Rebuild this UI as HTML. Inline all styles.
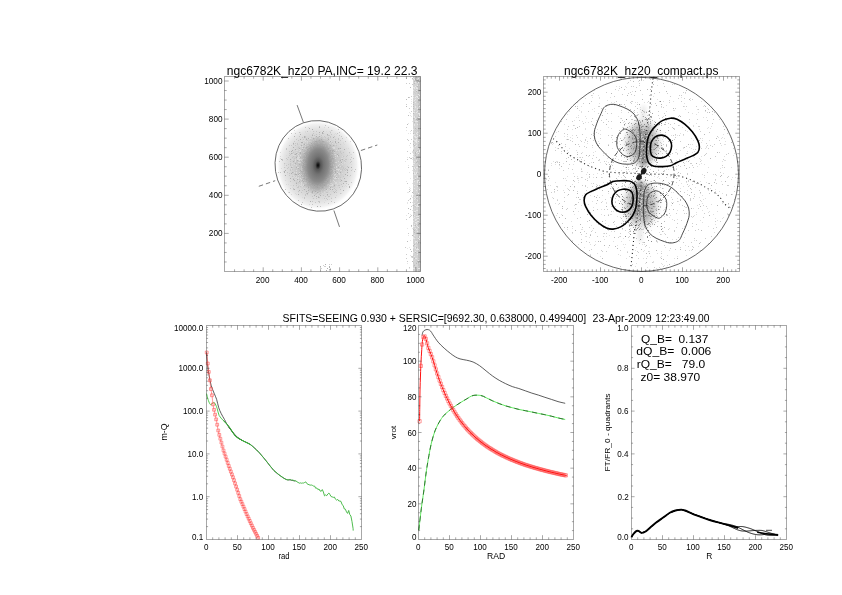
<!DOCTYPE html>
<html><head><meta charset="utf-8"><style>
html,body{margin:0;padding:0;background:#fff;}
svg{display:block;}
text{font-family:"Liberation Sans",sans-serif;white-space:pre;fill:#000;opacity:0.999;}
</style></head><body>
<svg width="842" height="595" viewBox="0 0 842 595">
<rect width="842" height="595" fill="#fff"/>
<defs><radialGradient id="core" cx="0.5" cy="0.5" r="0.5"><stop offset="0" stop-color="#000"/><stop offset="0.06" stop-color="#222"/><stop offset="0.14" stop-color="#555"/><stop offset="0.3" stop-color="#727272"/><stop offset="0.55" stop-color="#8a8a8a"/><stop offset="0.8" stop-color="#a0a0a0" stop-opacity="0.6"/><stop offset="1" stop-color="#b0b0b0" stop-opacity="0"/></radialGradient><radialGradient id="halo" cx="0.5" cy="0.5" r="0.5"><stop offset="0" stop-color="#a8a8a8"/><stop offset="0.35" stop-color="#bcbcbc"/><stop offset="0.6" stop-color="#d0d0d0"/><stop offset="0.82" stop-color="#e4e4e4"/><stop offset="0.92" stop-color="#f2f2f2"/><stop offset="1" stop-color="#fff" stop-opacity="0"/></radialGradient></defs>
<ellipse cx="318.0" cy="165.3" rx="42" ry="45" fill="url(#halo)"/>
<path d="M319 127h1v1h-1zM309 128h1v1h-1zM312 129h1v1h-1zM323 131h1v1h-1zM319 132h1v1h-1zM322 132h1v1h-1zM322 133h1v1h-1zM300 134h1v1h-1zM327 134h1v1h-1zM312 135h1v1h-1zM294 136h1v1h-1zM304 136h1v1h-1zM316 136h1v1h-1zM319 136h1v1h-1zM304 137h1v1h-1zM333 137h1v1h-1zM308 138h1v1h-1zM313 138h1v1h-1zM300 139h1v1h-1zM306 139h1v1h-1zM321 139h1v1h-1zM328 139h1v1h-1zM319 140h1v1h-1zM315 141h1v1h-1zM316 141h1v1h-1zM322 141h1v1h-1zM323 141h1v1h-1zM330 141h1v1h-1zM335 141h1v1h-1zM301 142h1v1h-1zM302 142h1v1h-1zM335 142h1v1h-1zM338 142h1v1h-1zM293 143h1v1h-1zM311 143h1v1h-1zM304 144h1v1h-1zM301 145h1v1h-1zM317 145h1v1h-1zM330 145h1v1h-1zM333 145h1v1h-1zM293 147h1v1h-1zM303 147h1v1h-1zM306 147h1v1h-1zM310 147h1v1h-1zM313 147h1v1h-1zM323 147h1v1h-1zM299 148h1v1h-1zM309 148h1v1h-1zM321 148h1v1h-1zM323 148h1v1h-1zM328 148h1v1h-1zM338 148h1v1h-1zM340 148h1v1h-1zM295 149h1v1h-1zM302 149h1v1h-1zM307 149h1v1h-1zM344 149h1v1h-1zM292 150h1v1h-1zM322 150h1v1h-1zM324 150h1v1h-1zM330 150h1v1h-1zM332 150h1v1h-1zM333 150h1v1h-1zM291 151h1v1h-1zM312 151h1v1h-1zM315 151h1v1h-1zM332 151h1v1h-1zM334 151h1v1h-1zM300 152h1v1h-1zM309 152h1v1h-1zM320 152h1v1h-1zM291 153h1v1h-1zM296 153h1v1h-1zM300 153h1v1h-1zM304 153h1v1h-1zM309 153h1v1h-1zM328 153h1v1h-1zM332 153h1v1h-1zM295 154h1v1h-1zM311 154h1v1h-1zM315 154h1v1h-1zM324 154h1v1h-1zM327 154h1v1h-1zM337 154h1v1h-1zM306 155h1v1h-1zM309 155h1v1h-1zM314 155h1v1h-1zM323 155h1v1h-1zM338 155h1v1h-1zM314 156h1v1h-1zM321 156h1v1h-1zM323 156h1v1h-1zM296 157h1v1h-1zM300 157h1v1h-1zM316 157h1v1h-1zM319 157h1v1h-1zM324 157h1v1h-1zM326 157h1v1h-1zM310 158h1v1h-1zM313 158h1v1h-1zM322 158h1v1h-1zM323 158h1v1h-1zM332 158h1v1h-1zM333 158h1v1h-1zM281 159h1v1h-1zM290 159h1v1h-1zM326 159h1v1h-1zM342 159h1v1h-1zM297 160h1v1h-1zM303 160h1v1h-1zM326 160h1v1h-1zM340 160h1v1h-1zM293 161h1v1h-1zM305 161h1v1h-1zM319 161h1v1h-1zM325 161h1v1h-1zM327 161h1v1h-1zM330 161h1v1h-1zM308 162h1v1h-1zM314 162h1v1h-1zM324 162h1v1h-1zM341 162h1v1h-1zM295 163h1v1h-1zM303 163h1v1h-1zM299 164h1v1h-1zM306 164h1v1h-1zM303 165h1v1h-1zM313 165h1v1h-1zM304 166h1v1h-1zM308 166h1v1h-1zM314 166h1v1h-1zM327 166h1v1h-1zM330 166h1v1h-1zM291 167h1v1h-1zM296 167h1v1h-1zM302 167h1v1h-1zM305 167h1v1h-1zM313 167h1v1h-1zM315 167h1v1h-1zM318 167h1v1h-1zM320 167h1v1h-1zM326 167h1v1h-1zM327 167h1v1h-1zM331 167h1v1h-1zM338 167h1v1h-1zM348 167h1v1h-1zM351 167h1v1h-1zM298 168h1v1h-1zM304 168h1v1h-1zM317 168h1v1h-1zM309 169h1v1h-1zM310 169h1v1h-1zM311 169h1v1h-1zM316 169h1v1h-1zM326 169h1v1h-1zM331 169h1v1h-1zM335 169h1v1h-1zM285 170h1v1h-1zM300 170h1v1h-1zM306 170h1v1h-1zM310 170h1v1h-1zM347 170h1v1h-1zM284 171h1v1h-1zM301 171h1v1h-1zM328 171h1v1h-1zM335 171h1v1h-1zM284 172h1v1h-1zM292 172h1v1h-1zM310 172h1v1h-1zM312 172h1v1h-1zM335 172h1v1h-1zM340 172h1v1h-1zM347 172h1v1h-1zM291 173h1v1h-1zM299 173h1v1h-1zM328 173h1v1h-1zM337 173h1v1h-1zM295 174h1v1h-1zM296 174h1v1h-1zM298 174h1v1h-1zM308 174h1v1h-1zM320 174h1v1h-1zM345 174h1v1h-1zM285 175h1v1h-1zM301 175h1v1h-1zM312 175h1v1h-1zM319 175h1v1h-1zM320 175h1v1h-1zM347 175h1v1h-1zM309 176h1v1h-1zM314 176h1v1h-1zM315 176h1v1h-1zM321 177h1v1h-1zM336 177h1v1h-1zM290 178h1v1h-1zM303 178h1v1h-1zM304 178h1v1h-1zM316 178h1v1h-1zM318 178h1v1h-1zM326 178h1v1h-1zM344 178h1v1h-1zM293 179h1v1h-1zM297 179h1v1h-1zM306 179h1v1h-1zM316 179h1v1h-1zM321 179h1v1h-1zM294 180h1v1h-1zM302 180h1v1h-1zM341 180h1v1h-1zM299 181h1v1h-1zM303 181h1v1h-1zM309 181h1v1h-1zM317 181h1v1h-1zM320 181h1v1h-1zM327 181h1v1h-1zM345 181h1v1h-1zM346 181h1v1h-1zM296 183h1v1h-1zM312 183h1v1h-1zM343 183h1v1h-1zM317 184h1v1h-1zM304 185h1v1h-1zM314 185h1v1h-1zM324 185h1v1h-1zM334 185h1v1h-1zM349 186h1v1h-1zM308 187h1v1h-1zM317 187h1v1h-1zM322 187h1v1h-1zM330 187h1v1h-1zM349 187h1v1h-1zM294 189h1v1h-1zM304 189h1v1h-1zM326 189h1v1h-1zM330 189h1v1h-1zM332 189h1v1h-1zM299 190h1v1h-1zM308 190h1v1h-1zM343 190h1v1h-1zM306 191h1v1h-1zM312 191h1v1h-1zM315 191h1v1h-1zM312 192h1v1h-1zM317 192h1v1h-1zM334 192h1v1h-1zM307 193h1v1h-1zM298 194h1v1h-1zM327 194h1v1h-1zM314 195h1v1h-1zM320 195h1v1h-1zM316 196h1v1h-1zM318 197h1v1h-1zM310 201h1v1h-1zM301 204h1v1h-1zM317 206h1v1h-1z" fill="#b0b0b0"/>
<path d="M325 125h1v1h-1zM319 126h1v1h-1zM305 127h1v1h-1zM328 127h1v1h-1zM338 129h1v1h-1zM331 130h1v1h-1zM307 131h1v1h-1zM313 131h1v1h-1zM316 131h1v1h-1zM299 132h1v1h-1zM330 132h1v1h-1zM339 132h1v1h-1zM291 133h1v1h-1zM295 133h1v1h-1zM313 133h1v1h-1zM323 133h1v1h-1zM337 133h1v1h-1zM312 134h1v1h-1zM316 134h1v1h-1zM319 134h1v1h-1zM331 134h1v1h-1zM314 135h1v1h-1zM321 135h1v1h-1zM327 135h1v1h-1zM328 135h1v1h-1zM329 135h1v1h-1zM339 135h1v1h-1zM299 136h1v1h-1zM305 136h1v1h-1zM324 136h1v1h-1zM330 136h1v1h-1zM334 136h1v1h-1zM341 136h1v1h-1zM302 137h1v1h-1zM305 137h1v1h-1zM311 137h1v1h-1zM317 137h1v1h-1zM318 137h1v1h-1zM321 137h1v1h-1zM325 137h1v1h-1zM328 137h1v1h-1zM330 137h1v1h-1zM288 138h1v1h-1zM306 138h1v1h-1zM314 138h1v1h-1zM317 138h1v1h-1zM327 138h1v1h-1zM328 138h1v1h-1zM338 138h1v1h-1zM342 138h1v1h-1zM296 139h1v1h-1zM303 139h1v1h-1zM310 139h1v1h-1zM313 139h1v1h-1zM316 139h1v1h-1zM319 139h1v1h-1zM335 139h1v1h-1zM338 139h1v1h-1zM298 140h1v1h-1zM307 140h1v1h-1zM318 140h1v1h-1zM321 140h1v1h-1zM327 140h1v1h-1zM340 140h1v1h-1zM294 141h1v1h-1zM318 141h1v1h-1zM320 141h1v1h-1zM324 141h1v1h-1zM345 141h1v1h-1zM314 142h1v1h-1zM319 142h1v1h-1zM332 142h1v1h-1zM295 143h1v1h-1zM297 143h1v1h-1zM304 143h1v1h-1zM314 143h1v1h-1zM317 143h1v1h-1zM320 143h1v1h-1zM328 143h1v1h-1zM331 143h1v1h-1zM336 143h1v1h-1zM293 144h1v1h-1zM297 144h1v1h-1zM303 144h1v1h-1zM315 144h1v1h-1zM323 144h1v1h-1zM325 144h1v1h-1zM329 144h1v1h-1zM340 144h1v1h-1zM289 145h1v1h-1zM291 145h1v1h-1zM295 145h1v1h-1zM311 145h1v1h-1zM315 145h1v1h-1zM316 145h1v1h-1zM319 145h1v1h-1zM320 145h1v1h-1zM334 145h1v1h-1zM336 145h1v1h-1zM312 146h1v1h-1zM315 146h1v1h-1zM319 146h1v1h-1zM320 146h1v1h-1zM324 146h1v1h-1zM331 146h1v1h-1zM332 146h1v1h-1zM298 147h1v1h-1zM305 147h1v1h-1zM326 147h1v1h-1zM330 147h1v1h-1zM286 148h1v1h-1zM306 148h1v1h-1zM315 148h1v1h-1zM317 148h1v1h-1zM320 148h1v1h-1zM327 148h1v1h-1zM339 148h1v1h-1zM286 149h1v1h-1zM301 149h1v1h-1zM304 149h1v1h-1zM312 149h1v1h-1zM316 149h1v1h-1zM319 149h1v1h-1zM323 149h1v1h-1zM324 149h1v1h-1zM326 149h1v1h-1zM327 149h1v1h-1zM332 149h1v1h-1zM333 149h1v1h-1zM334 149h1v1h-1zM338 149h1v1h-1zM303 150h1v1h-1zM305 150h1v1h-1zM307 150h1v1h-1zM308 150h1v1h-1zM316 150h1v1h-1zM317 150h1v1h-1zM319 150h1v1h-1zM320 150h1v1h-1zM331 150h1v1h-1zM289 151h1v1h-1zM301 151h1v1h-1zM304 151h1v1h-1zM306 151h1v1h-1zM310 151h1v1h-1zM311 151h1v1h-1zM313 151h1v1h-1zM314 151h1v1h-1zM320 151h1v1h-1zM322 151h1v1h-1zM323 151h1v1h-1zM324 151h1v1h-1zM326 151h1v1h-1zM329 151h1v1h-1zM335 151h1v1h-1zM337 151h1v1h-1zM340 151h1v1h-1zM293 152h1v1h-1zM299 152h1v1h-1zM307 152h1v1h-1zM314 152h1v1h-1zM316 152h1v1h-1zM321 152h1v1h-1zM325 152h1v1h-1zM328 152h1v1h-1zM330 152h1v1h-1zM340 152h1v1h-1zM343 152h1v1h-1zM349 152h1v1h-1zM353 152h1v1h-1zM289 153h1v1h-1zM292 153h1v1h-1zM299 153h1v1h-1zM303 153h1v1h-1zM317 153h1v1h-1zM319 153h1v1h-1zM322 153h1v1h-1zM323 153h1v1h-1zM326 153h1v1h-1zM327 153h1v1h-1zM330 153h1v1h-1zM331 153h1v1h-1zM334 153h1v1h-1zM336 153h1v1h-1zM338 153h1v1h-1zM341 153h1v1h-1zM290 154h1v1h-1zM294 154h1v1h-1zM296 154h1v1h-1zM298 154h1v1h-1zM303 154h1v1h-1zM306 154h1v1h-1zM316 154h1v1h-1zM317 154h1v1h-1zM318 154h1v1h-1zM322 154h1v1h-1zM330 154h1v1h-1zM289 155h1v1h-1zM302 155h1v1h-1zM303 155h1v1h-1zM304 155h1v1h-1zM307 155h1v1h-1zM308 155h1v1h-1zM315 155h1v1h-1zM316 155h1v1h-1zM322 155h1v1h-1zM326 155h1v1h-1zM333 155h1v1h-1zM335 155h1v1h-1zM347 155h1v1h-1zM293 156h1v1h-1zM296 156h1v1h-1zM297 156h1v1h-1zM310 156h1v1h-1zM312 156h1v1h-1zM317 156h1v1h-1zM318 156h1v1h-1zM319 156h1v1h-1zM324 156h1v1h-1zM327 156h1v1h-1zM329 156h1v1h-1zM330 156h1v1h-1zM338 156h1v1h-1zM343 156h1v1h-1zM346 156h1v1h-1zM288 157h1v1h-1zM292 157h1v1h-1zM306 157h1v1h-1zM307 157h1v1h-1zM310 157h1v1h-1zM313 157h1v1h-1zM317 157h1v1h-1zM320 157h1v1h-1zM322 157h1v1h-1zM328 157h1v1h-1zM329 157h1v1h-1zM339 157h1v1h-1zM351 157h1v1h-1zM286 158h1v1h-1zM294 158h1v1h-1zM299 158h1v1h-1zM301 158h1v1h-1zM302 158h1v1h-1zM304 158h1v1h-1zM314 158h1v1h-1zM318 158h1v1h-1zM325 158h1v1h-1zM327 158h1v1h-1zM336 158h1v1h-1zM353 158h1v1h-1zM282 159h1v1h-1zM287 159h1v1h-1zM305 159h1v1h-1zM306 159h1v1h-1zM307 159h1v1h-1zM316 159h1v1h-1zM319 159h1v1h-1zM330 159h1v1h-1zM332 159h1v1h-1zM337 159h1v1h-1zM340 159h1v1h-1zM341 159h1v1h-1zM345 159h1v1h-1zM346 159h1v1h-1zM350 159h1v1h-1zM282 160h1v1h-1zM294 160h1v1h-1zM296 160h1v1h-1zM302 160h1v1h-1zM309 160h1v1h-1zM318 160h1v1h-1zM321 160h1v1h-1zM322 160h1v1h-1zM325 160h1v1h-1zM328 160h1v1h-1zM330 160h1v1h-1zM336 160h1v1h-1zM339 160h1v1h-1zM344 160h1v1h-1zM279 161h1v1h-1zM290 161h1v1h-1zM296 161h1v1h-1zM299 161h1v1h-1zM307 161h1v1h-1zM311 161h1v1h-1zM313 161h1v1h-1zM315 161h1v1h-1zM323 161h1v1h-1zM336 161h1v1h-1zM339 161h1v1h-1zM340 161h1v1h-1zM345 161h1v1h-1zM351 161h1v1h-1zM296 162h1v1h-1zM305 162h1v1h-1zM317 162h1v1h-1zM318 162h1v1h-1zM319 162h1v1h-1zM326 162h1v1h-1zM327 162h1v1h-1zM334 162h1v1h-1zM337 162h1v1h-1zM350 162h1v1h-1zM284 163h1v1h-1zM290 163h1v1h-1zM297 163h1v1h-1zM299 163h1v1h-1zM300 163h1v1h-1zM301 163h1v1h-1zM302 163h1v1h-1zM310 163h1v1h-1zM311 163h1v1h-1zM312 163h1v1h-1zM318 163h1v1h-1zM326 163h1v1h-1zM327 163h1v1h-1zM330 163h1v1h-1zM331 163h1v1h-1zM332 163h1v1h-1zM336 163h1v1h-1zM288 164h1v1h-1zM290 164h1v1h-1zM305 164h1v1h-1zM309 164h1v1h-1zM310 164h1v1h-1zM312 164h1v1h-1zM313 164h1v1h-1zM319 164h1v1h-1zM321 164h1v1h-1zM324 164h1v1h-1zM328 164h1v1h-1zM329 164h1v1h-1zM332 164h1v1h-1zM335 164h1v1h-1zM286 165h1v1h-1zM290 165h1v1h-1zM299 165h1v1h-1zM306 165h1v1h-1zM307 165h1v1h-1zM310 165h1v1h-1zM312 165h1v1h-1zM314 165h1v1h-1zM316 165h1v1h-1zM321 165h1v1h-1zM326 165h1v1h-1zM328 165h1v1h-1zM334 165h1v1h-1zM335 165h1v1h-1zM339 165h1v1h-1zM307 166h1v1h-1zM316 166h1v1h-1zM317 166h1v1h-1zM320 166h1v1h-1zM322 166h1v1h-1zM323 166h1v1h-1zM329 166h1v1h-1zM334 166h1v1h-1zM341 166h1v1h-1zM342 166h1v1h-1zM347 166h1v1h-1zM284 167h1v1h-1zM288 167h1v1h-1zM292 167h1v1h-1zM304 167h1v1h-1zM324 167h1v1h-1zM328 167h1v1h-1zM333 167h1v1h-1zM341 167h1v1h-1zM343 167h1v1h-1zM287 168h1v1h-1zM300 168h1v1h-1zM306 168h1v1h-1zM308 168h1v1h-1zM312 168h1v1h-1zM319 168h1v1h-1zM320 168h1v1h-1zM333 168h1v1h-1zM334 168h1v1h-1zM335 168h1v1h-1zM343 168h1v1h-1zM345 168h1v1h-1zM290 169h1v1h-1zM292 169h1v1h-1zM295 169h1v1h-1zM300 169h1v1h-1zM302 169h1v1h-1zM312 169h1v1h-1zM317 169h1v1h-1zM340 169h1v1h-1zM342 169h1v1h-1zM344 169h1v1h-1zM346 169h1v1h-1zM347 169h1v1h-1zM355 169h1v1h-1zM290 170h1v1h-1zM298 170h1v1h-1zM303 170h1v1h-1zM304 170h1v1h-1zM308 170h1v1h-1zM312 170h1v1h-1zM320 170h1v1h-1zM322 170h1v1h-1zM323 170h1v1h-1zM324 170h1v1h-1zM329 170h1v1h-1zM335 170h1v1h-1zM337 170h1v1h-1zM339 170h1v1h-1zM342 170h1v1h-1zM345 170h1v1h-1zM351 170h1v1h-1zM295 171h1v1h-1zM305 171h1v1h-1zM306 171h1v1h-1zM312 171h1v1h-1zM318 171h1v1h-1zM320 171h1v1h-1zM326 171h1v1h-1zM327 171h1v1h-1zM329 171h1v1h-1zM334 171h1v1h-1zM337 171h1v1h-1zM354 171h1v1h-1zM278 172h1v1h-1zM280 172h1v1h-1zM287 172h1v1h-1zM293 172h1v1h-1zM298 172h1v1h-1zM301 172h1v1h-1zM315 172h1v1h-1zM316 172h1v1h-1zM319 172h1v1h-1zM324 172h1v1h-1zM326 172h1v1h-1zM332 172h1v1h-1zM289 173h1v1h-1zM295 173h1v1h-1zM297 173h1v1h-1zM300 173h1v1h-1zM303 173h1v1h-1zM305 173h1v1h-1zM306 173h1v1h-1zM308 173h1v1h-1zM313 173h1v1h-1zM316 173h1v1h-1zM319 173h1v1h-1zM320 173h1v1h-1zM323 173h1v1h-1zM325 173h1v1h-1zM335 173h1v1h-1zM336 173h1v1h-1zM294 174h1v1h-1zM300 174h1v1h-1zM311 174h1v1h-1zM314 174h1v1h-1zM323 174h1v1h-1zM328 174h1v1h-1zM331 174h1v1h-1zM333 174h1v1h-1zM289 175h1v1h-1zM304 175h1v1h-1zM308 175h1v1h-1zM309 175h1v1h-1zM311 175h1v1h-1zM313 175h1v1h-1zM314 175h1v1h-1zM315 175h1v1h-1zM318 175h1v1h-1zM323 175h1v1h-1zM324 175h1v1h-1zM326 175h1v1h-1zM333 175h1v1h-1zM338 175h1v1h-1zM350 175h1v1h-1zM292 176h1v1h-1zM295 176h1v1h-1zM297 176h1v1h-1zM298 176h1v1h-1zM306 176h1v1h-1zM318 176h1v1h-1zM323 176h1v1h-1zM324 176h1v1h-1zM328 176h1v1h-1zM329 176h1v1h-1zM331 176h1v1h-1zM333 176h1v1h-1zM338 176h1v1h-1zM343 176h1v1h-1zM304 177h1v1h-1zM309 177h1v1h-1zM312 177h1v1h-1zM327 177h1v1h-1zM329 177h1v1h-1zM332 177h1v1h-1zM338 177h1v1h-1zM340 177h1v1h-1zM293 178h1v1h-1zM302 178h1v1h-1zM317 178h1v1h-1zM329 178h1v1h-1zM333 178h1v1h-1zM299 179h1v1h-1zM303 179h1v1h-1zM307 179h1v1h-1zM309 179h1v1h-1zM311 179h1v1h-1zM312 179h1v1h-1zM315 179h1v1h-1zM320 179h1v1h-1zM324 179h1v1h-1zM328 179h1v1h-1zM329 179h1v1h-1zM332 179h1v1h-1zM334 179h1v1h-1zM336 179h1v1h-1zM337 179h1v1h-1zM340 179h1v1h-1zM300 180h1v1h-1zM313 180h1v1h-1zM314 180h1v1h-1zM315 180h1v1h-1zM317 180h1v1h-1zM318 180h1v1h-1zM320 180h1v1h-1zM324 180h1v1h-1zM326 180h1v1h-1zM327 180h1v1h-1zM331 180h1v1h-1zM332 180h1v1h-1zM335 180h1v1h-1zM290 181h1v1h-1zM301 181h1v1h-1zM304 181h1v1h-1zM305 181h1v1h-1zM312 181h1v1h-1zM321 181h1v1h-1zM322 181h1v1h-1zM333 181h1v1h-1zM340 181h1v1h-1zM344 181h1v1h-1zM296 182h1v1h-1zM298 182h1v1h-1zM300 182h1v1h-1zM303 182h1v1h-1zM307 182h1v1h-1zM311 182h1v1h-1zM312 182h1v1h-1zM317 182h1v1h-1zM319 182h1v1h-1zM321 182h1v1h-1zM327 182h1v1h-1zM331 182h1v1h-1zM351 182h1v1h-1zM309 183h1v1h-1zM311 183h1v1h-1zM316 183h1v1h-1zM319 183h1v1h-1zM321 183h1v1h-1zM325 183h1v1h-1zM327 183h1v1h-1zM329 183h1v1h-1zM346 183h1v1h-1zM305 184h1v1h-1zM306 184h1v1h-1zM307 184h1v1h-1zM308 184h1v1h-1zM309 184h1v1h-1zM312 184h1v1h-1zM313 184h1v1h-1zM320 184h1v1h-1zM323 184h1v1h-1zM326 184h1v1h-1zM334 184h1v1h-1zM341 184h1v1h-1zM348 184h1v1h-1zM293 185h1v1h-1zM296 185h1v1h-1zM305 185h1v1h-1zM307 185h1v1h-1zM309 185h1v1h-1zM319 185h1v1h-1zM321 185h1v1h-1zM322 185h1v1h-1zM323 185h1v1h-1zM325 185h1v1h-1zM328 185h1v1h-1zM338 185h1v1h-1zM339 185h1v1h-1zM298 186h1v1h-1zM300 186h1v1h-1zM303 186h1v1h-1zM306 186h1v1h-1zM308 186h1v1h-1zM326 186h1v1h-1zM331 186h1v1h-1zM333 186h1v1h-1zM334 186h1v1h-1zM342 186h1v1h-1zM297 187h1v1h-1zM298 187h1v1h-1zM315 187h1v1h-1zM332 187h1v1h-1zM339 187h1v1h-1zM290 188h1v1h-1zM293 188h1v1h-1zM310 188h1v1h-1zM313 188h1v1h-1zM319 188h1v1h-1zM329 188h1v1h-1zM334 188h1v1h-1zM285 189h1v1h-1zM293 189h1v1h-1zM318 189h1v1h-1zM335 189h1v1h-1zM340 189h1v1h-1zM302 190h1v1h-1zM313 190h1v1h-1zM314 190h1v1h-1zM336 190h1v1h-1zM298 191h1v1h-1zM319 191h1v1h-1zM320 191h1v1h-1zM333 191h1v1h-1zM335 191h1v1h-1zM289 192h1v1h-1zM301 192h1v1h-1zM308 192h1v1h-1zM311 192h1v1h-1zM318 192h1v1h-1zM326 192h1v1h-1zM327 192h1v1h-1zM336 192h1v1h-1zM306 193h1v1h-1zM312 193h1v1h-1zM316 193h1v1h-1zM320 193h1v1h-1zM340 193h1v1h-1zM305 194h1v1h-1zM307 194h1v1h-1zM315 194h1v1h-1zM319 194h1v1h-1zM330 194h1v1h-1zM305 195h1v1h-1zM323 195h1v1h-1zM327 195h1v1h-1zM312 196h1v1h-1zM318 196h1v1h-1zM325 196h1v1h-1zM328 196h1v1h-1zM329 196h1v1h-1zM304 197h1v1h-1zM319 197h1v1h-1zM335 197h1v1h-1zM304 198h1v1h-1zM313 198h1v1h-1zM316 198h1v1h-1zM324 198h1v1h-1zM326 198h1v1h-1zM331 198h1v1h-1zM327 199h1v1h-1zM298 200h1v1h-1zM312 201h1v1h-1zM318 201h1v1h-1zM319 201h1v1h-1zM331 201h1v1h-1zM302 202h1v1h-1zM315 202h1v1h-1zM319 202h1v1h-1zM334 202h1v1h-1zM328 203h1v1h-1zM312 204h1v1h-1zM320 206h1v1h-1zM311 207h1v1h-1z" fill="#c6c6c6"/>
<path d="M308 127h1v1h-1zM324 127h1v1h-1zM294 130h1v1h-1zM332 130h1v1h-1zM305 131h1v1h-1zM310 131h1v1h-1zM314 131h1v1h-1zM320 131h1v1h-1zM326 131h1v1h-1zM329 131h1v1h-1zM330 131h1v1h-1zM300 132h1v1h-1zM305 132h1v1h-1zM320 132h1v1h-1zM306 133h1v1h-1zM308 133h1v1h-1zM324 133h1v1h-1zM330 133h1v1h-1zM335 133h1v1h-1zM309 134h1v1h-1zM310 134h1v1h-1zM318 134h1v1h-1zM321 134h1v1h-1zM325 134h1v1h-1zM334 134h1v1h-1zM336 134h1v1h-1zM308 135h1v1h-1zM316 135h1v1h-1zM318 135h1v1h-1zM319 135h1v1h-1zM322 135h1v1h-1zM324 135h1v1h-1zM313 136h1v1h-1zM314 136h1v1h-1zM317 136h1v1h-1zM323 136h1v1h-1zM303 137h1v1h-1zM314 137h1v1h-1zM319 137h1v1h-1zM320 137h1v1h-1zM334 137h1v1h-1zM346 137h1v1h-1zM297 138h1v1h-1zM309 138h1v1h-1zM310 138h1v1h-1zM323 138h1v1h-1zM324 138h1v1h-1zM335 138h1v1h-1zM304 139h1v1h-1zM315 139h1v1h-1zM332 139h1v1h-1zM301 140h1v1h-1zM303 140h1v1h-1zM304 140h1v1h-1zM313 140h1v1h-1zM315 140h1v1h-1zM323 140h1v1h-1zM324 140h1v1h-1zM330 140h1v1h-1zM334 140h1v1h-1zM338 140h1v1h-1zM301 141h1v1h-1zM305 141h1v1h-1zM307 141h1v1h-1zM309 141h1v1h-1zM310 141h1v1h-1zM311 141h1v1h-1zM327 141h1v1h-1zM329 141h1v1h-1zM331 141h1v1h-1zM350 141h1v1h-1zM293 142h1v1h-1zM296 142h1v1h-1zM303 142h1v1h-1zM307 142h1v1h-1zM311 142h1v1h-1zM313 142h1v1h-1zM315 142h1v1h-1zM318 142h1v1h-1zM334 142h1v1h-1zM336 142h1v1h-1zM339 142h1v1h-1zM343 142h1v1h-1zM298 143h1v1h-1zM300 143h1v1h-1zM307 143h1v1h-1zM309 143h1v1h-1zM310 143h1v1h-1zM312 143h1v1h-1zM318 143h1v1h-1zM319 143h1v1h-1zM323 143h1v1h-1zM324 143h1v1h-1zM329 143h1v1h-1zM330 143h1v1h-1zM332 143h1v1h-1zM343 143h1v1h-1zM294 144h1v1h-1zM296 144h1v1h-1zM302 144h1v1h-1zM305 144h1v1h-1zM310 144h1v1h-1zM311 144h1v1h-1zM313 144h1v1h-1zM335 144h1v1h-1zM341 144h1v1h-1zM344 144h1v1h-1zM299 145h1v1h-1zM307 145h1v1h-1zM308 145h1v1h-1zM313 145h1v1h-1zM314 145h1v1h-1zM321 145h1v1h-1zM323 145h1v1h-1zM325 145h1v1h-1zM328 145h1v1h-1zM339 145h1v1h-1zM292 146h1v1h-1zM300 146h1v1h-1zM302 146h1v1h-1zM305 146h1v1h-1zM309 146h1v1h-1zM311 146h1v1h-1zM316 146h1v1h-1zM318 146h1v1h-1zM325 146h1v1h-1zM328 146h1v1h-1zM292 147h1v1h-1zM308 147h1v1h-1zM309 147h1v1h-1zM312 147h1v1h-1zM318 147h1v1h-1zM320 147h1v1h-1zM321 147h1v1h-1zM328 147h1v1h-1zM332 147h1v1h-1zM333 147h1v1h-1zM334 147h1v1h-1zM343 147h1v1h-1zM291 148h1v1h-1zM295 148h1v1h-1zM302 148h1v1h-1zM304 148h1v1h-1zM307 148h1v1h-1zM312 148h1v1h-1zM318 148h1v1h-1zM319 148h1v1h-1zM326 148h1v1h-1zM333 148h1v1h-1zM334 148h1v1h-1zM346 148h1v1h-1zM348 148h1v1h-1zM291 149h1v1h-1zM299 149h1v1h-1zM305 149h1v1h-1zM306 149h1v1h-1zM309 149h1v1h-1zM313 149h1v1h-1zM318 149h1v1h-1zM320 149h1v1h-1zM322 149h1v1h-1zM329 149h1v1h-1zM330 149h1v1h-1zM340 149h1v1h-1zM341 149h1v1h-1zM342 149h1v1h-1zM296 150h1v1h-1zM297 150h1v1h-1zM300 150h1v1h-1zM306 150h1v1h-1zM309 150h1v1h-1zM312 150h1v1h-1zM313 150h1v1h-1zM314 150h1v1h-1zM318 150h1v1h-1zM327 150h1v1h-1zM328 150h1v1h-1zM336 150h1v1h-1zM338 150h1v1h-1zM299 151h1v1h-1zM300 151h1v1h-1zM305 151h1v1h-1zM308 151h1v1h-1zM316 151h1v1h-1zM318 151h1v1h-1zM319 151h1v1h-1zM328 151h1v1h-1zM331 151h1v1h-1zM280 152h1v1h-1zM296 152h1v1h-1zM303 152h1v1h-1zM304 152h1v1h-1zM311 152h1v1h-1zM313 152h1v1h-1zM318 152h1v1h-1zM322 152h1v1h-1zM334 152h1v1h-1zM298 153h1v1h-1zM308 153h1v1h-1zM312 153h1v1h-1zM314 153h1v1h-1zM316 153h1v1h-1zM321 153h1v1h-1zM325 153h1v1h-1zM345 153h1v1h-1zM349 153h1v1h-1zM292 154h1v1h-1zM293 154h1v1h-1zM297 154h1v1h-1zM304 154h1v1h-1zM309 154h1v1h-1zM310 154h1v1h-1zM320 154h1v1h-1zM321 154h1v1h-1zM331 154h1v1h-1zM332 154h1v1h-1zM334 154h1v1h-1zM335 154h1v1h-1zM346 154h1v1h-1zM350 154h1v1h-1zM351 154h1v1h-1zM286 155h1v1h-1zM293 155h1v1h-1zM294 155h1v1h-1zM295 155h1v1h-1zM298 155h1v1h-1zM300 155h1v1h-1zM305 155h1v1h-1zM312 155h1v1h-1zM317 155h1v1h-1zM330 155h1v1h-1zM337 155h1v1h-1zM349 155h1v1h-1zM280 156h1v1h-1zM298 156h1v1h-1zM305 156h1v1h-1zM307 156h1v1h-1zM309 156h1v1h-1zM316 156h1v1h-1zM325 156h1v1h-1zM326 156h1v1h-1zM335 156h1v1h-1zM337 156h1v1h-1zM342 156h1v1h-1zM345 156h1v1h-1zM287 157h1v1h-1zM290 157h1v1h-1zM297 157h1v1h-1zM298 157h1v1h-1zM299 157h1v1h-1zM314 157h1v1h-1zM315 157h1v1h-1zM321 157h1v1h-1zM323 157h1v1h-1zM325 157h1v1h-1zM331 157h1v1h-1zM333 157h1v1h-1zM344 157h1v1h-1zM280 158h1v1h-1zM297 158h1v1h-1zM298 158h1v1h-1zM303 158h1v1h-1zM305 158h1v1h-1zM308 158h1v1h-1zM321 158h1v1h-1zM328 158h1v1h-1zM329 158h1v1h-1zM330 158h1v1h-1zM335 158h1v1h-1zM341 158h1v1h-1zM342 158h1v1h-1zM292 159h1v1h-1zM295 159h1v1h-1zM297 159h1v1h-1zM298 159h1v1h-1zM299 159h1v1h-1zM300 159h1v1h-1zM301 159h1v1h-1zM302 159h1v1h-1zM310 159h1v1h-1zM311 159h1v1h-1zM312 159h1v1h-1zM314 159h1v1h-1zM317 159h1v1h-1zM318 159h1v1h-1zM320 159h1v1h-1zM321 159h1v1h-1zM322 159h1v1h-1zM324 159h1v1h-1zM327 159h1v1h-1zM328 159h1v1h-1zM329 159h1v1h-1zM344 159h1v1h-1zM347 159h1v1h-1zM348 159h1v1h-1zM286 160h1v1h-1zM295 160h1v1h-1zM299 160h1v1h-1zM301 160h1v1h-1zM307 160h1v1h-1zM308 160h1v1h-1zM311 160h1v1h-1zM313 160h1v1h-1zM315 160h1v1h-1zM317 160h1v1h-1zM319 160h1v1h-1zM320 160h1v1h-1zM324 160h1v1h-1zM329 160h1v1h-1zM332 160h1v1h-1zM341 160h1v1h-1zM288 161h1v1h-1zM295 161h1v1h-1zM302 161h1v1h-1zM304 161h1v1h-1zM308 161h1v1h-1zM310 161h1v1h-1zM316 161h1v1h-1zM321 161h1v1h-1zM324 161h1v1h-1zM332 161h1v1h-1zM338 161h1v1h-1zM289 162h1v1h-1zM298 162h1v1h-1zM299 162h1v1h-1zM300 162h1v1h-1zM303 162h1v1h-1zM307 162h1v1h-1zM309 162h1v1h-1zM311 162h1v1h-1zM312 162h1v1h-1zM316 162h1v1h-1zM321 162h1v1h-1zM322 162h1v1h-1zM325 162h1v1h-1zM329 162h1v1h-1zM330 162h1v1h-1zM331 162h1v1h-1zM335 162h1v1h-1zM336 162h1v1h-1zM342 162h1v1h-1zM344 162h1v1h-1zM345 162h1v1h-1zM285 163h1v1h-1zM286 163h1v1h-1zM292 163h1v1h-1zM304 163h1v1h-1zM305 163h1v1h-1zM306 163h1v1h-1zM307 163h1v1h-1zM308 163h1v1h-1zM309 163h1v1h-1zM314 163h1v1h-1zM315 163h1v1h-1zM319 163h1v1h-1zM320 163h1v1h-1zM323 163h1v1h-1zM324 163h1v1h-1zM325 163h1v1h-1zM341 163h1v1h-1zM344 163h1v1h-1zM346 163h1v1h-1zM349 163h1v1h-1zM284 164h1v1h-1zM294 164h1v1h-1zM302 164h1v1h-1zM308 164h1v1h-1zM315 164h1v1h-1zM317 164h1v1h-1zM318 164h1v1h-1zM323 164h1v1h-1zM326 164h1v1h-1zM327 164h1v1h-1zM331 164h1v1h-1zM333 164h1v1h-1zM339 164h1v1h-1zM342 164h1v1h-1zM351 164h1v1h-1zM284 165h1v1h-1zM289 165h1v1h-1zM296 165h1v1h-1zM304 165h1v1h-1zM305 165h1v1h-1zM308 165h1v1h-1zM315 165h1v1h-1zM318 165h1v1h-1zM323 165h1v1h-1zM330 165h1v1h-1zM331 165h1v1h-1zM333 165h1v1h-1zM338 165h1v1h-1zM292 166h1v1h-1zM301 166h1v1h-1zM312 166h1v1h-1zM313 166h1v1h-1zM318 166h1v1h-1zM319 166h1v1h-1zM325 166h1v1h-1zM336 166h1v1h-1zM340 166h1v1h-1zM349 166h1v1h-1zM285 167h1v1h-1zM289 167h1v1h-1zM297 167h1v1h-1zM298 167h1v1h-1zM301 167h1v1h-1zM310 167h1v1h-1zM311 167h1v1h-1zM314 167h1v1h-1zM321 167h1v1h-1zM323 167h1v1h-1zM329 167h1v1h-1zM334 167h1v1h-1zM336 167h1v1h-1zM281 168h1v1h-1zM288 168h1v1h-1zM291 168h1v1h-1zM301 168h1v1h-1zM302 168h1v1h-1zM307 168h1v1h-1zM309 168h1v1h-1zM313 168h1v1h-1zM314 168h1v1h-1zM318 168h1v1h-1zM321 168h1v1h-1zM328 168h1v1h-1zM330 168h1v1h-1zM331 168h1v1h-1zM332 168h1v1h-1zM291 169h1v1h-1zM301 169h1v1h-1zM315 169h1v1h-1zM319 169h1v1h-1zM320 169h1v1h-1zM321 169h1v1h-1zM322 169h1v1h-1zM323 169h1v1h-1zM327 169h1v1h-1zM328 169h1v1h-1zM332 169h1v1h-1zM333 169h1v1h-1zM336 169h1v1h-1zM337 169h1v1h-1zM338 169h1v1h-1zM339 169h1v1h-1zM352 169h1v1h-1zM296 170h1v1h-1zM301 170h1v1h-1zM302 170h1v1h-1zM309 170h1v1h-1zM311 170h1v1h-1zM313 170h1v1h-1zM315 170h1v1h-1zM319 170h1v1h-1zM321 170h1v1h-1zM326 170h1v1h-1zM327 170h1v1h-1zM328 170h1v1h-1zM330 170h1v1h-1zM331 170h1v1h-1zM333 170h1v1h-1zM334 170h1v1h-1zM338 170h1v1h-1zM340 170h1v1h-1zM341 170h1v1h-1zM346 170h1v1h-1zM283 171h1v1h-1zM304 171h1v1h-1zM308 171h1v1h-1zM310 171h1v1h-1zM316 171h1v1h-1zM323 171h1v1h-1zM324 171h1v1h-1zM330 171h1v1h-1zM333 171h1v1h-1zM345 171h1v1h-1zM294 172h1v1h-1zM296 172h1v1h-1zM299 172h1v1h-1zM303 172h1v1h-1zM304 172h1v1h-1zM306 172h1v1h-1zM307 172h1v1h-1zM313 172h1v1h-1zM314 172h1v1h-1zM318 172h1v1h-1zM327 172h1v1h-1zM334 172h1v1h-1zM337 172h1v1h-1zM287 173h1v1h-1zM296 173h1v1h-1zM312 173h1v1h-1zM314 173h1v1h-1zM318 173h1v1h-1zM322 173h1v1h-1zM326 173h1v1h-1zM333 173h1v1h-1zM338 173h1v1h-1zM339 173h1v1h-1zM342 173h1v1h-1zM287 174h1v1h-1zM299 174h1v1h-1zM301 174h1v1h-1zM303 174h1v1h-1zM305 174h1v1h-1zM307 174h1v1h-1zM312 174h1v1h-1zM315 174h1v1h-1zM317 174h1v1h-1zM318 174h1v1h-1zM319 174h1v1h-1zM321 174h1v1h-1zM326 174h1v1h-1zM332 174h1v1h-1zM334 174h1v1h-1zM335 174h1v1h-1zM339 174h1v1h-1zM291 175h1v1h-1zM293 175h1v1h-1zM298 175h1v1h-1zM300 175h1v1h-1zM302 175h1v1h-1zM307 175h1v1h-1zM317 175h1v1h-1zM329 175h1v1h-1zM331 175h1v1h-1zM334 175h1v1h-1zM294 176h1v1h-1zM296 176h1v1h-1zM305 176h1v1h-1zM319 176h1v1h-1zM322 176h1v1h-1zM336 176h1v1h-1zM346 176h1v1h-1zM349 176h1v1h-1zM292 177h1v1h-1zM293 177h1v1h-1zM295 177h1v1h-1zM296 177h1v1h-1zM298 177h1v1h-1zM302 177h1v1h-1zM303 177h1v1h-1zM305 177h1v1h-1zM306 177h1v1h-1zM307 177h1v1h-1zM311 177h1v1h-1zM316 177h1v1h-1zM319 177h1v1h-1zM320 177h1v1h-1zM323 177h1v1h-1zM324 177h1v1h-1zM325 177h1v1h-1zM326 177h1v1h-1zM330 177h1v1h-1zM333 177h1v1h-1zM335 177h1v1h-1zM344 177h1v1h-1zM345 177h1v1h-1zM297 178h1v1h-1zM298 178h1v1h-1zM300 178h1v1h-1zM305 178h1v1h-1zM309 178h1v1h-1zM311 178h1v1h-1zM313 178h1v1h-1zM314 178h1v1h-1zM315 178h1v1h-1zM327 178h1v1h-1zM328 178h1v1h-1zM334 178h1v1h-1zM335 178h1v1h-1zM336 178h1v1h-1zM338 178h1v1h-1zM341 178h1v1h-1zM343 178h1v1h-1zM295 179h1v1h-1zM296 179h1v1h-1zM301 179h1v1h-1zM308 179h1v1h-1zM310 179h1v1h-1zM319 179h1v1h-1zM326 179h1v1h-1zM327 179h1v1h-1zM330 179h1v1h-1zM342 179h1v1h-1zM285 180h1v1h-1zM298 180h1v1h-1zM303 180h1v1h-1zM305 180h1v1h-1zM319 180h1v1h-1zM321 180h1v1h-1zM330 180h1v1h-1zM333 180h1v1h-1zM343 180h1v1h-1zM298 181h1v1h-1zM307 181h1v1h-1zM315 181h1v1h-1zM318 181h1v1h-1zM324 181h1v1h-1zM325 181h1v1h-1zM326 181h1v1h-1zM330 181h1v1h-1zM334 181h1v1h-1zM292 182h1v1h-1zM294 182h1v1h-1zM301 182h1v1h-1zM304 182h1v1h-1zM305 182h1v1h-1zM306 182h1v1h-1zM315 182h1v1h-1zM316 182h1v1h-1zM318 182h1v1h-1zM335 182h1v1h-1zM336 182h1v1h-1zM339 182h1v1h-1zM340 182h1v1h-1zM342 182h1v1h-1zM301 183h1v1h-1zM305 183h1v1h-1zM306 183h1v1h-1zM308 183h1v1h-1zM310 183h1v1h-1zM317 183h1v1h-1zM320 183h1v1h-1zM323 183h1v1h-1zM324 183h1v1h-1zM330 183h1v1h-1zM331 183h1v1h-1zM335 183h1v1h-1zM336 183h1v1h-1zM286 184h1v1h-1zM288 184h1v1h-1zM295 184h1v1h-1zM299 184h1v1h-1zM301 184h1v1h-1zM303 184h1v1h-1zM314 184h1v1h-1zM319 184h1v1h-1zM321 184h1v1h-1zM327 184h1v1h-1zM328 184h1v1h-1zM332 184h1v1h-1zM337 184h1v1h-1zM290 185h1v1h-1zM291 185h1v1h-1zM297 185h1v1h-1zM300 185h1v1h-1zM301 185h1v1h-1zM303 185h1v1h-1zM311 185h1v1h-1zM313 185h1v1h-1zM315 185h1v1h-1zM316 185h1v1h-1zM318 185h1v1h-1zM327 185h1v1h-1zM329 185h1v1h-1zM330 185h1v1h-1zM331 185h1v1h-1zM332 185h1v1h-1zM345 185h1v1h-1zM293 186h1v1h-1zM297 186h1v1h-1zM302 186h1v1h-1zM309 186h1v1h-1zM312 186h1v1h-1zM314 186h1v1h-1zM318 186h1v1h-1zM319 186h1v1h-1zM324 186h1v1h-1zM336 186h1v1h-1zM344 186h1v1h-1zM346 186h1v1h-1zM292 187h1v1h-1zM299 187h1v1h-1zM307 187h1v1h-1zM309 187h1v1h-1zM320 187h1v1h-1zM324 187h1v1h-1zM329 187h1v1h-1zM297 188h1v1h-1zM300 188h1v1h-1zM304 188h1v1h-1zM306 188h1v1h-1zM309 188h1v1h-1zM331 188h1v1h-1zM332 188h1v1h-1zM335 188h1v1h-1zM298 189h1v1h-1zM300 189h1v1h-1zM302 189h1v1h-1zM307 189h1v1h-1zM312 189h1v1h-1zM314 189h1v1h-1zM320 189h1v1h-1zM322 189h1v1h-1zM324 189h1v1h-1zM327 189h1v1h-1zM331 189h1v1h-1zM334 189h1v1h-1zM321 190h1v1h-1zM326 190h1v1h-1zM330 190h1v1h-1zM333 190h1v1h-1zM335 190h1v1h-1zM302 191h1v1h-1zM317 191h1v1h-1zM321 191h1v1h-1zM324 191h1v1h-1zM329 191h1v1h-1zM334 191h1v1h-1zM288 192h1v1h-1zM298 192h1v1h-1zM313 192h1v1h-1zM315 192h1v1h-1zM316 192h1v1h-1zM319 192h1v1h-1zM321 192h1v1h-1zM324 192h1v1h-1zM330 192h1v1h-1zM332 192h1v1h-1zM295 193h1v1h-1zM302 193h1v1h-1zM305 193h1v1h-1zM309 193h1v1h-1zM310 193h1v1h-1zM318 193h1v1h-1zM322 193h1v1h-1zM326 193h1v1h-1zM327 193h1v1h-1zM333 193h1v1h-1zM341 193h1v1h-1zM291 194h1v1h-1zM296 194h1v1h-1zM302 194h1v1h-1zM308 194h1v1h-1zM309 194h1v1h-1zM312 194h1v1h-1zM317 194h1v1h-1zM331 194h1v1h-1zM325 195h1v1h-1zM336 195h1v1h-1zM306 196h1v1h-1zM322 196h1v1h-1zM302 197h1v1h-1zM328 197h1v1h-1zM331 197h1v1h-1zM312 198h1v1h-1zM314 198h1v1h-1zM319 198h1v1h-1zM322 198h1v1h-1zM329 199h1v1h-1zM325 200h1v1h-1zM324 202h1v1h-1zM309 204h1v1h-1z" fill="#dadada"/>
<ellipse cx="318.0" cy="165.3" rx="19" ry="30" fill="url(#core)" transform="rotate(3 318.0 165.3)"/>
<rect x="413" y="76.5" width="7.5" height="195.0" fill="#d4d4d4"/>
<rect x="418" y="76.5" width="2.5" height="195.0" fill="#c2c2c2"/>
<path d="M417 77h1v1h-1zM412 78h1v1h-1zM417 80h1v1h-1zM418 80h1v1h-1zM414 81h1v1h-1zM417 82h1v1h-1zM419 82h1v1h-1zM414 83h1v1h-1zM418 84h1v1h-1zM417 86h1v1h-1zM410 87h1v1h-1zM418 89h1v1h-1zM419 90h1v1h-1zM416 91h1v1h-1zM408 97h1v1h-1zM419 97h1v1h-1zM406 99h1v1h-1zM413 102h1v1h-1zM413 104h1v1h-1zM418 105h1v1h-1zM406 106h1v1h-1zM413 106h1v1h-1zM413 108h1v1h-1zM413 113h1v1h-1zM408 115h1v1h-1zM413 118h1v1h-1zM418 118h1v1h-1zM417 120h1v1h-1zM419 121h1v1h-1zM414 122h1v1h-1zM418 123h1v1h-1zM407 124h1v1h-1zM415 128h1v1h-1zM413 133h1v1h-1zM413 141h1v1h-1zM419 143h1v1h-1zM413 144h1v1h-1zM418 144h1v1h-1zM419 144h1v1h-1zM414 145h1v1h-1zM418 145h1v1h-1zM413 150h1v1h-1zM415 152h1v1h-1zM415 153h1v1h-1zM415 155h1v1h-1zM411 158h1v1h-1zM416 158h1v1h-1zM417 161h1v1h-1zM416 162h1v1h-1zM419 170h1v1h-1zM413 173h1v1h-1zM417 173h1v1h-1zM415 179h1v1h-1zM409 191h1v1h-1zM418 191h1v1h-1zM412 192h1v1h-1zM410 198h1v1h-1zM416 198h1v1h-1zM410 202h1v1h-1zM413 205h1v1h-1zM418 207h1v1h-1zM408 208h1v1h-1zM410 209h1v1h-1zM414 212h1v1h-1zM413 215h1v1h-1zM411 225h1v1h-1zM415 225h1v1h-1zM413 229h1v1h-1zM419 229h1v1h-1zM414 230h1v1h-1zM414 232h1v1h-1zM412 235h1v1h-1zM418 237h1v1h-1zM407 241h1v1h-1zM414 244h1v1h-1zM413 245h1v1h-1zM416 247h1v1h-1zM410 249h1v1h-1zM411 251h1v1h-1zM415 252h1v1h-1zM419 257h1v1h-1zM414 258h1v1h-1zM412 261h1v1h-1zM417 261h1v1h-1zM416 263h1v1h-1zM414 265h1v1h-1zM415 267h1v1h-1z" fill="#bcbcbc"/>
<path d="M413 77h1v1h-1zM416 77h1v1h-1zM406 78h1v1h-1zM417 78h1v1h-1zM413 79h1v1h-1zM415 79h1v1h-1zM418 81h1v1h-1zM406 83h1v1h-1zM409 83h1v1h-1zM418 83h1v1h-1zM412 84h1v1h-1zM419 85h1v1h-1zM416 86h1v1h-1zM416 89h1v1h-1zM415 90h1v1h-1zM414 92h1v1h-1zM417 92h1v1h-1zM419 92h1v1h-1zM415 93h1v1h-1zM417 93h1v1h-1zM419 94h1v1h-1zM417 95h1v1h-1zM411 96h1v1h-1zM414 96h1v1h-1zM409 97h1v1h-1zM417 98h1v1h-1zM419 99h1v1h-1zM417 101h1v1h-1zM417 102h1v1h-1zM419 102h1v1h-1zM418 103h1v1h-1zM406 104h1v1h-1zM418 104h1v1h-1zM416 105h1v1h-1zM418 107h1v1h-1zM409 108h1v1h-1zM418 109h1v1h-1zM418 110h1v1h-1zM411 111h1v1h-1zM415 111h1v1h-1zM418 114h1v1h-1zM415 116h1v1h-1zM417 117h1v1h-1zM414 118h1v1h-1zM417 118h1v1h-1zM413 119h1v1h-1zM417 122h1v1h-1zM419 124h1v1h-1zM406 127h1v1h-1zM416 129h1v1h-1zM411 130h1v1h-1zM415 130h1v1h-1zM417 130h1v1h-1zM416 131h1v1h-1zM419 131h1v1h-1zM418 132h1v1h-1zM415 133h1v1h-1zM416 135h1v1h-1zM414 138h1v1h-1zM407 139h1v1h-1zM411 139h1v1h-1zM408 140h1v1h-1zM410 143h1v1h-1zM418 143h1v1h-1zM415 144h1v1h-1zM418 149h1v1h-1zM419 149h1v1h-1zM417 150h1v1h-1zM407 151h1v1h-1zM416 151h1v1h-1zM418 151h1v1h-1zM419 152h1v1h-1zM410 153h1v1h-1zM415 154h1v1h-1zM416 154h1v1h-1zM416 156h1v1h-1zM409 157h1v1h-1zM416 157h1v1h-1zM417 157h1v1h-1zM410 158h1v1h-1zM413 158h1v1h-1zM419 158h1v1h-1zM407 159h1v1h-1zM417 159h1v1h-1zM417 160h1v1h-1zM418 160h1v1h-1zM417 162h1v1h-1zM415 163h1v1h-1zM417 164h1v1h-1zM418 164h1v1h-1zM417 165h1v1h-1zM412 166h1v1h-1zM413 166h1v1h-1zM408 167h1v1h-1zM415 167h1v1h-1zM413 168h1v1h-1zM419 168h1v1h-1zM414 169h1v1h-1zM418 172h1v1h-1zM415 176h1v1h-1zM417 178h1v1h-1zM419 178h1v1h-1zM416 179h1v1h-1zM417 179h1v1h-1zM413 180h1v1h-1zM407 183h1v1h-1zM417 185h1v1h-1zM418 188h1v1h-1zM409 189h1v1h-1zM413 189h1v1h-1zM413 191h1v1h-1zM413 193h1v1h-1zM415 193h1v1h-1zM417 193h1v1h-1zM418 194h1v1h-1zM416 195h1v1h-1zM417 198h1v1h-1zM419 198h1v1h-1zM408 200h1v1h-1zM416 200h1v1h-1zM417 202h1v1h-1zM416 203h1v1h-1zM419 203h1v1h-1zM415 204h1v1h-1zM418 204h1v1h-1zM411 206h1v1h-1zM414 206h1v1h-1zM415 206h1v1h-1zM413 207h1v1h-1zM415 207h1v1h-1zM413 208h1v1h-1zM415 209h1v1h-1zM413 212h1v1h-1zM408 213h1v1h-1zM411 215h1v1h-1zM416 215h1v1h-1zM419 215h1v1h-1zM410 216h1v1h-1zM409 217h1v1h-1zM417 217h1v1h-1zM406 219h1v1h-1zM413 219h1v1h-1zM417 219h1v1h-1zM419 219h1v1h-1zM417 220h1v1h-1zM415 221h1v1h-1zM419 224h1v1h-1zM417 225h1v1h-1zM411 226h1v1h-1zM416 227h1v1h-1zM415 229h1v1h-1zM413 231h1v1h-1zM418 231h1v1h-1zM408 233h1v1h-1zM415 233h1v1h-1zM419 235h1v1h-1zM415 237h1v1h-1zM415 239h1v1h-1zM416 239h1v1h-1zM417 239h1v1h-1zM416 240h1v1h-1zM416 242h1v1h-1zM416 243h1v1h-1zM418 243h1v1h-1zM417 244h1v1h-1zM413 246h1v1h-1zM405 247h1v1h-1zM416 248h1v1h-1zM413 249h1v1h-1zM413 250h1v1h-1zM419 250h1v1h-1zM418 252h1v1h-1zM416 253h1v1h-1zM406 254h1v1h-1zM413 255h1v1h-1zM411 256h1v1h-1zM412 256h1v1h-1zM412 257h1v1h-1zM414 257h1v1h-1zM406 258h1v1h-1zM418 258h1v1h-1zM416 260h1v1h-1zM407 261h1v1h-1zM413 262h1v1h-1zM416 262h1v1h-1zM413 263h1v1h-1zM419 263h1v1h-1zM414 264h1v1h-1zM413 265h1v1h-1zM413 266h1v1h-1zM418 266h1v1h-1zM409 267h1v1h-1zM415 268h1v1h-1zM413 269h1v1h-1z" fill="#cccccc"/>
<path d="M410 77h1v1h-1zM413 78h1v1h-1zM416 78h1v1h-1zM418 78h1v1h-1zM412 79h1v1h-1zM414 79h1v1h-1zM416 79h1v1h-1zM419 80h1v1h-1zM415 82h1v1h-1zM418 82h1v1h-1zM417 85h1v1h-1zM415 86h1v1h-1zM413 87h1v1h-1zM414 87h1v1h-1zM416 87h1v1h-1zM414 88h1v1h-1zM416 88h1v1h-1zM417 88h1v1h-1zM413 90h1v1h-1zM416 90h1v1h-1zM418 94h1v1h-1zM413 95h1v1h-1zM419 95h1v1h-1zM416 96h1v1h-1zM417 96h1v1h-1zM413 97h1v1h-1zM415 97h1v1h-1zM417 97h1v1h-1zM418 98h1v1h-1zM411 99h1v1h-1zM415 99h1v1h-1zM414 100h1v1h-1zM411 101h1v1h-1zM415 102h1v1h-1zM411 103h1v1h-1zM411 106h1v1h-1zM415 106h1v1h-1zM419 106h1v1h-1zM415 107h1v1h-1zM417 108h1v1h-1zM419 109h1v1h-1zM414 110h1v1h-1zM417 111h1v1h-1zM409 112h1v1h-1zM413 112h1v1h-1zM414 112h1v1h-1zM416 112h1v1h-1zM410 113h1v1h-1zM418 113h1v1h-1zM419 113h1v1h-1zM419 114h1v1h-1zM410 115h1v1h-1zM419 115h1v1h-1zM411 116h1v1h-1zM414 116h1v1h-1zM414 117h1v1h-1zM418 117h1v1h-1zM419 117h1v1h-1zM415 118h1v1h-1zM416 118h1v1h-1zM417 119h1v1h-1zM412 121h1v1h-1zM415 121h1v1h-1zM416 121h1v1h-1zM417 121h1v1h-1zM408 123h1v1h-1zM414 124h1v1h-1zM417 124h1v1h-1zM414 125h1v1h-1zM419 128h1v1h-1zM413 129h1v1h-1zM406 130h1v1h-1zM410 131h1v1h-1zM417 132h1v1h-1zM408 133h1v1h-1zM410 133h1v1h-1zM416 133h1v1h-1zM413 134h1v1h-1zM414 134h1v1h-1zM417 134h1v1h-1zM413 135h1v1h-1zM419 135h1v1h-1zM414 136h1v1h-1zM415 136h1v1h-1zM417 136h1v1h-1zM415 137h1v1h-1zM416 137h1v1h-1zM413 139h1v1h-1zM416 139h1v1h-1zM414 140h1v1h-1zM415 140h1v1h-1zM416 140h1v1h-1zM415 141h1v1h-1zM416 141h1v1h-1zM418 141h1v1h-1zM416 142h1v1h-1zM414 144h1v1h-1zM409 145h1v1h-1zM416 145h1v1h-1zM415 146h1v1h-1zM410 147h1v1h-1zM413 147h1v1h-1zM413 148h1v1h-1zM418 148h1v1h-1zM419 150h1v1h-1zM412 151h1v1h-1zM417 151h1v1h-1zM419 151h1v1h-1zM412 152h1v1h-1zM416 152h1v1h-1zM418 153h1v1h-1zM413 154h1v1h-1zM413 156h1v1h-1zM407 157h1v1h-1zM412 157h1v1h-1zM414 157h1v1h-1zM412 159h1v1h-1zM416 160h1v1h-1zM405 161h1v1h-1zM414 161h1v1h-1zM413 163h1v1h-1zM414 163h1v1h-1zM408 165h1v1h-1zM413 165h1v1h-1zM419 165h1v1h-1zM419 166h1v1h-1zM414 167h1v1h-1zM416 167h1v1h-1zM417 167h1v1h-1zM414 168h1v1h-1zM415 169h1v1h-1zM412 170h1v1h-1zM409 172h1v1h-1zM414 172h1v1h-1zM416 172h1v1h-1zM414 173h1v1h-1zM416 173h1v1h-1zM414 174h1v1h-1zM415 174h1v1h-1zM417 176h1v1h-1zM417 177h1v1h-1zM410 178h1v1h-1zM415 178h1v1h-1zM413 179h1v1h-1zM417 180h1v1h-1zM418 180h1v1h-1zM406 181h1v1h-1zM414 181h1v1h-1zM417 181h1v1h-1zM417 182h1v1h-1zM419 182h1v1h-1zM412 183h1v1h-1zM419 184h1v1h-1zM414 185h1v1h-1zM417 186h1v1h-1zM409 187h1v1h-1zM410 188h1v1h-1zM414 188h1v1h-1zM419 189h1v1h-1zM410 190h1v1h-1zM416 190h1v1h-1zM407 192h1v1h-1zM408 192h1v1h-1zM418 193h1v1h-1zM413 194h1v1h-1zM411 195h1v1h-1zM418 195h1v1h-1zM411 196h1v1h-1zM417 196h1v1h-1zM412 197h1v1h-1zM414 197h1v1h-1zM415 198h1v1h-1zM409 199h1v1h-1zM410 199h1v1h-1zM414 199h1v1h-1zM417 200h1v1h-1zM407 202h1v1h-1zM412 202h1v1h-1zM407 203h1v1h-1zM414 203h1v1h-1zM418 203h1v1h-1zM417 204h1v1h-1zM412 205h1v1h-1zM415 205h1v1h-1zM417 205h1v1h-1zM416 206h1v1h-1zM417 206h1v1h-1zM418 206h1v1h-1zM412 210h1v1h-1zM416 210h1v1h-1zM417 210h1v1h-1zM414 211h1v1h-1zM415 211h1v1h-1zM410 214h1v1h-1zM406 215h1v1h-1zM414 215h1v1h-1zM416 216h1v1h-1zM417 216h1v1h-1zM418 216h1v1h-1zM414 217h1v1h-1zM413 218h1v1h-1zM417 218h1v1h-1zM418 218h1v1h-1zM415 219h1v1h-1zM416 219h1v1h-1zM415 220h1v1h-1zM413 221h1v1h-1zM417 221h1v1h-1zM418 221h1v1h-1zM415 222h1v1h-1zM416 222h1v1h-1zM416 223h1v1h-1zM418 223h1v1h-1zM414 224h1v1h-1zM416 225h1v1h-1zM413 226h1v1h-1zM414 226h1v1h-1zM417 226h1v1h-1zM418 227h1v1h-1zM407 228h1v1h-1zM412 228h1v1h-1zM415 228h1v1h-1zM416 229h1v1h-1zM417 231h1v1h-1zM416 233h1v1h-1zM408 235h1v1h-1zM414 235h1v1h-1zM419 236h1v1h-1zM413 237h1v1h-1zM419 237h1v1h-1zM413 238h1v1h-1zM414 238h1v1h-1zM418 238h1v1h-1zM419 239h1v1h-1zM410 240h1v1h-1zM415 241h1v1h-1zM416 241h1v1h-1zM415 242h1v1h-1zM417 242h1v1h-1zM419 242h1v1h-1zM419 243h1v1h-1zM413 244h1v1h-1zM415 245h1v1h-1zM409 247h1v1h-1zM413 247h1v1h-1zM415 247h1v1h-1zM407 248h1v1h-1zM415 248h1v1h-1zM417 248h1v1h-1zM416 249h1v1h-1zM417 249h1v1h-1zM418 249h1v1h-1zM415 251h1v1h-1zM413 252h1v1h-1zM417 252h1v1h-1zM417 254h1v1h-1zM410 255h1v1h-1zM414 256h1v1h-1zM411 257h1v1h-1zM415 258h1v1h-1zM416 258h1v1h-1zM418 260h1v1h-1zM419 262h1v1h-1zM407 263h1v1h-1zM409 268h1v1h-1zM413 268h1v1h-1zM414 268h1v1h-1zM416 268h1v1h-1zM418 268h1v1h-1zM419 268h1v1h-1z" fill="#e6e6e6"/>
<path d="M325 264h1v1h-1zM320 266h1v1h-1zM329 266h1v1h-1zM329 267h1v1h-1zM327 268h1v1h-1zM330 269h1v1h-1zM326 270h1v1h-1z" fill="#b0b0b0"/>
<path d="M329 264h1v1h-1zM331 264h1v1h-1zM323 265h1v1h-1zM324 266h1v1h-1zM325 266h1v1h-1zM320 267h1v1h-1zM320 268h1v1h-1zM321 268h1v1h-1zM330 268h1v1h-1zM329 269h1v1h-1z" fill="#d0d0d0"/>
<ellipse cx="318.3" cy="165.9" rx="43" ry="45.6" transform="rotate(-19.2 318.3 165.9)" fill="none" stroke="#4a4a4a" stroke-width="0.75"/>
<line x1="297.1" y1="105.1" x2="303.4" y2="122.3" stroke="#4a4a4a" stroke-width="0.75" />
<line x1="333.9" y1="210.5" x2="339.5" y2="226.9" stroke="#4a4a4a" stroke-width="0.75" />
<line x1="258.8" y1="186.3" x2="275.2" y2="180.7" stroke="#4a4a4a" stroke-width="0.75" stroke-dasharray="4.5 3"/>
<line x1="360.9" y1="150.5" x2="377.3" y2="145" stroke="#4a4a4a" stroke-width="0.75" stroke-dasharray="4.5 3"/>
<path d="M234.55 271.5v-2.2M234.55 76.5v2.2M244.1 271.5v-2.2M244.1 76.5v2.2M253.65 271.5v-2.2M253.65 76.5v2.2M263.2 271.5v-4.2M263.2 76.5v4.2M272.75 271.5v-2.2M272.75 76.5v2.2M282.3 271.5v-2.2M282.3 76.5v2.2M291.85 271.5v-2.2M291.85 76.5v2.2M301.4 271.5v-4.2M301.4 76.5v4.2M310.95 271.5v-2.2M310.95 76.5v2.2M320.5 271.5v-2.2M320.5 76.5v2.2M330.05 271.5v-2.2M330.05 76.5v2.2M339.6 271.5v-4.2M339.6 76.5v4.2M349.15 271.5v-2.2M349.15 76.5v2.2M358.7 271.5v-2.2M358.7 76.5v2.2M368.25 271.5v-2.2M368.25 76.5v2.2M377.8 271.5v-4.2M377.8 76.5v4.2M387.35 271.5v-2.2M387.35 76.5v2.2M396.9 271.5v-2.2M396.9 76.5v2.2M406.45 271.5v-2.2M406.45 76.5v2.2M416 271.5v-4.2M416 76.5v4.2M224.5 261.98h2.2M420.5 261.98h-2.2M224.5 252.45h2.2M420.5 252.45h-2.2M224.5 242.93h2.2M420.5 242.93h-2.2M224.5 233.4h4.2M420.5 233.4h-4.2M224.5 223.88h2.2M420.5 223.88h-2.2M224.5 214.35h2.2M420.5 214.35h-2.2M224.5 204.82h2.2M420.5 204.82h-2.2M224.5 195.3h4.2M420.5 195.3h-4.2M224.5 185.78h2.2M420.5 185.78h-2.2M224.5 176.25h2.2M420.5 176.25h-2.2M224.5 166.72h2.2M420.5 166.72h-2.2M224.5 157.2h4.2M420.5 157.2h-4.2M224.5 147.68h2.2M420.5 147.68h-2.2M224.5 138.15h2.2M420.5 138.15h-2.2M224.5 128.62h2.2M420.5 128.62h-2.2M224.5 119.1h4.2M420.5 119.1h-4.2M224.5 109.57h2.2M420.5 109.57h-2.2M224.5 100.05h2.2M420.5 100.05h-2.2M224.5 90.53h2.2M420.5 90.53h-2.2M224.5 81h4.2M420.5 81h-4.2" stroke="#000" stroke-opacity="0.34" stroke-width="1" fill="none"/>
<rect x="224.5" y="76.5" width="196" height="195" fill="none" stroke="#000" stroke-opacity="0.34" stroke-width="1"/>
<text x="255.81" y="282.90" font-size="8.8" textLength="13.68" lengthAdjust="spacingAndGlyphs">200</text>
<text x="208.83" y="236.40" font-size="8.8" textLength="13.68" lengthAdjust="spacingAndGlyphs">200</text>
<text x="294.13" y="282.90" font-size="8.8" textLength="13.68" lengthAdjust="spacingAndGlyphs">400</text>
<text x="208.83" y="198.30" font-size="8.8" textLength="13.68" lengthAdjust="spacingAndGlyphs">400</text>
<text x="332.21" y="282.90" font-size="8.8" textLength="13.68" lengthAdjust="spacingAndGlyphs">600</text>
<text x="208.83" y="160.20" font-size="8.8" textLength="13.68" lengthAdjust="spacingAndGlyphs">600</text>
<text x="370.43" y="282.90" font-size="8.8" textLength="13.68" lengthAdjust="spacingAndGlyphs">800</text>
<text x="208.83" y="122.10" font-size="8.8" textLength="13.68" lengthAdjust="spacingAndGlyphs">800</text>
<text x="406.21" y="282.90" font-size="8.8" textLength="18.24" lengthAdjust="spacingAndGlyphs">1000</text>
<text x="204.24" y="84.00" font-size="8.8" textLength="18.24" lengthAdjust="spacingAndGlyphs">1000</text>
<text x="226.82" y="74.50" font-size="12" textLength="190.65" lengthAdjust="spacingAndGlyphs">ngc6782K_hz20 PA,INC= 19.2 22.3</text>
<path d="M639 80h1v1h-1zM633 81h1v1h-1zM653 84h1v1h-1zM621 87h1v1h-1zM624 89h1v1h-1zM647 89h1v1h-1zM650 89h1v1h-1zM640 90h1v1h-1zM686 90h1v1h-1zM635 91h1v1h-1zM666 91h1v1h-1zM611 93h1v1h-1zM627 95h1v1h-1zM642 99h1v1h-1zM689 99h1v1h-1zM589 103h1v1h-1zM661 104h1v1h-1zM656 105h1v1h-1zM575 106h1v1h-1zM625 106h1v1h-1zM705 106h1v1h-1zM577 108h1v1h-1zM673 108h1v1h-1zM705 110h1v1h-1zM644 111h1v1h-1zM712 111h1v1h-1zM709 112h1v1h-1zM602 115h1v1h-1zM637 115h1v1h-1zM665 115h1v1h-1zM680 116h1v1h-1zM634 120h1v1h-1zM592 124h1v1h-1zM606 124h1v1h-1zM593 125h1v1h-1zM577 127h1v1h-1zM575 128h1v1h-1zM673 128h1v1h-1zM724 129h1v1h-1zM668 130h1v1h-1zM704 134h1v1h-1zM646 136h1v1h-1zM590 138h1v1h-1zM716 138h1v1h-1zM567 139h1v1h-1zM634 139h1v1h-1zM637 140h1v1h-1zM699 140h1v1h-1zM668 141h1v1h-1zM552 142h1v1h-1zM627 142h1v1h-1zM731 142h1v1h-1zM575 144h1v1h-1zM688 144h1v1h-1zM598 145h1v1h-1zM608 145h1v1h-1zM666 145h1v1h-1zM684 147h1v1h-1zM558 148h1v1h-1zM619 148h1v1h-1zM626 150h1v1h-1zM717 152h1v1h-1zM636 153h1v1h-1zM577 154h1v1h-1zM649 154h1v1h-1zM586 155h1v1h-1zM589 155h1v1h-1zM668 155h1v1h-1zM662 156h1v1h-1zM568 157h1v1h-1zM710 158h1v1h-1zM571 159h1v1h-1zM641 160h1v1h-1zM566 161h1v1h-1zM626 161h1v1h-1zM688 161h1v1h-1zM555 162h1v1h-1zM559 162h1v1h-1zM593 162h1v1h-1zM613 162h1v1h-1zM683 162h1v1h-1zM637 163h1v1h-1zM696 163h1v1h-1zM559 164h1v1h-1zM606 164h1v1h-1zM609 164h1v1h-1zM636 164h1v1h-1zM636 165h1v1h-1zM671 165h1v1h-1zM684 165h1v1h-1zM561 166h1v1h-1zM644 167h1v1h-1zM633 168h1v1h-1zM686 168h1v1h-1zM548 170h1v1h-1zM663 171h1v1h-1zM678 172h1v1h-1zM603 173h1v1h-1zM661 173h1v1h-1zM589 174h1v1h-1zM648 174h1v1h-1zM623 175h1v1h-1zM649 175h1v1h-1zM721 175h1v1h-1zM548 176h1v1h-1zM720 176h1v1h-1zM596 177h1v1h-1zM625 177h1v1h-1zM616 178h1v1h-1zM631 179h1v1h-1zM645 179h1v1h-1zM573 180h1v1h-1zM630 181h1v1h-1zM725 181h1v1h-1zM714 182h1v1h-1zM642 183h1v1h-1zM696 183h1v1h-1zM698 183h1v1h-1zM709 183h1v1h-1zM604 184h1v1h-1zM667 184h1v1h-1zM660 185h1v1h-1zM711 185h1v1h-1zM570 186h1v1h-1zM574 186h1v1h-1zM596 186h1v1h-1zM662 188h1v1h-1zM690 188h1v1h-1zM554 189h1v1h-1zM626 189h1v1h-1zM629 189h1v1h-1zM573 190h1v1h-1zM602 190h1v1h-1zM608 191h1v1h-1zM676 191h1v1h-1zM680 191h1v1h-1zM630 192h1v1h-1zM655 192h1v1h-1zM666 192h1v1h-1zM691 192h1v1h-1zM700 192h1v1h-1zM577 193h1v1h-1zM568 194h1v1h-1zM642 194h1v1h-1zM731 194h1v1h-1zM689 195h1v1h-1zM594 196h1v1h-1zM631 196h1v1h-1zM681 196h1v1h-1zM578 197h1v1h-1zM596 197h1v1h-1zM637 199h1v1h-1zM680 199h1v1h-1zM597 200h1v1h-1zM637 200h1v1h-1zM642 200h1v1h-1zM680 200h1v1h-1zM620 201h1v1h-1zM728 203h1v1h-1zM575 204h1v1h-1zM633 205h1v1h-1zM643 205h1v1h-1zM717 205h1v1h-1zM562 206h1v1h-1zM606 206h1v1h-1zM700 206h1v1h-1zM562 208h1v1h-1zM691 208h1v1h-1zM659 209h1v1h-1zM673 209h1v1h-1zM593 210h1v1h-1zM634 210h1v1h-1zM573 211h1v1h-1zM627 212h1v1h-1zM652 212h1v1h-1zM630 213h1v1h-1zM587 214h1v1h-1zM728 214h1v1h-1zM562 215h1v1h-1zM667 215h1v1h-1zM709 215h1v1h-1zM559 217h1v1h-1zM643 217h1v1h-1zM565 218h1v1h-1zM589 220h1v1h-1zM602 221h1v1h-1zM664 221h1v1h-1zM613 222h1v1h-1zM580 224h1v1h-1zM632 225h1v1h-1zM641 226h1v1h-1zM657 226h1v1h-1zM567 227h1v1h-1zM603 227h1v1h-1zM664 227h1v1h-1zM618 228h1v1h-1zM622 228h1v1h-1zM607 229h1v1h-1zM642 229h1v1h-1zM575 230h1v1h-1zM701 230h1v1h-1zM630 231h1v1h-1zM662 231h1v1h-1zM580 232h1v1h-1zM645 233h1v1h-1zM590 235h1v1h-1zM649 235h1v1h-1zM614 237h1v1h-1zM636 238h1v1h-1zM598 241h1v1h-1zM600 241h1v1h-1zM581 242h1v1h-1zM644 242h1v1h-1zM699 243h1v1h-1zM604 245h1v1h-1zM609 245h1v1h-1zM615 246h1v1h-1zM617 248h1v1h-1zM641 249h1v1h-1zM680 249h1v1h-1zM692 249h1v1h-1zM656 250h1v1h-1zM646 253h1v1h-1zM649 253h1v1h-1zM602 258h1v1h-1zM661 258h1v1h-1zM677 258h1v1h-1zM663 259h1v1h-1zM646 262h1v1h-1zM669 264h1v1h-1z" fill="#bababa"/>
<path d="M650 79h1v1h-1zM630 80h1v1h-1zM628 82h1v1h-1zM639 83h1v1h-1zM663 83h1v1h-1zM672 84h1v1h-1zM674 84h1v1h-1zM639 85h1v1h-1zM631 86h1v1h-1zM633 86h1v1h-1zM664 86h1v1h-1zM636 87h1v1h-1zM619 88h1v1h-1zM615 89h1v1h-1zM606 92h1v1h-1zM630 92h1v1h-1zM659 92h1v1h-1zM683 92h1v1h-1zM685 92h1v1h-1zM593 93h1v1h-1zM628 93h1v1h-1zM654 93h1v1h-1zM667 93h1v1h-1zM622 94h1v1h-1zM631 94h1v1h-1zM591 95h1v1h-1zM634 95h1v1h-1zM649 95h1v1h-1zM679 95h1v1h-1zM681 95h1v1h-1zM614 96h1v1h-1zM670 96h1v1h-1zM678 98h1v1h-1zM684 98h1v1h-1zM692 99h1v1h-1zM669 100h1v1h-1zM591 101h1v1h-1zM616 101h1v1h-1zM631 101h1v1h-1zM632 101h1v1h-1zM648 101h1v1h-1zM659 101h1v1h-1zM681 101h1v1h-1zM630 102h1v1h-1zM669 102h1v1h-1zM583 103h1v1h-1zM631 103h1v1h-1zM655 103h1v1h-1zM621 104h1v1h-1zM637 104h1v1h-1zM651 104h1v1h-1zM704 105h1v1h-1zM577 106h1v1h-1zM598 106h1v1h-1zM599 106h1v1h-1zM606 106h1v1h-1zM635 106h1v1h-1zM661 106h1v1h-1zM683 106h1v1h-1zM686 106h1v1h-1zM696 106h1v1h-1zM663 107h1v1h-1zM601 108h1v1h-1zM637 108h1v1h-1zM649 108h1v1h-1zM675 108h1v1h-1zM605 109h1v1h-1zM640 109h1v1h-1zM698 109h1v1h-1zM708 109h1v1h-1zM621 110h1v1h-1zM588 111h1v1h-1zM605 111h1v1h-1zM658 111h1v1h-1zM628 112h1v1h-1zM634 112h1v1h-1zM641 112h1v1h-1zM688 112h1v1h-1zM707 112h1v1h-1zM714 112h1v1h-1zM598 113h1v1h-1zM607 113h1v1h-1zM611 113h1v1h-1zM664 113h1v1h-1zM638 114h1v1h-1zM642 114h1v1h-1zM636 115h1v1h-1zM647 115h1v1h-1zM658 115h1v1h-1zM679 115h1v1h-1zM630 116h1v1h-1zM642 116h1v1h-1zM678 116h1v1h-1zM649 117h1v1h-1zM650 117h1v1h-1zM662 117h1v1h-1zM673 117h1v1h-1zM592 118h1v1h-1zM621 118h1v1h-1zM659 118h1v1h-1zM566 119h1v1h-1zM606 119h1v1h-1zM631 119h1v1h-1zM632 119h1v1h-1zM650 119h1v1h-1zM689 119h1v1h-1zM697 119h1v1h-1zM713 119h1v1h-1zM579 120h1v1h-1zM601 120h1v1h-1zM622 120h1v1h-1zM636 120h1v1h-1zM646 120h1v1h-1zM666 120h1v1h-1zM707 120h1v1h-1zM561 121h1v1h-1zM572 121h1v1h-1zM591 121h1v1h-1zM608 121h1v1h-1zM611 121h1v1h-1zM624 121h1v1h-1zM654 121h1v1h-1zM603 122h1v1h-1zM583 123h1v1h-1zM625 123h1v1h-1zM636 123h1v1h-1zM657 123h1v1h-1zM668 123h1v1h-1zM674 123h1v1h-1zM712 123h1v1h-1zM670 124h1v1h-1zM573 125h1v1h-1zM624 125h1v1h-1zM632 125h1v1h-1zM650 125h1v1h-1zM678 125h1v1h-1zM568 126h1v1h-1zM579 126h1v1h-1zM654 126h1v1h-1zM698 126h1v1h-1zM699 126h1v1h-1zM723 126h1v1h-1zM672 127h1v1h-1zM567 129h1v1h-1zM644 129h1v1h-1zM649 129h1v1h-1zM674 129h1v1h-1zM685 130h1v1h-1zM558 131h1v1h-1zM700 131h1v1h-1zM596 132h1v1h-1zM641 132h1v1h-1zM645 132h1v1h-1zM665 132h1v1h-1zM709 132h1v1h-1zM564 133h1v1h-1zM727 133h1v1h-1zM567 134h1v1h-1zM582 134h1v1h-1zM591 134h1v1h-1zM675 134h1v1h-1zM683 134h1v1h-1zM576 135h1v1h-1zM593 135h1v1h-1zM608 135h1v1h-1zM612 135h1v1h-1zM617 135h1v1h-1zM651 135h1v1h-1zM673 135h1v1h-1zM679 135h1v1h-1zM555 136h1v1h-1zM717 136h1v1h-1zM577 137h1v1h-1zM611 137h1v1h-1zM647 137h1v1h-1zM649 137h1v1h-1zM663 137h1v1h-1zM667 137h1v1h-1zM675 137h1v1h-1zM600 138h1v1h-1zM620 138h1v1h-1zM633 138h1v1h-1zM700 138h1v1h-1zM568 139h1v1h-1zM585 139h1v1h-1zM623 139h1v1h-1zM633 139h1v1h-1zM643 139h1v1h-1zM653 139h1v1h-1zM674 139h1v1h-1zM570 140h1v1h-1zM585 140h1v1h-1zM593 140h1v1h-1zM646 140h1v1h-1zM719 140h1v1h-1zM572 141h1v1h-1zM581 141h1v1h-1zM587 141h1v1h-1zM625 141h1v1h-1zM680 141h1v1h-1zM551 142h1v1h-1zM612 142h1v1h-1zM617 142h1v1h-1zM639 142h1v1h-1zM645 142h1v1h-1zM672 142h1v1h-1zM551 143h1v1h-1zM561 143h1v1h-1zM599 143h1v1h-1zM617 143h1v1h-1zM627 143h1v1h-1zM654 143h1v1h-1zM661 143h1v1h-1zM706 143h1v1h-1zM720 143h1v1h-1zM565 144h1v1h-1zM578 144h1v1h-1zM663 144h1v1h-1zM666 144h1v1h-1zM714 144h1v1h-1zM558 145h1v1h-1zM592 145h1v1h-1zM597 145h1v1h-1zM645 145h1v1h-1zM651 145h1v1h-1zM707 145h1v1h-1zM710 145h1v1h-1zM565 146h1v1h-1zM579 146h1v1h-1zM584 146h1v1h-1zM636 146h1v1h-1zM666 146h1v1h-1zM686 146h1v1h-1zM712 146h1v1h-1zM586 147h1v1h-1zM661 148h1v1h-1zM701 148h1v1h-1zM708 148h1v1h-1zM733 148h1v1h-1zM627 149h1v1h-1zM695 149h1v1h-1zM555 150h1v1h-1zM620 150h1v1h-1zM640 150h1v1h-1zM666 150h1v1h-1zM561 151h1v1h-1zM665 151h1v1h-1zM666 151h1v1h-1zM568 152h1v1h-1zM577 152h1v1h-1zM621 152h1v1h-1zM719 152h1v1h-1zM581 153h1v1h-1zM662 153h1v1h-1zM672 153h1v1h-1zM677 153h1v1h-1zM687 153h1v1h-1zM706 153h1v1h-1zM728 153h1v1h-1zM633 154h1v1h-1zM670 154h1v1h-1zM705 154h1v1h-1zM726 154h1v1h-1zM593 155h1v1h-1zM694 155h1v1h-1zM704 155h1v1h-1zM616 156h1v1h-1zM621 156h1v1h-1zM657 156h1v1h-1zM715 156h1v1h-1zM577 157h1v1h-1zM580 157h1v1h-1zM582 157h1v1h-1zM596 157h1v1h-1zM608 157h1v1h-1zM639 157h1v1h-1zM662 157h1v1h-1zM566 158h1v1h-1zM592 158h1v1h-1zM615 158h1v1h-1zM656 158h1v1h-1zM581 159h1v1h-1zM599 159h1v1h-1zM646 159h1v1h-1zM679 159h1v1h-1zM723 159h1v1h-1zM579 160h1v1h-1zM584 160h1v1h-1zM598 160h1v1h-1zM612 160h1v1h-1zM574 161h1v1h-1zM579 161h1v1h-1zM581 161h1v1h-1zM604 161h1v1h-1zM641 161h1v1h-1zM700 161h1v1h-1zM557 162h1v1h-1zM581 162h1v1h-1zM670 162h1v1h-1zM642 163h1v1h-1zM690 163h1v1h-1zM691 163h1v1h-1zM569 164h1v1h-1zM643 164h1v1h-1zM656 164h1v1h-1zM675 164h1v1h-1zM612 165h1v1h-1zM670 165h1v1h-1zM678 165h1v1h-1zM692 165h1v1h-1zM722 165h1v1h-1zM591 166h1v1h-1zM641 166h1v1h-1zM666 166h1v1h-1zM680 166h1v1h-1zM628 167h1v1h-1zM667 167h1v1h-1zM672 167h1v1h-1zM689 167h1v1h-1zM693 167h1v1h-1zM724 167h1v1h-1zM568 168h1v1h-1zM635 168h1v1h-1zM641 168h1v1h-1zM572 169h1v1h-1zM581 169h1v1h-1zM628 169h1v1h-1zM635 169h1v1h-1zM650 169h1v1h-1zM676 169h1v1h-1zM563 170h1v1h-1zM658 170h1v1h-1zM664 170h1v1h-1zM674 170h1v1h-1zM581 171h1v1h-1zM626 171h1v1h-1zM619 172h1v1h-1zM644 172h1v1h-1zM656 172h1v1h-1zM707 172h1v1h-1zM720 172h1v1h-1zM680 173h1v1h-1zM687 173h1v1h-1zM619 174h1v1h-1zM647 174h1v1h-1zM687 174h1v1h-1zM715 174h1v1h-1zM651 175h1v1h-1zM704 175h1v1h-1zM574 176h1v1h-1zM589 176h1v1h-1zM624 176h1v1h-1zM633 176h1v1h-1zM676 176h1v1h-1zM728 176h1v1h-1zM581 177h1v1h-1zM589 177h1v1h-1zM601 177h1v1h-1zM641 177h1v1h-1zM666 177h1v1h-1zM727 177h1v1h-1zM563 178h1v1h-1zM577 178h1v1h-1zM676 178h1v1h-1zM585 179h1v1h-1zM715 179h1v1h-1zM548 180h1v1h-1zM587 180h1v1h-1zM610 180h1v1h-1zM679 180h1v1h-1zM688 180h1v1h-1zM574 181h1v1h-1zM612 181h1v1h-1zM671 181h1v1h-1zM686 181h1v1h-1zM688 181h1v1h-1zM692 181h1v1h-1zM607 182h1v1h-1zM668 182h1v1h-1zM676 182h1v1h-1zM593 183h1v1h-1zM615 183h1v1h-1zM622 183h1v1h-1zM660 183h1v1h-1zM708 183h1v1h-1zM716 183h1v1h-1zM605 184h1v1h-1zM643 184h1v1h-1zM668 184h1v1h-1zM687 184h1v1h-1zM692 184h1v1h-1zM722 184h1v1h-1zM582 185h1v1h-1zM585 185h1v1h-1zM597 185h1v1h-1zM599 185h1v1h-1zM624 185h1v1h-1zM646 185h1v1h-1zM727 185h1v1h-1zM728 185h1v1h-1zM556 186h1v1h-1zM557 186h1v1h-1zM585 186h1v1h-1zM592 186h1v1h-1zM611 186h1v1h-1zM622 186h1v1h-1zM625 186h1v1h-1zM688 186h1v1h-1zM596 187h1v1h-1zM640 188h1v1h-1zM547 189h1v1h-1zM568 189h1v1h-1zM596 189h1v1h-1zM639 189h1v1h-1zM691 189h1v1h-1zM557 190h1v1h-1zM569 190h1v1h-1zM586 190h1v1h-1zM655 190h1v1h-1zM699 190h1v1h-1zM711 190h1v1h-1zM554 191h1v1h-1zM577 191h1v1h-1zM734 191h1v1h-1zM551 192h1v1h-1zM564 192h1v1h-1zM588 192h1v1h-1zM684 192h1v1h-1zM630 193h1v1h-1zM631 193h1v1h-1zM638 193h1v1h-1zM667 193h1v1h-1zM709 193h1v1h-1zM616 194h1v1h-1zM628 194h1v1h-1zM687 194h1v1h-1zM694 194h1v1h-1zM726 194h1v1h-1zM641 195h1v1h-1zM660 195h1v1h-1zM665 195h1v1h-1zM726 195h1v1h-1zM616 196h1v1h-1zM682 196h1v1h-1zM694 196h1v1h-1zM564 197h1v1h-1zM576 197h1v1h-1zM583 197h1v1h-1zM599 197h1v1h-1zM610 197h1v1h-1zM619 197h1v1h-1zM634 197h1v1h-1zM553 198h1v1h-1zM615 198h1v1h-1zM690 198h1v1h-1zM693 198h1v1h-1zM579 199h1v1h-1zM580 199h1v1h-1zM605 199h1v1h-1zM666 199h1v1h-1zM672 199h1v1h-1zM690 199h1v1h-1zM734 199h1v1h-1zM557 200h1v1h-1zM633 200h1v1h-1zM690 200h1v1h-1zM700 200h1v1h-1zM564 201h1v1h-1zM677 201h1v1h-1zM685 201h1v1h-1zM578 202h1v1h-1zM601 202h1v1h-1zM612 202h1v1h-1zM615 202h1v1h-1zM559 203h1v1h-1zM584 203h1v1h-1zM596 203h1v1h-1zM621 203h1v1h-1zM636 203h1v1h-1zM576 204h1v1h-1zM651 204h1v1h-1zM699 204h1v1h-1zM682 205h1v1h-1zM703 205h1v1h-1zM732 205h1v1h-1zM611 206h1v1h-1zM615 206h1v1h-1zM660 206h1v1h-1zM684 206h1v1h-1zM706 206h1v1h-1zM649 207h1v1h-1zM686 207h1v1h-1zM730 207h1v1h-1zM567 208h1v1h-1zM575 208h1v1h-1zM624 208h1v1h-1zM637 208h1v1h-1zM698 208h1v1h-1zM566 209h1v1h-1zM597 209h1v1h-1zM604 209h1v1h-1zM607 209h1v1h-1zM645 209h1v1h-1zM647 209h1v1h-1zM655 209h1v1h-1zM669 209h1v1h-1zM683 210h1v1h-1zM611 211h1v1h-1zM590 212h1v1h-1zM637 212h1v1h-1zM557 213h1v1h-1zM650 213h1v1h-1zM654 213h1v1h-1zM664 213h1v1h-1zM669 213h1v1h-1zM676 213h1v1h-1zM684 213h1v1h-1zM686 213h1v1h-1zM704 213h1v1h-1zM623 214h1v1h-1zM630 214h1v1h-1zM642 214h1v1h-1zM664 214h1v1h-1zM592 215h1v1h-1zM604 215h1v1h-1zM661 215h1v1h-1zM728 215h1v1h-1zM691 216h1v1h-1zM693 216h1v1h-1zM580 217h1v1h-1zM703 217h1v1h-1zM577 218h1v1h-1zM655 218h1v1h-1zM674 220h1v1h-1zM681 220h1v1h-1zM587 221h1v1h-1zM614 221h1v1h-1zM647 221h1v1h-1zM657 221h1v1h-1zM715 221h1v1h-1zM720 221h1v1h-1zM596 222h1v1h-1zM655 222h1v1h-1zM562 223h1v1h-1zM677 223h1v1h-1zM692 223h1v1h-1zM598 224h1v1h-1zM637 224h1v1h-1zM696 224h1v1h-1zM572 226h1v1h-1zM604 226h1v1h-1zM616 226h1v1h-1zM692 226h1v1h-1zM564 227h1v1h-1zM582 227h1v1h-1zM589 227h1v1h-1zM617 227h1v1h-1zM676 227h1v1h-1zM716 227h1v1h-1zM593 228h1v1h-1zM635 228h1v1h-1zM682 228h1v1h-1zM713 228h1v1h-1zM643 229h1v1h-1zM668 229h1v1h-1zM698 229h1v1h-1zM625 230h1v1h-1zM634 230h1v1h-1zM674 230h1v1h-1zM688 230h1v1h-1zM695 230h1v1h-1zM584 231h1v1h-1zM591 231h1v1h-1zM614 231h1v1h-1zM629 231h1v1h-1zM674 231h1v1h-1zM572 232h1v1h-1zM595 232h1v1h-1zM643 232h1v1h-1zM586 233h1v1h-1zM604 233h1v1h-1zM606 233h1v1h-1zM620 233h1v1h-1zM581 234h1v1h-1zM590 234h1v1h-1zM660 234h1v1h-1zM665 234h1v1h-1zM597 236h1v1h-1zM603 236h1v1h-1zM620 236h1v1h-1zM629 236h1v1h-1zM711 236h1v1h-1zM618 237h1v1h-1zM628 237h1v1h-1zM667 237h1v1h-1zM678 237h1v1h-1zM633 238h1v1h-1zM694 238h1v1h-1zM705 238h1v1h-1zM581 239h1v1h-1zM676 239h1v1h-1zM696 240h1v1h-1zM586 241h1v1h-1zM656 241h1v1h-1zM589 242h1v1h-1zM643 242h1v1h-1zM670 242h1v1h-1zM683 242h1v1h-1zM691 242h1v1h-1zM700 242h1v1h-1zM594 245h1v1h-1zM632 245h1v1h-1zM664 245h1v1h-1zM645 246h1v1h-1zM688 246h1v1h-1zM692 246h1v1h-1zM680 247h1v1h-1zM693 247h1v1h-1zM670 248h1v1h-1zM591 249h1v1h-1zM675 249h1v1h-1zM589 250h1v1h-1zM601 250h1v1h-1zM620 250h1v1h-1zM685 250h1v1h-1zM602 251h1v1h-1zM606 251h1v1h-1zM637 251h1v1h-1zM648 251h1v1h-1zM627 252h1v1h-1zM638 252h1v1h-1zM661 253h1v1h-1zM590 255h1v1h-1zM636 255h1v1h-1zM629 256h1v1h-1zM638 258h1v1h-1zM646 258h1v1h-1zM652 262h1v1h-1zM632 264h1v1h-1zM620 266h1v1h-1zM663 266h1v1h-1zM654 267h1v1h-1zM659 267h1v1h-1zM660 268h1v1h-1z" fill="#cecece"/>
<path d="M619 80h1v1h-1zM643 80h1v1h-1zM657 80h1v1h-1zM638 81h1v1h-1zM653 81h1v1h-1zM652 82h1v1h-1zM627 83h1v1h-1zM657 85h1v1h-1zM616 86h1v1h-1zM619 86h1v1h-1zM625 86h1v1h-1zM626 87h1v1h-1zM594 90h1v1h-1zM618 90h1v1h-1zM632 91h1v1h-1zM685 93h1v1h-1zM642 94h1v1h-1zM592 95h1v1h-1zM598 95h1v1h-1zM653 96h1v1h-1zM592 97h1v1h-1zM599 97h1v1h-1zM610 97h1v1h-1zM681 97h1v1h-1zM585 98h1v1h-1zM599 98h1v1h-1zM690 98h1v1h-1zM657 99h1v1h-1zM607 100h1v1h-1zM626 100h1v1h-1zM690 100h1v1h-1zM663 101h1v1h-1zM673 101h1v1h-1zM701 101h1v1h-1zM577 102h1v1h-1zM611 102h1v1h-1zM614 102h1v1h-1zM635 102h1v1h-1zM637 102h1v1h-1zM644 102h1v1h-1zM647 102h1v1h-1zM599 103h1v1h-1zM684 103h1v1h-1zM613 104h1v1h-1zM620 104h1v1h-1zM639 104h1v1h-1zM614 105h1v1h-1zM666 105h1v1h-1zM581 106h1v1h-1zM684 106h1v1h-1zM703 106h1v1h-1zM640 107h1v1h-1zM661 107h1v1h-1zM594 108h1v1h-1zM707 108h1v1h-1zM592 109h1v1h-1zM627 109h1v1h-1zM685 109h1v1h-1zM697 109h1v1h-1zM579 110h1v1h-1zM673 110h1v1h-1zM674 110h1v1h-1zM569 111h1v1h-1zM581 111h1v1h-1zM594 111h1v1h-1zM633 111h1v1h-1zM646 111h1v1h-1zM649 111h1v1h-1zM666 111h1v1h-1zM705 111h1v1h-1zM581 112h1v1h-1zM621 112h1v1h-1zM637 112h1v1h-1zM698 112h1v1h-1zM692 113h1v1h-1zM567 114h1v1h-1zM637 114h1v1h-1zM649 114h1v1h-1zM696 114h1v1h-1zM712 114h1v1h-1zM578 115h1v1h-1zM631 115h1v1h-1zM634 115h1v1h-1zM585 116h1v1h-1zM618 116h1v1h-1zM663 116h1v1h-1zM576 117h1v1h-1zM578 117h1v1h-1zM703 117h1v1h-1zM706 117h1v1h-1zM586 118h1v1h-1zM620 118h1v1h-1zM644 119h1v1h-1zM719 119h1v1h-1zM574 120h1v1h-1zM596 120h1v1h-1zM660 120h1v1h-1zM679 120h1v1h-1zM582 121h1v1h-1zM646 121h1v1h-1zM585 122h1v1h-1zM588 122h1v1h-1zM623 122h1v1h-1zM689 122h1v1h-1zM696 123h1v1h-1zM564 124h1v1h-1zM658 124h1v1h-1zM574 125h1v1h-1zM658 125h1v1h-1zM679 125h1v1h-1zM693 125h1v1h-1zM693 126h1v1h-1zM711 126h1v1h-1zM608 127h1v1h-1zM622 127h1v1h-1zM623 127h1v1h-1zM651 127h1v1h-1zM668 127h1v1h-1zM682 127h1v1h-1zM708 127h1v1h-1zM585 128h1v1h-1zM594 128h1v1h-1zM611 128h1v1h-1zM632 128h1v1h-1zM652 128h1v1h-1zM674 128h1v1h-1zM707 128h1v1h-1zM710 128h1v1h-1zM572 129h1v1h-1zM585 129h1v1h-1zM597 129h1v1h-1zM635 129h1v1h-1zM638 129h1v1h-1zM648 129h1v1h-1zM699 129h1v1h-1zM600 130h1v1h-1zM623 130h1v1h-1zM647 130h1v1h-1zM656 130h1v1h-1zM659 130h1v1h-1zM633 131h1v1h-1zM687 131h1v1h-1zM556 132h1v1h-1zM643 132h1v1h-1zM660 132h1v1h-1zM593 133h1v1h-1zM598 133h1v1h-1zM638 133h1v1h-1zM680 133h1v1h-1zM600 134h1v1h-1zM665 134h1v1h-1zM723 134h1v1h-1zM572 135h1v1h-1zM611 135h1v1h-1zM625 135h1v1h-1zM650 135h1v1h-1zM671 135h1v1h-1zM675 135h1v1h-1zM677 135h1v1h-1zM683 135h1v1h-1zM695 135h1v1h-1zM564 136h1v1h-1zM567 136h1v1h-1zM664 136h1v1h-1zM570 137h1v1h-1zM586 137h1v1h-1zM625 137h1v1h-1zM668 137h1v1h-1zM718 137h1v1h-1zM722 137h1v1h-1zM730 137h1v1h-1zM572 138h1v1h-1zM594 138h1v1h-1zM641 138h1v1h-1zM665 138h1v1h-1zM691 138h1v1h-1zM702 138h1v1h-1zM721 138h1v1h-1zM724 138h1v1h-1zM566 139h1v1h-1zM612 139h1v1h-1zM662 139h1v1h-1zM696 139h1v1h-1zM580 140h1v1h-1zM650 140h1v1h-1zM693 140h1v1h-1zM698 140h1v1h-1zM702 140h1v1h-1zM709 140h1v1h-1zM598 141h1v1h-1zM614 141h1v1h-1zM616 141h1v1h-1zM619 141h1v1h-1zM663 141h1v1h-1zM725 141h1v1h-1zM584 142h1v1h-1zM625 142h1v1h-1zM630 142h1v1h-1zM640 142h1v1h-1zM701 142h1v1h-1zM553 143h1v1h-1zM587 143h1v1h-1zM552 144h1v1h-1zM608 144h1v1h-1zM624 144h1v1h-1zM636 144h1v1h-1zM643 144h1v1h-1zM645 144h1v1h-1zM690 144h1v1h-1zM692 144h1v1h-1zM724 144h1v1h-1zM725 144h1v1h-1zM654 145h1v1h-1zM721 145h1v1h-1zM733 145h1v1h-1zM657 146h1v1h-1zM696 146h1v1h-1zM706 146h1v1h-1zM555 147h1v1h-1zM592 147h1v1h-1zM631 147h1v1h-1zM658 147h1v1h-1zM683 147h1v1h-1zM689 147h1v1h-1zM706 147h1v1h-1zM557 148h1v1h-1zM569 148h1v1h-1zM612 148h1v1h-1zM648 148h1v1h-1zM683 148h1v1h-1zM691 148h1v1h-1zM705 148h1v1h-1zM623 149h1v1h-1zM663 149h1v1h-1zM671 149h1v1h-1zM676 149h1v1h-1zM693 149h1v1h-1zM567 150h1v1h-1zM576 150h1v1h-1zM642 150h1v1h-1zM680 150h1v1h-1zM595 151h1v1h-1zM644 151h1v1h-1zM687 151h1v1h-1zM694 151h1v1h-1zM582 152h1v1h-1zM593 152h1v1h-1zM675 152h1v1h-1zM676 152h1v1h-1zM692 152h1v1h-1zM561 153h1v1h-1zM603 153h1v1h-1zM606 153h1v1h-1zM686 153h1v1h-1zM734 153h1v1h-1zM677 154h1v1h-1zM569 155h1v1h-1zM603 155h1v1h-1zM685 155h1v1h-1zM733 155h1v1h-1zM588 156h1v1h-1zM626 156h1v1h-1zM627 156h1v1h-1zM701 156h1v1h-1zM724 156h1v1h-1zM579 157h1v1h-1zM660 157h1v1h-1zM694 157h1v1h-1zM574 158h1v1h-1zM607 158h1v1h-1zM651 158h1v1h-1zM652 158h1v1h-1zM699 158h1v1h-1zM618 159h1v1h-1zM631 159h1v1h-1zM687 159h1v1h-1zM700 159h1v1h-1zM599 160h1v1h-1zM621 160h1v1h-1zM656 160h1v1h-1zM666 160h1v1h-1zM676 160h1v1h-1zM682 160h1v1h-1zM689 160h1v1h-1zM701 160h1v1h-1zM724 160h1v1h-1zM725 160h1v1h-1zM553 161h1v1h-1zM556 161h1v1h-1zM557 161h1v1h-1zM606 161h1v1h-1zM623 161h1v1h-1zM637 161h1v1h-1zM686 161h1v1h-1zM722 161h1v1h-1zM591 162h1v1h-1zM600 162h1v1h-1zM608 162h1v1h-1zM612 162h1v1h-1zM618 162h1v1h-1zM632 162h1v1h-1zM551 163h1v1h-1zM563 163h1v1h-1zM589 163h1v1h-1zM605 163h1v1h-1zM625 163h1v1h-1zM675 163h1v1h-1zM684 163h1v1h-1zM701 163h1v1h-1zM555 164h1v1h-1zM573 164h1v1h-1zM611 164h1v1h-1zM699 164h1v1h-1zM704 164h1v1h-1zM551 165h1v1h-1zM559 165h1v1h-1zM627 165h1v1h-1zM655 165h1v1h-1zM589 166h1v1h-1zM609 166h1v1h-1zM623 166h1v1h-1zM643 166h1v1h-1zM676 166h1v1h-1zM697 166h1v1h-1zM625 167h1v1h-1zM642 167h1v1h-1zM647 167h1v1h-1zM655 167h1v1h-1zM708 167h1v1h-1zM722 167h1v1h-1zM731 167h1v1h-1zM559 168h1v1h-1zM581 168h1v1h-1zM613 168h1v1h-1zM634 168h1v1h-1zM642 168h1v1h-1zM676 168h1v1h-1zM720 168h1v1h-1zM548 169h1v1h-1zM626 169h1v1h-1zM632 169h1v1h-1zM658 169h1v1h-1zM666 169h1v1h-1zM668 169h1v1h-1zM615 170h1v1h-1zM621 170h1v1h-1zM637 170h1v1h-1zM582 171h1v1h-1zM629 171h1v1h-1zM637 171h1v1h-1zM664 171h1v1h-1zM587 172h1v1h-1zM623 172h1v1h-1zM633 172h1v1h-1zM692 172h1v1h-1zM573 173h1v1h-1zM597 173h1v1h-1zM634 173h1v1h-1zM635 173h1v1h-1zM677 173h1v1h-1zM723 173h1v1h-1zM586 174h1v1h-1zM593 174h1v1h-1zM601 174h1v1h-1zM608 174h1v1h-1zM644 174h1v1h-1zM650 174h1v1h-1zM651 174h1v1h-1zM672 174h1v1h-1zM702 174h1v1h-1zM713 174h1v1h-1zM677 175h1v1h-1zM716 175h1v1h-1zM567 176h1v1h-1zM577 176h1v1h-1zM608 176h1v1h-1zM618 176h1v1h-1zM654 176h1v1h-1zM658 176h1v1h-1zM670 176h1v1h-1zM582 177h1v1h-1zM593 177h1v1h-1zM602 177h1v1h-1zM621 177h1v1h-1zM657 177h1v1h-1zM704 177h1v1h-1zM732 177h1v1h-1zM735 177h1v1h-1zM545 178h1v1h-1zM546 178h1v1h-1zM549 178h1v1h-1zM565 178h1v1h-1zM578 178h1v1h-1zM587 178h1v1h-1zM659 178h1v1h-1zM677 178h1v1h-1zM546 179h1v1h-1zM617 179h1v1h-1zM626 179h1v1h-1zM731 179h1v1h-1zM566 180h1v1h-1zM578 180h1v1h-1zM612 180h1v1h-1zM618 180h1v1h-1zM635 180h1v1h-1zM653 180h1v1h-1zM715 180h1v1h-1zM619 181h1v1h-1zM650 181h1v1h-1zM662 181h1v1h-1zM693 181h1v1h-1zM700 181h1v1h-1zM721 181h1v1h-1zM555 182h1v1h-1zM578 182h1v1h-1zM603 182h1v1h-1zM686 182h1v1h-1zM694 182h1v1h-1zM706 182h1v1h-1zM591 183h1v1h-1zM648 183h1v1h-1zM649 183h1v1h-1zM681 183h1v1h-1zM572 184h1v1h-1zM596 184h1v1h-1zM624 184h1v1h-1zM629 184h1v1h-1zM658 184h1v1h-1zM659 184h1v1h-1zM548 185h1v1h-1zM550 185h1v1h-1zM565 185h1v1h-1zM622 185h1v1h-1zM664 185h1v1h-1zM678 185h1v1h-1zM689 185h1v1h-1zM613 186h1v1h-1zM621 186h1v1h-1zM683 186h1v1h-1zM734 186h1v1h-1zM557 187h1v1h-1zM574 187h1v1h-1zM587 187h1v1h-1zM640 187h1v1h-1zM660 187h1v1h-1zM695 187h1v1h-1zM567 188h1v1h-1zM595 188h1v1h-1zM613 188h1v1h-1zM617 188h1v1h-1zM641 188h1v1h-1zM654 188h1v1h-1zM663 188h1v1h-1zM680 188h1v1h-1zM710 188h1v1h-1zM599 189h1v1h-1zM715 189h1v1h-1zM563 190h1v1h-1zM687 190h1v1h-1zM708 190h1v1h-1zM652 191h1v1h-1zM663 191h1v1h-1zM715 191h1v1h-1zM719 191h1v1h-1zM554 192h1v1h-1zM591 192h1v1h-1zM616 192h1v1h-1zM648 192h1v1h-1zM671 192h1v1h-1zM673 192h1v1h-1zM584 193h1v1h-1zM608 193h1v1h-1zM628 193h1v1h-1zM636 193h1v1h-1zM662 193h1v1h-1zM677 193h1v1h-1zM700 193h1v1h-1zM716 193h1v1h-1zM722 193h1v1h-1zM621 194h1v1h-1zM637 194h1v1h-1zM640 194h1v1h-1zM732 194h1v1h-1zM567 195h1v1h-1zM582 195h1v1h-1zM590 195h1v1h-1zM597 195h1v1h-1zM602 195h1v1h-1zM649 195h1v1h-1zM667 195h1v1h-1zM668 195h1v1h-1zM702 195h1v1h-1zM619 196h1v1h-1zM634 196h1v1h-1zM636 196h1v1h-1zM648 196h1v1h-1zM651 196h1v1h-1zM552 197h1v1h-1zM635 197h1v1h-1zM671 197h1v1h-1zM699 197h1v1h-1zM624 198h1v1h-1zM637 198h1v1h-1zM651 198h1v1h-1zM652 198h1v1h-1zM677 198h1v1h-1zM705 198h1v1h-1zM557 199h1v1h-1zM655 199h1v1h-1zM703 199h1v1h-1zM618 200h1v1h-1zM648 200h1v1h-1zM592 201h1v1h-1zM602 201h1v1h-1zM615 201h1v1h-1zM655 201h1v1h-1zM678 201h1v1h-1zM701 201h1v1h-1zM606 202h1v1h-1zM671 202h1v1h-1zM673 202h1v1h-1zM723 202h1v1h-1zM555 203h1v1h-1zM606 203h1v1h-1zM702 203h1v1h-1zM722 203h1v1h-1zM558 204h1v1h-1zM588 204h1v1h-1zM627 204h1v1h-1zM679 204h1v1h-1zM686 204h1v1h-1zM711 204h1v1h-1zM728 204h1v1h-1zM574 205h1v1h-1zM581 205h1v1h-1zM671 205h1v1h-1zM697 205h1v1h-1zM725 205h1v1h-1zM652 206h1v1h-1zM729 206h1v1h-1zM593 207h1v1h-1zM626 207h1v1h-1zM665 207h1v1h-1zM685 207h1v1h-1zM693 208h1v1h-1zM707 208h1v1h-1zM601 209h1v1h-1zM638 209h1v1h-1zM664 209h1v1h-1zM589 210h1v1h-1zM663 210h1v1h-1zM677 210h1v1h-1zM702 210h1v1h-1zM578 211h1v1h-1zM613 211h1v1h-1zM616 211h1v1h-1zM630 211h1v1h-1zM666 211h1v1h-1zM709 211h1v1h-1zM717 211h1v1h-1zM642 212h1v1h-1zM696 212h1v1h-1zM708 212h1v1h-1zM653 213h1v1h-1zM727 213h1v1h-1zM561 214h1v1h-1zM574 214h1v1h-1zM601 214h1v1h-1zM608 214h1v1h-1zM610 214h1v1h-1zM611 214h1v1h-1zM624 214h1v1h-1zM667 214h1v1h-1zM696 214h1v1h-1zM713 214h1v1h-1zM727 214h1v1h-1zM556 215h1v1h-1zM653 215h1v1h-1zM670 215h1v1h-1zM694 215h1v1h-1zM617 216h1v1h-1zM657 216h1v1h-1zM664 216h1v1h-1zM620 217h1v1h-1zM669 217h1v1h-1zM692 217h1v1h-1zM723 217h1v1h-1zM594 218h1v1h-1zM715 218h1v1h-1zM722 218h1v1h-1zM593 219h1v1h-1zM672 219h1v1h-1zM677 219h1v1h-1zM605 220h1v1h-1zM622 220h1v1h-1zM626 220h1v1h-1zM645 220h1v1h-1zM700 220h1v1h-1zM717 220h1v1h-1zM571 221h1v1h-1zM651 221h1v1h-1zM652 221h1v1h-1zM658 221h1v1h-1zM687 221h1v1h-1zM628 222h1v1h-1zM702 222h1v1h-1zM605 223h1v1h-1zM638 223h1v1h-1zM648 223h1v1h-1zM614 224h1v1h-1zM639 224h1v1h-1zM647 224h1v1h-1zM715 224h1v1h-1zM591 225h1v1h-1zM608 225h1v1h-1zM623 225h1v1h-1zM660 226h1v1h-1zM684 226h1v1h-1zM708 226h1v1h-1zM572 228h1v1h-1zM605 228h1v1h-1zM630 228h1v1h-1zM643 228h1v1h-1zM669 228h1v1h-1zM567 229h1v1h-1zM581 229h1v1h-1zM582 229h1v1h-1zM622 229h1v1h-1zM592 230h1v1h-1zM608 230h1v1h-1zM630 230h1v1h-1zM638 230h1v1h-1zM651 230h1v1h-1zM611 231h1v1h-1zM663 231h1v1h-1zM628 232h1v1h-1zM647 232h1v1h-1zM659 232h1v1h-1zM714 232h1v1h-1zM572 233h1v1h-1zM603 233h1v1h-1zM629 233h1v1h-1zM664 233h1v1h-1zM685 233h1v1h-1zM661 234h1v1h-1zM609 235h1v1h-1zM641 235h1v1h-1zM585 236h1v1h-1zM586 236h1v1h-1zM606 236h1v1h-1zM619 236h1v1h-1zM589 237h1v1h-1zM650 237h1v1h-1zM684 237h1v1h-1zM623 238h1v1h-1zM604 239h1v1h-1zM672 239h1v1h-1zM572 240h1v1h-1zM629 240h1v1h-1zM639 240h1v1h-1zM665 240h1v1h-1zM694 240h1v1h-1zM572 241h1v1h-1zM595 241h1v1h-1zM613 241h1v1h-1zM621 241h1v1h-1zM657 241h1v1h-1zM679 241h1v1h-1zM642 242h1v1h-1zM657 242h1v1h-1zM666 242h1v1h-1zM668 242h1v1h-1zM708 243h1v1h-1zM578 244h1v1h-1zM590 244h1v1h-1zM595 244h1v1h-1zM623 244h1v1h-1zM625 244h1v1h-1zM642 244h1v1h-1zM644 244h1v1h-1zM617 245h1v1h-1zM685 245h1v1h-1zM698 246h1v1h-1zM584 247h1v1h-1zM608 247h1v1h-1zM624 247h1v1h-1zM636 247h1v1h-1zM649 247h1v1h-1zM665 247h1v1h-1zM635 250h1v1h-1zM644 250h1v1h-1zM669 250h1v1h-1zM689 250h1v1h-1zM691 250h1v1h-1zM700 250h1v1h-1zM627 251h1v1h-1zM643 251h1v1h-1zM649 251h1v1h-1zM661 251h1v1h-1zM597 253h1v1h-1zM657 253h1v1h-1zM590 254h1v1h-1zM618 254h1v1h-1zM620 255h1v1h-1zM667 255h1v1h-1zM686 255h1v1h-1zM600 256h1v1h-1zM647 256h1v1h-1zM650 256h1v1h-1zM661 256h1v1h-1zM677 256h1v1h-1zM660 257h1v1h-1zM626 258h1v1h-1zM643 258h1v1h-1zM674 258h1v1h-1zM653 261h1v1h-1zM666 261h1v1h-1zM653 262h1v1h-1zM636 263h1v1h-1zM645 263h1v1h-1zM661 263h1v1h-1zM674 263h1v1h-1zM662 264h1v1h-1zM664 265h1v1h-1zM667 265h1v1h-1zM635 266h1v1h-1zM647 267h1v1h-1zM666 267h1v1h-1zM656 268h1v1h-1zM625 269h1v1h-1zM646 270h1v1h-1z" fill="#e0e0e0"/>
<defs><filter id="bl4" x="-50%" y="-50%" width="200%" height="200%"><feGaussianBlur stdDeviation="3.5"/></filter><filter id="bl2" x="-50%" y="-50%" width="200%" height="200%"><feGaussianBlur stdDeviation="2"/></filter></defs>
<g filter="url(#bl4)"><ellipse cx="642.5" cy="143" rx="15" ry="21" fill="#b0b0b0"/><ellipse cx="641" cy="204.3" rx="15" ry="21" fill="#b0b0b0"/></g>
<g filter="url(#bl2)"><ellipse cx="643.6" cy="145" rx="5.5" ry="21" fill="#888888"/><ellipse cx="639.9" cy="202.3" rx="5.5" ry="21" fill="#888888"/><rect x="641.5" y="106" width="4" height="25" fill="#e4e4e4"/><rect x="638" y="216" width="4" height="25" fill="#e4e4e4"/></g>
<path d="M660 101h1v1h-1zM619 104h1v1h-1zM650 116h1v1h-1zM665 118h1v1h-1zM626 119h1v1h-1zM645 119h1v1h-1zM647 119h1v1h-1zM642 120h1v1h-1zM663 120h1v1h-1zM647 122h1v1h-1zM655 122h1v1h-1zM635 123h1v1h-1zM638 123h1v1h-1zM661 123h1v1h-1zM624 124h1v1h-1zM634 124h1v1h-1zM638 124h1v1h-1zM644 124h1v1h-1zM654 124h1v1h-1zM659 124h1v1h-1zM642 126h1v1h-1zM641 127h1v1h-1zM623 128h1v1h-1zM633 129h1v1h-1zM638 129h1v1h-1zM641 129h1v1h-1zM644 129h1v1h-1zM657 129h1v1h-1zM631 130h1v1h-1zM632 130h1v1h-1zM634 130h1v1h-1zM638 130h1v1h-1zM646 130h1v1h-1zM647 130h1v1h-1zM651 130h1v1h-1zM660 130h1v1h-1zM641 131h1v1h-1zM643 131h1v1h-1zM644 131h1v1h-1zM650 131h1v1h-1zM626 132h1v1h-1zM633 132h1v1h-1zM641 132h1v1h-1zM645 132h1v1h-1zM647 132h1v1h-1zM620 133h1v1h-1zM640 133h1v1h-1zM641 133h1v1h-1zM647 133h1v1h-1zM627 134h1v1h-1zM638 134h1v1h-1zM648 134h1v1h-1zM634 135h1v1h-1zM636 135h1v1h-1zM639 135h1v1h-1zM648 135h1v1h-1zM652 135h1v1h-1zM629 136h1v1h-1zM647 136h1v1h-1zM629 137h1v1h-1zM635 137h1v1h-1zM643 137h1v1h-1zM645 137h1v1h-1zM657 137h1v1h-1zM632 138h1v1h-1zM634 138h1v1h-1zM639 138h1v1h-1zM644 138h1v1h-1zM645 138h1v1h-1zM648 138h1v1h-1zM638 139h1v1h-1zM670 139h1v1h-1zM621 140h1v1h-1zM640 140h1v1h-1zM645 140h1v1h-1zM647 140h1v1h-1zM648 140h1v1h-1zM651 140h1v1h-1zM656 140h1v1h-1zM672 140h1v1h-1zM628 141h1v1h-1zM637 141h1v1h-1zM639 141h1v1h-1zM651 141h1v1h-1zM640 142h1v1h-1zM643 142h1v1h-1zM644 142h1v1h-1zM641 143h1v1h-1zM643 143h1v1h-1zM649 143h1v1h-1zM639 144h1v1h-1zM642 144h1v1h-1zM644 144h1v1h-1zM646 144h1v1h-1zM650 144h1v1h-1zM631 145h1v1h-1zM644 145h1v1h-1zM645 145h1v1h-1zM651 145h1v1h-1zM658 145h1v1h-1zM628 146h1v1h-1zM630 146h1v1h-1zM636 146h1v1h-1zM651 146h1v1h-1zM646 147h1v1h-1zM651 147h1v1h-1zM656 147h1v1h-1zM631 148h1v1h-1zM633 148h1v1h-1zM642 148h1v1h-1zM655 148h1v1h-1zM628 149h1v1h-1zM643 149h1v1h-1zM644 149h1v1h-1zM650 149h1v1h-1zM651 149h1v1h-1zM654 149h1v1h-1zM623 150h1v1h-1zM635 150h1v1h-1zM638 150h1v1h-1zM642 151h1v1h-1zM643 151h1v1h-1zM640 152h1v1h-1zM642 152h1v1h-1zM629 153h1v1h-1zM638 153h1v1h-1zM643 153h1v1h-1zM644 153h1v1h-1zM648 153h1v1h-1zM658 153h1v1h-1zM656 154h1v1h-1zM621 155h1v1h-1zM639 155h1v1h-1zM629 156h1v1h-1zM633 156h1v1h-1zM635 156h1v1h-1zM639 156h1v1h-1zM647 156h1v1h-1zM639 158h1v1h-1zM627 159h1v1h-1zM656 159h1v1h-1zM630 160h1v1h-1zM656 160h1v1h-1zM633 161h1v1h-1zM639 161h1v1h-1zM644 161h1v1h-1zM645 161h1v1h-1zM645 162h1v1h-1zM646 162h1v1h-1zM632 165h1v1h-1zM640 166h1v1h-1zM626 167h1v1h-1zM641 167h1v1h-1zM647 167h1v1h-1zM638 168h1v1h-1zM636 171h1v1h-1zM644 171h1v1h-1zM645 171h1v1h-1zM624 172h1v1h-1zM649 172h1v1h-1zM633 176h1v1h-1zM637 176h1v1h-1zM639 176h1v1h-1zM645 180h1v1h-1zM647 180h1v1h-1zM663 180h1v1h-1zM635 181h1v1h-1zM625 182h1v1h-1zM636 182h1v1h-1zM630 183h1v1h-1zM669 183h1v1h-1zM616 184h1v1h-1zM636 184h1v1h-1zM662 184h1v1h-1zM640 185h1v1h-1zM641 185h1v1h-1zM644 186h1v1h-1zM645 186h1v1h-1zM630 187h1v1h-1zM632 187h1v1h-1zM638 187h1v1h-1zM641 187h1v1h-1zM642 187h1v1h-1zM645 187h1v1h-1zM648 187h1v1h-1zM652 187h1v1h-1zM639 188h1v1h-1zM647 189h1v1h-1zM648 189h1v1h-1zM653 189h1v1h-1zM646 190h1v1h-1zM614 191h1v1h-1zM630 191h1v1h-1zM633 191h1v1h-1zM639 191h1v1h-1zM643 191h1v1h-1zM654 191h1v1h-1zM626 192h1v1h-1zM637 192h1v1h-1zM646 192h1v1h-1zM647 192h1v1h-1zM651 192h1v1h-1zM636 193h1v1h-1zM654 193h1v1h-1zM660 193h1v1h-1zM663 193h1v1h-1zM634 194h1v1h-1zM642 195h1v1h-1zM644 195h1v1h-1zM651 195h1v1h-1zM622 196h1v1h-1zM639 196h1v1h-1zM640 196h1v1h-1zM641 196h1v1h-1zM642 196h1v1h-1zM644 196h1v1h-1zM646 196h1v1h-1zM648 196h1v1h-1zM649 196h1v1h-1zM653 196h1v1h-1zM626 197h1v1h-1zM631 197h1v1h-1zM633 197h1v1h-1zM636 197h1v1h-1zM648 197h1v1h-1zM650 197h1v1h-1zM656 197h1v1h-1zM631 198h1v1h-1zM632 198h1v1h-1zM634 198h1v1h-1zM638 198h1v1h-1zM642 198h1v1h-1zM639 199h1v1h-1zM642 199h1v1h-1zM644 199h1v1h-1zM646 199h1v1h-1zM632 200h1v1h-1zM644 200h1v1h-1zM661 200h1v1h-1zM630 201h1v1h-1zM645 201h1v1h-1zM652 201h1v1h-1zM656 201h1v1h-1zM624 202h1v1h-1zM635 202h1v1h-1zM639 202h1v1h-1zM650 202h1v1h-1zM660 202h1v1h-1zM619 203h1v1h-1zM627 203h1v1h-1zM630 203h1v1h-1zM632 203h1v1h-1zM641 203h1v1h-1zM646 203h1v1h-1zM648 203h1v1h-1zM622 204h1v1h-1zM629 204h1v1h-1zM630 204h1v1h-1zM641 204h1v1h-1zM646 204h1v1h-1zM638 205h1v1h-1zM639 205h1v1h-1zM640 205h1v1h-1zM643 205h1v1h-1zM647 205h1v1h-1zM631 206h1v1h-1zM637 206h1v1h-1zM639 206h1v1h-1zM648 206h1v1h-1zM653 206h1v1h-1zM633 207h1v1h-1zM638 207h1v1h-1zM647 207h1v1h-1zM625 208h1v1h-1zM637 208h1v1h-1zM639 208h1v1h-1zM651 208h1v1h-1zM622 209h1v1h-1zM637 209h1v1h-1zM658 209h1v1h-1zM638 210h1v1h-1zM648 210h1v1h-1zM622 211h1v1h-1zM636 211h1v1h-1zM638 211h1v1h-1zM639 211h1v1h-1zM640 211h1v1h-1zM645 211h1v1h-1zM650 211h1v1h-1zM652 211h1v1h-1zM653 211h1v1h-1zM633 212h1v1h-1zM639 212h1v1h-1zM642 212h1v1h-1zM648 212h1v1h-1zM628 213h1v1h-1zM635 213h1v1h-1zM636 213h1v1h-1zM644 213h1v1h-1zM649 213h1v1h-1zM625 214h1v1h-1zM630 214h1v1h-1zM639 214h1v1h-1zM666 214h1v1h-1zM644 215h1v1h-1zM645 215h1v1h-1zM648 215h1v1h-1zM649 215h1v1h-1zM654 215h1v1h-1zM625 216h1v1h-1zM626 216h1v1h-1zM641 216h1v1h-1zM645 216h1v1h-1zM650 216h1v1h-1zM630 217h1v1h-1zM644 217h1v1h-1zM656 217h1v1h-1zM632 218h1v1h-1zM640 218h1v1h-1zM639 219h1v1h-1zM640 219h1v1h-1zM644 219h1v1h-1zM651 219h1v1h-1zM640 220h1v1h-1zM625 221h1v1h-1zM644 221h1v1h-1zM650 221h1v1h-1zM628 222h1v1h-1zM623 223h1v1h-1zM630 223h1v1h-1zM640 223h1v1h-1zM648 223h1v1h-1zM649 223h1v1h-1zM625 224h1v1h-1zM639 224h1v1h-1zM647 224h1v1h-1zM629 225h1v1h-1zM631 225h1v1h-1zM636 225h1v1h-1zM638 225h1v1h-1zM661 226h1v1h-1zM637 228h1v1h-1zM639 229h1v1h-1zM661 229h1v1h-1zM648 230h1v1h-1zM633 231h1v1h-1zM630 234h1v1h-1zM649 235h1v1h-1zM625 236h1v1h-1zM647 236h1v1h-1zM647 237h1v1h-1zM640 239h1v1h-1zM651 241h1v1h-1z" fill="#8a8a8a"/>
<path d="M639 104h1v1h-1zM642 110h1v1h-1zM646 112h1v1h-1zM652 113h1v1h-1zM634 116h1v1h-1zM643 116h1v1h-1zM651 116h1v1h-1zM635 117h1v1h-1zM645 117h1v1h-1zM651 117h1v1h-1zM646 118h1v1h-1zM646 119h1v1h-1zM639 120h1v1h-1zM647 120h1v1h-1zM642 121h1v1h-1zM650 121h1v1h-1zM620 122h1v1h-1zM640 122h1v1h-1zM628 123h1v1h-1zM631 123h1v1h-1zM650 123h1v1h-1zM659 123h1v1h-1zM641 124h1v1h-1zM648 124h1v1h-1zM639 125h1v1h-1zM640 125h1v1h-1zM641 126h1v1h-1zM643 126h1v1h-1zM645 126h1v1h-1zM627 127h1v1h-1zM632 127h1v1h-1zM636 127h1v1h-1zM637 127h1v1h-1zM648 127h1v1h-1zM630 129h1v1h-1zM632 129h1v1h-1zM635 129h1v1h-1zM642 129h1v1h-1zM653 130h1v1h-1zM632 131h1v1h-1zM639 131h1v1h-1zM642 131h1v1h-1zM656 131h1v1h-1zM627 132h1v1h-1zM637 132h1v1h-1zM651 132h1v1h-1zM642 133h1v1h-1zM643 133h1v1h-1zM645 133h1v1h-1zM640 134h1v1h-1zM642 134h1v1h-1zM632 135h1v1h-1zM640 135h1v1h-1zM641 135h1v1h-1zM642 135h1v1h-1zM644 135h1v1h-1zM645 135h1v1h-1zM656 135h1v1h-1zM661 135h1v1h-1zM636 136h1v1h-1zM637 136h1v1h-1zM638 136h1v1h-1zM640 136h1v1h-1zM643 136h1v1h-1zM616 137h1v1h-1zM628 137h1v1h-1zM632 137h1v1h-1zM636 137h1v1h-1zM648 137h1v1h-1zM656 137h1v1h-1zM635 138h1v1h-1zM641 138h1v1h-1zM642 138h1v1h-1zM654 138h1v1h-1zM657 138h1v1h-1zM632 139h1v1h-1zM635 139h1v1h-1zM641 139h1v1h-1zM645 139h1v1h-1zM635 140h1v1h-1zM646 140h1v1h-1zM655 140h1v1h-1zM658 140h1v1h-1zM615 141h1v1h-1zM646 141h1v1h-1zM647 141h1v1h-1zM652 141h1v1h-1zM647 142h1v1h-1zM648 142h1v1h-1zM626 143h1v1h-1zM632 143h1v1h-1zM655 143h1v1h-1zM626 144h1v1h-1zM633 144h1v1h-1zM636 144h1v1h-1zM640 144h1v1h-1zM645 144h1v1h-1zM651 144h1v1h-1zM640 145h1v1h-1zM646 145h1v1h-1zM647 145h1v1h-1zM649 145h1v1h-1zM654 145h1v1h-1zM657 145h1v1h-1zM661 145h1v1h-1zM634 146h1v1h-1zM637 146h1v1h-1zM641 146h1v1h-1zM642 146h1v1h-1zM643 146h1v1h-1zM645 146h1v1h-1zM647 146h1v1h-1zM649 146h1v1h-1zM657 146h1v1h-1zM634 147h1v1h-1zM635 147h1v1h-1zM639 147h1v1h-1zM642 147h1v1h-1zM635 148h1v1h-1zM641 148h1v1h-1zM663 148h1v1h-1zM633 149h1v1h-1zM635 149h1v1h-1zM637 149h1v1h-1zM642 149h1v1h-1zM645 149h1v1h-1zM653 149h1v1h-1zM662 149h1v1h-1zM646 150h1v1h-1zM617 151h1v1h-1zM635 151h1v1h-1zM637 151h1v1h-1zM638 151h1v1h-1zM650 151h1v1h-1zM630 152h1v1h-1zM639 152h1v1h-1zM641 152h1v1h-1zM643 152h1v1h-1zM644 152h1v1h-1zM652 152h1v1h-1zM631 153h1v1h-1zM634 153h1v1h-1zM636 153h1v1h-1zM637 153h1v1h-1zM639 153h1v1h-1zM642 153h1v1h-1zM647 153h1v1h-1zM649 153h1v1h-1zM650 153h1v1h-1zM655 153h1v1h-1zM634 154h1v1h-1zM636 154h1v1h-1zM641 154h1v1h-1zM650 154h1v1h-1zM630 155h1v1h-1zM631 155h1v1h-1zM650 155h1v1h-1zM638 156h1v1h-1zM642 156h1v1h-1zM652 156h1v1h-1zM627 157h1v1h-1zM647 157h1v1h-1zM662 157h1v1h-1zM634 158h1v1h-1zM645 158h1v1h-1zM646 158h1v1h-1zM634 159h1v1h-1zM639 159h1v1h-1zM646 159h1v1h-1zM633 160h1v1h-1zM634 160h1v1h-1zM642 160h1v1h-1zM641 161h1v1h-1zM646 161h1v1h-1zM657 162h1v1h-1zM650 163h1v1h-1zM639 166h1v1h-1zM645 166h1v1h-1zM647 166h1v1h-1zM648 166h1v1h-1zM651 166h1v1h-1zM653 171h1v1h-1zM637 173h1v1h-1zM663 173h1v1h-1zM650 174h1v1h-1zM645 177h1v1h-1zM636 178h1v1h-1zM631 179h1v1h-1zM638 179h1v1h-1zM645 179h1v1h-1zM654 180h1v1h-1zM634 181h1v1h-1zM632 182h1v1h-1zM634 182h1v1h-1zM642 182h1v1h-1zM632 183h1v1h-1zM646 183h1v1h-1zM646 184h1v1h-1zM647 184h1v1h-1zM651 184h1v1h-1zM645 185h1v1h-1zM651 185h1v1h-1zM633 186h1v1h-1zM636 186h1v1h-1zM656 186h1v1h-1zM640 187h1v1h-1zM643 187h1v1h-1zM645 188h1v1h-1zM651 188h1v1h-1zM631 189h1v1h-1zM625 190h1v1h-1zM637 190h1v1h-1zM638 190h1v1h-1zM644 190h1v1h-1zM627 191h1v1h-1zM640 191h1v1h-1zM630 192h1v1h-1zM635 192h1v1h-1zM641 192h1v1h-1zM648 192h1v1h-1zM641 193h1v1h-1zM621 194h1v1h-1zM635 194h1v1h-1zM636 194h1v1h-1zM640 194h1v1h-1zM643 194h1v1h-1zM647 194h1v1h-1zM648 194h1v1h-1zM645 195h1v1h-1zM649 195h1v1h-1zM653 195h1v1h-1zM654 195h1v1h-1zM632 196h1v1h-1zM635 196h1v1h-1zM651 196h1v1h-1zM627 197h1v1h-1zM629 197h1v1h-1zM638 197h1v1h-1zM639 197h1v1h-1zM635 198h1v1h-1zM654 198h1v1h-1zM631 199h1v1h-1zM633 199h1v1h-1zM648 199h1v1h-1zM630 200h1v1h-1zM631 200h1v1h-1zM633 200h1v1h-1zM635 200h1v1h-1zM637 200h1v1h-1zM640 200h1v1h-1zM642 200h1v1h-1zM645 200h1v1h-1zM647 200h1v1h-1zM632 201h1v1h-1zM637 201h1v1h-1zM650 201h1v1h-1zM637 202h1v1h-1zM642 202h1v1h-1zM643 202h1v1h-1zM644 202h1v1h-1zM628 203h1v1h-1zM634 203h1v1h-1zM644 203h1v1h-1zM647 203h1v1h-1zM672 203h1v1h-1zM632 204h1v1h-1zM633 204h1v1h-1zM635 204h1v1h-1zM636 204h1v1h-1zM638 204h1v1h-1zM645 204h1v1h-1zM649 204h1v1h-1zM654 204h1v1h-1zM633 205h1v1h-1zM634 205h1v1h-1zM636 205h1v1h-1zM645 205h1v1h-1zM646 205h1v1h-1zM627 206h1v1h-1zM633 206h1v1h-1zM646 206h1v1h-1zM654 206h1v1h-1zM658 206h1v1h-1zM622 207h1v1h-1zM624 207h1v1h-1zM631 207h1v1h-1zM637 207h1v1h-1zM639 207h1v1h-1zM641 207h1v1h-1zM643 207h1v1h-1zM649 207h1v1h-1zM630 208h1v1h-1zM634 208h1v1h-1zM635 208h1v1h-1zM636 208h1v1h-1zM642 208h1v1h-1zM644 208h1v1h-1zM646 208h1v1h-1zM648 208h1v1h-1zM652 208h1v1h-1zM621 209h1v1h-1zM633 209h1v1h-1zM639 209h1v1h-1zM642 209h1v1h-1zM622 210h1v1h-1zM629 210h1v1h-1zM642 210h1v1h-1zM643 210h1v1h-1zM650 210h1v1h-1zM656 210h1v1h-1zM635 211h1v1h-1zM642 211h1v1h-1zM643 211h1v1h-1zM651 211h1v1h-1zM620 212h1v1h-1zM636 212h1v1h-1zM640 212h1v1h-1zM641 212h1v1h-1zM643 212h1v1h-1zM651 212h1v1h-1zM637 213h1v1h-1zM640 213h1v1h-1zM642 213h1v1h-1zM650 213h1v1h-1zM656 213h1v1h-1zM659 213h1v1h-1zM640 214h1v1h-1zM644 214h1v1h-1zM652 214h1v1h-1zM635 215h1v1h-1zM636 215h1v1h-1zM646 215h1v1h-1zM653 215h1v1h-1zM623 216h1v1h-1zM628 216h1v1h-1zM638 216h1v1h-1zM642 216h1v1h-1zM644 216h1v1h-1zM651 216h1v1h-1zM635 217h1v1h-1zM640 217h1v1h-1zM626 218h1v1h-1zM637 218h1v1h-1zM650 218h1v1h-1zM630 219h1v1h-1zM652 219h1v1h-1zM637 220h1v1h-1zM638 220h1v1h-1zM643 220h1v1h-1zM635 221h1v1h-1zM636 221h1v1h-1zM645 221h1v1h-1zM631 222h1v1h-1zM635 222h1v1h-1zM643 222h1v1h-1zM651 222h1v1h-1zM644 223h1v1h-1zM661 223h1v1h-1zM631 224h1v1h-1zM636 224h1v1h-1zM644 224h1v1h-1zM648 224h1v1h-1zM654 224h1v1h-1zM630 225h1v1h-1zM644 225h1v1h-1zM650 226h1v1h-1zM633 227h1v1h-1zM635 227h1v1h-1zM638 227h1v1h-1zM640 228h1v1h-1zM629 229h1v1h-1zM636 229h1v1h-1zM635 233h1v1h-1zM648 240h1v1h-1z" fill="#a2a2a2"/>
<path d="M624 104h1v1h-1zM637 108h1v1h-1zM630 109h1v1h-1zM634 110h1v1h-1zM643 111h1v1h-1zM648 111h1v1h-1zM644 112h1v1h-1zM650 112h1v1h-1zM631 115h1v1h-1zM649 119h1v1h-1zM635 120h1v1h-1zM652 120h1v1h-1zM636 121h1v1h-1zM640 121h1v1h-1zM648 121h1v1h-1zM629 122h1v1h-1zM650 122h1v1h-1zM665 122h1v1h-1zM664 124h1v1h-1zM665 124h1v1h-1zM642 125h1v1h-1zM643 125h1v1h-1zM646 125h1v1h-1zM648 125h1v1h-1zM661 125h1v1h-1zM629 126h1v1h-1zM634 126h1v1h-1zM638 126h1v1h-1zM639 126h1v1h-1zM649 126h1v1h-1zM653 126h1v1h-1zM655 126h1v1h-1zM652 127h1v1h-1zM626 128h1v1h-1zM635 128h1v1h-1zM641 128h1v1h-1zM644 128h1v1h-1zM646 128h1v1h-1zM647 129h1v1h-1zM649 129h1v1h-1zM650 129h1v1h-1zM619 130h1v1h-1zM629 130h1v1h-1zM636 130h1v1h-1zM643 130h1v1h-1zM635 131h1v1h-1zM637 131h1v1h-1zM640 131h1v1h-1zM635 132h1v1h-1zM640 132h1v1h-1zM650 132h1v1h-1zM630 133h1v1h-1zM631 133h1v1h-1zM632 133h1v1h-1zM635 133h1v1h-1zM637 133h1v1h-1zM638 133h1v1h-1zM648 133h1v1h-1zM655 133h1v1h-1zM633 134h1v1h-1zM634 134h1v1h-1zM641 134h1v1h-1zM644 134h1v1h-1zM662 134h1v1h-1zM637 135h1v1h-1zM638 135h1v1h-1zM646 135h1v1h-1zM647 135h1v1h-1zM649 135h1v1h-1zM657 135h1v1h-1zM635 136h1v1h-1zM639 136h1v1h-1zM641 136h1v1h-1zM642 136h1v1h-1zM648 136h1v1h-1zM649 136h1v1h-1zM651 136h1v1h-1zM653 136h1v1h-1zM624 137h1v1h-1zM634 137h1v1h-1zM637 137h1v1h-1zM639 137h1v1h-1zM641 137h1v1h-1zM650 137h1v1h-1zM651 137h1v1h-1zM654 137h1v1h-1zM620 138h1v1h-1zM624 138h1v1h-1zM628 138h1v1h-1zM630 138h1v1h-1zM637 138h1v1h-1zM638 138h1v1h-1zM640 138h1v1h-1zM643 138h1v1h-1zM646 138h1v1h-1zM651 138h1v1h-1zM658 138h1v1h-1zM629 139h1v1h-1zM631 139h1v1h-1zM642 139h1v1h-1zM643 139h1v1h-1zM653 139h1v1h-1zM622 140h1v1h-1zM630 140h1v1h-1zM632 140h1v1h-1zM634 140h1v1h-1zM638 140h1v1h-1zM644 140h1v1h-1zM630 141h1v1h-1zM632 141h1v1h-1zM634 141h1v1h-1zM642 141h1v1h-1zM644 141h1v1h-1zM648 141h1v1h-1zM649 141h1v1h-1zM654 141h1v1h-1zM626 142h1v1h-1zM627 142h1v1h-1zM630 142h1v1h-1zM631 142h1v1h-1zM634 142h1v1h-1zM639 142h1v1h-1zM649 142h1v1h-1zM650 142h1v1h-1zM656 142h1v1h-1zM657 142h1v1h-1zM660 142h1v1h-1zM634 143h1v1h-1zM635 143h1v1h-1zM637 143h1v1h-1zM638 143h1v1h-1zM644 143h1v1h-1zM653 143h1v1h-1zM657 143h1v1h-1zM620 144h1v1h-1zM628 144h1v1h-1zM632 144h1v1h-1zM635 144h1v1h-1zM637 144h1v1h-1zM638 144h1v1h-1zM649 144h1v1h-1zM632 145h1v1h-1zM633 145h1v1h-1zM638 145h1v1h-1zM639 145h1v1h-1zM641 145h1v1h-1zM642 145h1v1h-1zM643 145h1v1h-1zM648 145h1v1h-1zM655 145h1v1h-1zM656 145h1v1h-1zM631 146h1v1h-1zM646 146h1v1h-1zM653 146h1v1h-1zM641 147h1v1h-1zM657 147h1v1h-1zM662 147h1v1h-1zM624 148h1v1h-1zM632 148h1v1h-1zM640 148h1v1h-1zM643 148h1v1h-1zM646 148h1v1h-1zM647 148h1v1h-1zM648 148h1v1h-1zM652 148h1v1h-1zM659 148h1v1h-1zM620 149h1v1h-1zM634 149h1v1h-1zM638 149h1v1h-1zM648 149h1v1h-1zM663 149h1v1h-1zM640 150h1v1h-1zM643 150h1v1h-1zM645 150h1v1h-1zM650 150h1v1h-1zM656 150h1v1h-1zM658 150h1v1h-1zM633 151h1v1h-1zM647 151h1v1h-1zM660 151h1v1h-1zM647 152h1v1h-1zM654 152h1v1h-1zM627 153h1v1h-1zM632 153h1v1h-1zM641 153h1v1h-1zM645 153h1v1h-1zM632 154h1v1h-1zM642 154h1v1h-1zM647 154h1v1h-1zM629 155h1v1h-1zM636 155h1v1h-1zM640 155h1v1h-1zM644 155h1v1h-1zM649 155h1v1h-1zM632 156h1v1h-1zM648 156h1v1h-1zM669 156h1v1h-1zM624 157h1v1h-1zM626 157h1v1h-1zM639 157h1v1h-1zM640 157h1v1h-1zM641 157h1v1h-1zM649 157h1v1h-1zM654 157h1v1h-1zM630 158h1v1h-1zM637 158h1v1h-1zM642 158h1v1h-1zM644 158h1v1h-1zM647 158h1v1h-1zM640 159h1v1h-1zM652 159h1v1h-1zM654 159h1v1h-1zM638 160h1v1h-1zM640 160h1v1h-1zM650 160h1v1h-1zM654 160h1v1h-1zM623 161h1v1h-1zM624 161h1v1h-1zM625 161h1v1h-1zM634 161h1v1h-1zM642 161h1v1h-1zM655 161h1v1h-1zM631 162h1v1h-1zM638 162h1v1h-1zM651 162h1v1h-1zM656 162h1v1h-1zM648 163h1v1h-1zM640 165h1v1h-1zM643 165h1v1h-1zM645 165h1v1h-1zM646 165h1v1h-1zM650 165h1v1h-1zM635 167h1v1h-1zM658 167h1v1h-1zM662 167h1v1h-1zM646 173h1v1h-1zM632 180h1v1h-1zM640 180h1v1h-1zM644 181h1v1h-1zM651 181h1v1h-1zM655 181h1v1h-1zM642 184h1v1h-1zM660 184h1v1h-1zM634 185h1v1h-1zM640 186h1v1h-1zM654 186h1v1h-1zM618 187h1v1h-1zM628 187h1v1h-1zM636 187h1v1h-1zM637 187h1v1h-1zM639 187h1v1h-1zM647 187h1v1h-1zM610 188h1v1h-1zM636 188h1v1h-1zM644 188h1v1h-1zM628 189h1v1h-1zM629 189h1v1h-1zM634 189h1v1h-1zM637 189h1v1h-1zM638 189h1v1h-1zM639 189h1v1h-1zM615 190h1v1h-1zM618 190h1v1h-1zM632 190h1v1h-1zM635 190h1v1h-1zM642 190h1v1h-1zM643 190h1v1h-1zM645 190h1v1h-1zM634 191h1v1h-1zM638 191h1v1h-1zM641 191h1v1h-1zM650 191h1v1h-1zM640 192h1v1h-1zM642 192h1v1h-1zM643 192h1v1h-1zM633 193h1v1h-1zM642 193h1v1h-1zM647 193h1v1h-1zM633 194h1v1h-1zM637 194h1v1h-1zM639 194h1v1h-1zM645 194h1v1h-1zM646 194h1v1h-1zM655 194h1v1h-1zM633 195h1v1h-1zM636 195h1v1h-1zM638 195h1v1h-1zM648 195h1v1h-1zM661 195h1v1h-1zM668 195h1v1h-1zM627 196h1v1h-1zM629 196h1v1h-1zM636 196h1v1h-1zM638 196h1v1h-1zM647 196h1v1h-1zM650 196h1v1h-1zM623 197h1v1h-1zM630 197h1v1h-1zM632 197h1v1h-1zM637 197h1v1h-1zM640 197h1v1h-1zM641 197h1v1h-1zM642 197h1v1h-1zM643 197h1v1h-1zM655 197h1v1h-1zM627 198h1v1h-1zM630 198h1v1h-1zM633 198h1v1h-1zM636 198h1v1h-1zM637 198h1v1h-1zM641 198h1v1h-1zM643 198h1v1h-1zM645 198h1v1h-1zM647 198h1v1h-1zM648 198h1v1h-1zM652 198h1v1h-1zM655 198h1v1h-1zM660 198h1v1h-1zM629 199h1v1h-1zM635 199h1v1h-1zM636 199h1v1h-1zM637 199h1v1h-1zM638 199h1v1h-1zM647 199h1v1h-1zM662 199h1v1h-1zM629 200h1v1h-1zM641 200h1v1h-1zM643 200h1v1h-1zM646 200h1v1h-1zM649 200h1v1h-1zM633 201h1v1h-1zM640 201h1v1h-1zM641 201h1v1h-1zM665 201h1v1h-1zM628 202h1v1h-1zM633 202h1v1h-1zM634 202h1v1h-1zM638 202h1v1h-1zM641 202h1v1h-1zM646 202h1v1h-1zM658 202h1v1h-1zM661 202h1v1h-1zM625 203h1v1h-1zM631 203h1v1h-1zM637 203h1v1h-1zM639 203h1v1h-1zM640 203h1v1h-1zM652 203h1v1h-1zM640 204h1v1h-1zM643 204h1v1h-1zM647 204h1v1h-1zM648 204h1v1h-1zM653 204h1v1h-1zM627 205h1v1h-1zM628 205h1v1h-1zM637 205h1v1h-1zM641 205h1v1h-1zM642 205h1v1h-1zM649 205h1v1h-1zM650 205h1v1h-1zM634 206h1v1h-1zM641 206h1v1h-1zM643 206h1v1h-1zM644 206h1v1h-1zM650 206h1v1h-1zM655 206h1v1h-1zM626 207h1v1h-1zM634 207h1v1h-1zM636 207h1v1h-1zM640 207h1v1h-1zM644 207h1v1h-1zM654 207h1v1h-1zM660 207h1v1h-1zM632 208h1v1h-1zM633 208h1v1h-1zM640 208h1v1h-1zM643 208h1v1h-1zM645 208h1v1h-1zM647 208h1v1h-1zM656 208h1v1h-1zM630 209h1v1h-1zM631 209h1v1h-1zM635 209h1v1h-1zM636 209h1v1h-1zM638 209h1v1h-1zM643 209h1v1h-1zM646 209h1v1h-1zM649 209h1v1h-1zM650 209h1v1h-1zM651 209h1v1h-1zM656 209h1v1h-1zM659 209h1v1h-1zM631 210h1v1h-1zM633 210h1v1h-1zM637 210h1v1h-1zM640 210h1v1h-1zM645 210h1v1h-1zM646 210h1v1h-1zM649 210h1v1h-1zM653 210h1v1h-1zM619 211h1v1h-1zM627 211h1v1h-1zM631 211h1v1h-1zM641 211h1v1h-1zM626 212h1v1h-1zM628 212h1v1h-1zM632 212h1v1h-1zM638 212h1v1h-1zM624 213h1v1h-1zM634 213h1v1h-1zM641 213h1v1h-1zM646 213h1v1h-1zM647 213h1v1h-1zM651 213h1v1h-1zM627 214h1v1h-1zM637 214h1v1h-1zM638 214h1v1h-1zM641 214h1v1h-1zM642 214h1v1h-1zM645 214h1v1h-1zM648 214h1v1h-1zM608 215h1v1h-1zM625 215h1v1h-1zM626 215h1v1h-1zM656 215h1v1h-1zM666 215h1v1h-1zM636 216h1v1h-1zM637 216h1v1h-1zM657 216h1v1h-1zM638 217h1v1h-1zM641 217h1v1h-1zM642 217h1v1h-1zM643 217h1v1h-1zM645 217h1v1h-1zM621 218h1v1h-1zM628 218h1v1h-1zM634 218h1v1h-1zM648 218h1v1h-1zM653 218h1v1h-1zM634 219h1v1h-1zM636 219h1v1h-1zM643 219h1v1h-1zM647 219h1v1h-1zM633 220h1v1h-1zM634 220h1v1h-1zM646 220h1v1h-1zM651 220h1v1h-1zM654 220h1v1h-1zM623 221h1v1h-1zM638 221h1v1h-1zM639 221h1v1h-1zM641 221h1v1h-1zM649 221h1v1h-1zM637 222h1v1h-1zM645 222h1v1h-1zM648 222h1v1h-1zM621 223h1v1h-1zM632 223h1v1h-1zM645 223h1v1h-1zM652 223h1v1h-1zM629 224h1v1h-1zM633 224h1v1h-1zM646 224h1v1h-1zM650 224h1v1h-1zM652 224h1v1h-1zM639 225h1v1h-1zM649 225h1v1h-1zM621 226h1v1h-1zM629 226h1v1h-1zM639 226h1v1h-1zM644 226h1v1h-1zM644 227h1v1h-1zM647 227h1v1h-1zM645 228h1v1h-1zM662 228h1v1h-1zM635 229h1v1h-1zM641 229h1v1h-1zM635 230h1v1h-1zM636 230h1v1h-1zM646 232h1v1h-1zM656 240h1v1h-1zM639 243h1v1h-1zM646 245h1v1h-1z" fill="#c4c4c4"/>
<ellipse cx="643.7" cy="171.1" rx="2.6" ry="3.3" transform="rotate(30 643.7 171.1)" fill="#1c1c1c"/>
<ellipse cx="639.0" cy="177.2" rx="2.6" ry="3.2" transform="rotate(30 639.0 177.2)" fill="#1c1c1c"/>
<line x1="640.5" y1="174.8" x2="642.3" y2="173" stroke="#1c1c1c" stroke-width="1.4"/>
<path d="M670.50 118.20C672.87 118.02 674.63 118.30 677.00 119.30C679.37 120.30 682.15 122.12 684.70 124.20C687.25 126.28 690.12 129.07 692.30 131.80C694.48 134.53 696.62 138.05 697.80 140.60C698.98 143.15 699.40 145.10 699.40 147.10C699.40 149.10 698.98 151.13 697.80 152.60C696.62 154.07 694.48 154.80 692.30 155.90C690.12 157.00 687.25 158.12 684.70 159.20C682.15 160.28 679.37 161.32 677.00 162.40C674.63 163.48 672.87 165.00 670.50 165.70C668.13 166.40 665.53 166.50 662.80 166.60C660.07 166.70 656.37 166.82 654.10 166.30C651.83 165.78 650.38 164.87 649.20 163.50C648.02 162.13 647.45 160.28 647.00 158.10C646.55 155.92 646.40 153.50 646.50 150.40C646.60 147.30 646.88 142.60 647.60 139.50C648.32 136.40 649.35 134.17 650.80 131.80C652.25 129.43 654.30 127.20 656.30 125.30C658.30 123.40 660.43 121.58 662.80 120.40C665.17 119.22 668.13 118.38 670.50 118.20Z" fill="none" stroke="#000" stroke-width="1.6"/>
<path d="M661.20 135.10C663.12 135.10 665.15 135.80 666.70 136.80C668.25 137.80 669.68 139.57 670.50 141.10C671.32 142.63 671.68 144.17 671.60 146.00C671.52 147.83 670.92 150.37 670.00 152.10C669.08 153.83 667.65 155.40 666.10 156.40C664.55 157.40 662.52 157.92 660.70 158.10C658.88 158.28 656.75 158.05 655.20 157.50C653.65 156.95 652.22 156.35 651.40 154.80C650.58 153.25 650.30 150.38 650.30 148.20C650.30 146.02 650.58 143.60 651.40 141.70C652.22 139.80 653.57 137.90 655.20 136.80C656.83 135.70 659.28 135.10 661.20 135.10Z" fill="none" stroke="#000" stroke-width="1.6"/>
<path d="M613.00 229.10C610.63 229.28 608.87 229.00 606.50 228.00C604.13 227.00 601.35 225.18 598.80 223.10C596.25 221.02 593.38 218.23 591.20 215.50C589.02 212.77 586.88 209.25 585.70 206.70C584.52 204.15 584.10 202.20 584.10 200.20C584.10 198.20 584.52 196.17 585.70 194.70C586.88 193.23 589.02 192.50 591.20 191.40C593.38 190.30 596.25 189.18 598.80 188.10C601.35 187.02 604.13 185.98 606.50 184.90C608.87 183.82 610.63 182.30 613.00 181.60C615.37 180.90 617.97 180.80 620.70 180.70C623.43 180.60 627.13 180.48 629.40 181.00C631.67 181.52 633.12 182.43 634.30 183.80C635.48 185.17 636.05 187.02 636.50 189.20C636.95 191.38 637.10 193.80 637.00 196.90C636.90 200.00 636.62 204.70 635.90 207.80C635.18 210.90 634.15 213.13 632.70 215.50C631.25 217.87 629.20 220.10 627.20 222.00C625.20 223.90 623.07 225.72 620.70 226.90C618.33 228.08 615.37 228.92 613.00 229.10Z" fill="none" stroke="#000" stroke-width="1.6"/>
<path d="M622.30 212.20C620.38 212.20 618.35 211.50 616.80 210.50C615.25 209.50 613.82 207.73 613.00 206.20C612.18 204.67 611.82 203.13 611.90 201.30C611.98 199.47 612.58 196.93 613.50 195.20C614.42 193.47 615.85 191.90 617.40 190.90C618.95 189.90 620.98 189.38 622.80 189.20C624.62 189.02 626.75 189.25 628.30 189.80C629.85 190.35 631.28 190.95 632.10 192.50C632.92 194.05 633.20 196.92 633.20 199.10C633.20 201.28 632.92 203.70 632.10 205.60C631.28 207.50 629.93 209.40 628.30 210.50C626.67 211.60 624.22 212.20 622.30 212.20Z" fill="none" stroke="#000" stroke-width="1.6"/>
<path d="M619.00 105.70C621.32 106.50 624.88 107.70 627.40 109.10C629.92 110.50 632.28 112.00 634.10 114.10C635.92 116.20 637.32 118.75 638.30 121.70C639.28 124.65 639.72 128.28 640.00 131.80C640.28 135.32 640.10 138.98 640.00 142.80C639.90 146.62 639.90 151.73 639.40 154.70C638.90 157.67 638.08 159.12 637.00 160.60C635.92 162.08 634.77 163.00 632.90 163.60C631.03 164.20 628.18 164.30 625.80 164.20C623.42 164.10 620.98 163.80 618.60 163.00C616.22 162.20 613.87 161.08 611.50 159.40C609.13 157.72 606.58 155.07 604.40 152.90C602.22 150.73 599.98 148.67 598.40 146.40C596.82 144.13 595.58 141.68 594.90 139.30C594.22 136.92 594.20 134.12 594.30 132.10C594.40 130.08 594.88 129.18 595.50 127.20C596.12 125.22 597.07 122.50 598.00 120.20C598.93 117.90 600.12 115.50 601.10 113.40C602.08 111.30 602.73 109.00 603.90 107.60C605.07 106.20 606.50 105.55 608.10 105.00C609.70 104.45 611.68 104.18 613.50 104.30C615.32 104.42 616.68 104.90 619.00 105.70Z" fill="none" stroke="#1e1e1e" stroke-width="0.8"/>
<path d="M625.80 129.20C627.58 129.70 631.13 131.62 632.90 133.30C634.67 134.98 635.82 136.92 636.40 139.30C636.98 141.68 636.78 145.23 636.40 147.60C636.02 149.97 635.48 152.02 634.10 153.50C632.72 154.98 630.08 156.40 628.10 156.50C626.12 156.60 623.98 155.58 622.20 154.10C620.42 152.62 618.28 149.88 617.40 147.60C616.52 145.32 616.70 142.58 616.90 140.40C617.10 138.22 617.72 136.18 618.60 134.50C619.48 132.82 621.00 131.18 622.20 130.30C623.40 129.42 624.02 128.70 625.80 129.20Z" fill="none" stroke="#1e1e1e" stroke-width="0.8"/>
<path d="M664.50 241.60C662.18 240.80 658.62 239.60 656.10 238.20C653.58 236.80 651.22 235.30 649.40 233.20C647.58 231.10 646.18 228.55 645.20 225.60C644.22 222.65 643.78 219.02 643.50 215.50C643.22 211.98 643.40 208.32 643.50 204.50C643.60 200.68 643.60 195.57 644.10 192.60C644.60 189.63 645.42 188.18 646.50 186.70C647.58 185.22 648.73 184.30 650.60 183.70C652.47 183.10 655.32 183.00 657.70 183.10C660.08 183.20 662.52 183.50 664.90 184.30C667.28 185.10 669.63 186.22 672.00 187.90C674.37 189.58 676.92 192.23 679.10 194.40C681.28 196.57 683.52 198.63 685.10 200.90C686.68 203.17 687.92 205.62 688.60 208.00C689.28 210.38 689.30 213.18 689.20 215.20C689.10 217.22 688.62 218.12 688.00 220.10C687.38 222.08 686.43 224.80 685.50 227.10C684.57 229.40 683.38 231.80 682.40 233.90C681.42 236.00 680.77 238.30 679.60 239.70C678.43 241.10 677.00 241.75 675.40 242.30C673.80 242.85 671.82 243.12 670.00 243.00C668.18 242.88 666.82 242.40 664.50 241.60Z" fill="none" stroke="#1e1e1e" stroke-width="0.8"/>
<path d="M657.70 218.10C655.92 217.60 652.37 215.68 650.60 214.00C648.83 212.32 647.68 210.38 647.10 208.00C646.52 205.62 646.72 202.07 647.10 199.70C647.48 197.33 648.02 195.28 649.40 193.80C650.78 192.32 653.42 190.90 655.40 190.80C657.38 190.70 659.52 191.72 661.30 193.20C663.08 194.68 665.22 197.42 666.10 199.70C666.98 201.98 666.80 204.72 666.60 206.90C666.40 209.08 665.78 211.12 664.90 212.80C664.02 214.48 662.50 216.12 661.30 217.00C660.10 217.88 659.48 218.60 657.70 218.10Z" fill="none" stroke="#1e1e1e" stroke-width="0.8"/>
<path d="M553.30 138.70C554.30 139.58 557.52 142.03 559.30 144.00C561.08 145.97 562.23 148.62 564.00 150.50C565.77 152.38 567.72 153.82 569.90 155.30C572.08 156.78 574.52 157.92 577.10 159.40C579.68 160.88 582.43 162.72 585.40 164.20C588.37 165.68 591.73 167.12 594.90 168.30C598.07 169.48 601.23 170.60 604.40 171.30C607.57 172.00 610.33 172.20 613.90 172.50C617.47 172.80 622.23 172.97 625.80 173.10C629.37 173.23 632.64 173.21 635.30 173.30C637.96 173.39 639.60 173.53 641.75 173.65C643.90 173.77 645.54 173.91 648.20 174.00C650.86 174.09 654.13 174.07 657.70 174.20C661.27 174.33 666.03 174.50 669.60 174.80C673.17 175.10 675.93 175.30 679.10 176.00C682.27 176.70 685.43 177.82 688.60 179.00C691.77 180.18 695.13 181.62 698.10 183.10C701.07 184.58 703.82 186.42 706.40 187.90C708.98 189.38 711.42 190.52 713.60 192.00C715.78 193.48 717.73 194.92 719.50 196.80C721.27 198.68 722.42 201.33 724.20 203.30C725.98 205.27 729.20 207.72 730.20 208.60" fill="none" stroke="#222" stroke-width="1.05" stroke-dasharray="1.1 2.9"/>
<path d="M653.00 78.50C652.90 79.18 652.75 79.65 652.40 82.60C652.05 85.55 651.33 91.92 650.90 96.20C650.47 100.48 650.15 104.60 649.80 108.30C649.45 112.00 649.30 115.38 648.80 118.40C648.30 121.42 647.30 123.72 646.80 126.40C646.30 129.08 646.28 131.23 645.80 134.50C645.32 137.77 644.42 141.75 643.90 146.00C643.38 150.25 643.06 155.39 642.70 160.00C642.34 164.61 642.07 169.10 641.75 173.65C641.43 178.20 641.16 182.69 640.80 187.30C640.44 191.91 640.12 197.05 639.60 201.30C639.08 205.55 638.18 209.53 637.70 212.80C637.22 216.07 637.20 218.22 636.70 220.90C636.20 223.58 635.20 225.88 634.70 228.90C634.20 231.92 634.05 235.30 633.70 239.00C633.35 242.70 633.03 246.82 632.60 251.10C632.17 255.38 631.45 261.75 631.10 264.70C630.75 267.65 630.60 268.12 630.50 268.80" fill="none" stroke="#222" stroke-width="1.05" stroke-dasharray="1.1 2.9"/>
<circle cx="641.75" cy="173.65" r="32.3" fill="none" stroke="#2a2a2a" stroke-width="0.85" stroke-dasharray="4.5 3"/>
<circle cx="641.5" cy="174.4" r="97" fill="none" stroke="#333" stroke-width="0.75"/>
<path d="M547.2 271.5v-2.2M547.2 76.5v2.2M551.3 271.5v-2.2M551.3 76.5v2.2M555.4 271.5v-2.2M555.4 76.5v2.2M559.5 271.5v-4.2M559.5 76.5v4.2M563.6 271.5v-2.2M563.6 76.5v2.2M567.7 271.5v-2.2M567.7 76.5v2.2M571.8 271.5v-2.2M571.8 76.5v2.2M575.9 271.5v-2.2M575.9 76.5v2.2M580 271.5v-2.2M580 76.5v2.2M584.1 271.5v-2.2M584.1 76.5v2.2M588.2 271.5v-2.2M588.2 76.5v2.2M592.3 271.5v-2.2M592.3 76.5v2.2M596.4 271.5v-2.2M596.4 76.5v2.2M600.5 271.5v-4.2M600.5 76.5v4.2M604.6 271.5v-2.2M604.6 76.5v2.2M608.7 271.5v-2.2M608.7 76.5v2.2M612.8 271.5v-2.2M612.8 76.5v2.2M616.9 271.5v-2.2M616.9 76.5v2.2M621 271.5v-2.2M621 76.5v2.2M625.1 271.5v-2.2M625.1 76.5v2.2M629.2 271.5v-2.2M629.2 76.5v2.2M633.3 271.5v-2.2M633.3 76.5v2.2M637.4 271.5v-2.2M637.4 76.5v2.2M641.5 271.5v-4.2M641.5 76.5v4.2M645.6 271.5v-2.2M645.6 76.5v2.2M649.7 271.5v-2.2M649.7 76.5v2.2M653.8 271.5v-2.2M653.8 76.5v2.2M657.9 271.5v-2.2M657.9 76.5v2.2M662 271.5v-2.2M662 76.5v2.2M666.1 271.5v-2.2M666.1 76.5v2.2M670.2 271.5v-2.2M670.2 76.5v2.2M674.3 271.5v-2.2M674.3 76.5v2.2M678.4 271.5v-2.2M678.4 76.5v2.2M682.5 271.5v-4.2M682.5 76.5v4.2M686.6 271.5v-2.2M686.6 76.5v2.2M690.7 271.5v-2.2M690.7 76.5v2.2M694.8 271.5v-2.2M694.8 76.5v2.2M698.9 271.5v-2.2M698.9 76.5v2.2M703 271.5v-2.2M703 76.5v2.2M707.1 271.5v-2.2M707.1 76.5v2.2M711.2 271.5v-2.2M711.2 76.5v2.2M715.3 271.5v-2.2M715.3 76.5v2.2M719.4 271.5v-2.2M719.4 76.5v2.2M723.5 271.5v-4.2M723.5 76.5v4.2M727.6 271.5v-2.2M727.6 76.5v2.2M731.7 271.5v-2.2M731.7 76.5v2.2M735.8 271.5v-2.2M735.8 76.5v2.2M543.5 268.5h2.2M739.5 268.5h-2.2M543.5 264.4h2.2M739.5 264.4h-2.2M543.5 260.3h2.2M739.5 260.3h-2.2M543.5 256.2h4.2M739.5 256.2h-4.2M543.5 252.1h2.2M739.5 252.1h-2.2M543.5 248h2.2M739.5 248h-2.2M543.5 243.9h2.2M739.5 243.9h-2.2M543.5 239.8h2.2M739.5 239.8h-2.2M543.5 235.7h2.2M739.5 235.7h-2.2M543.5 231.6h2.2M739.5 231.6h-2.2M543.5 227.5h2.2M739.5 227.5h-2.2M543.5 223.4h2.2M739.5 223.4h-2.2M543.5 219.3h2.2M739.5 219.3h-2.2M543.5 215.2h4.2M739.5 215.2h-4.2M543.5 211.1h2.2M739.5 211.1h-2.2M543.5 207h2.2M739.5 207h-2.2M543.5 202.9h2.2M739.5 202.9h-2.2M543.5 198.8h2.2M739.5 198.8h-2.2M543.5 194.7h2.2M739.5 194.7h-2.2M543.5 190.6h2.2M739.5 190.6h-2.2M543.5 186.5h2.2M739.5 186.5h-2.2M543.5 182.4h2.2M739.5 182.4h-2.2M543.5 178.3h2.2M739.5 178.3h-2.2M543.5 174.2h4.2M739.5 174.2h-4.2M543.5 170.1h2.2M739.5 170.1h-2.2M543.5 166h2.2M739.5 166h-2.2M543.5 161.9h2.2M739.5 161.9h-2.2M543.5 157.8h2.2M739.5 157.8h-2.2M543.5 153.7h2.2M739.5 153.7h-2.2M543.5 149.6h2.2M739.5 149.6h-2.2M543.5 145.5h2.2M739.5 145.5h-2.2M543.5 141.4h2.2M739.5 141.4h-2.2M543.5 137.3h2.2M739.5 137.3h-2.2M543.5 133.2h4.2M739.5 133.2h-4.2M543.5 129.1h2.2M739.5 129.1h-2.2M543.5 125h2.2M739.5 125h-2.2M543.5 120.9h2.2M739.5 120.9h-2.2M543.5 116.8h2.2M739.5 116.8h-2.2M543.5 112.7h2.2M739.5 112.7h-2.2M543.5 108.6h2.2M739.5 108.6h-2.2M543.5 104.5h2.2M739.5 104.5h-2.2M543.5 100.4h2.2M739.5 100.4h-2.2M543.5 96.3h2.2M739.5 96.3h-2.2M543.5 92.2h4.2M739.5 92.2h-4.2M543.5 88.1h2.2M739.5 88.1h-2.2M543.5 84h2.2M739.5 84h-2.2M543.5 79.9h2.2M739.5 79.9h-2.2" stroke="#000" stroke-opacity="0.34" stroke-width="1" fill="none"/>
<rect x="543.5" y="76.5" width="196" height="195" fill="none" stroke="#000" stroke-opacity="0.34" stroke-width="1"/>
<text x="550.96" y="282.90" font-size="8.8" textLength="16.41" lengthAdjust="spacingAndGlyphs">-200</text>
<text x="524.89" y="259.20" font-size="8.8" textLength="16.41" lengthAdjust="spacingAndGlyphs">-200</text>
<text x="591.96" y="282.90" font-size="8.8" textLength="16.41" lengthAdjust="spacingAndGlyphs">-100</text>
<text x="524.89" y="218.20" font-size="8.8" textLength="16.41" lengthAdjust="spacingAndGlyphs">-100</text>
<text x="638.90" y="282.90" font-size="8.8" textLength="4.56" lengthAdjust="spacingAndGlyphs">0</text>
<text x="536.74" y="177.20" font-size="8.8" textLength="4.56" lengthAdjust="spacingAndGlyphs">0</text>
<text x="675.21" y="282.90" font-size="8.8" textLength="13.68" lengthAdjust="spacingAndGlyphs">100</text>
<text x="527.63" y="136.20" font-size="8.8" textLength="13.68" lengthAdjust="spacingAndGlyphs">100</text>
<text x="716.31" y="282.90" font-size="8.8" textLength="13.68" lengthAdjust="spacingAndGlyphs">200</text>
<text x="527.63" y="95.20" font-size="8.8" textLength="13.68" lengthAdjust="spacingAndGlyphs">200</text>
<text x="564.02" y="74.50" font-size="12" textLength="154.38" lengthAdjust="spacingAndGlyphs">ngc6782K_hz20_compact.ps</text>
<path d="M206.60 352.50C206.75 354.58 207.10 361.23 207.50 365.00C207.90 368.77 208.40 371.73 209.00 375.10C209.60 378.47 210.25 382.18 211.10 385.20C211.95 388.22 213.18 390.85 214.10 393.20C215.02 395.55 215.85 396.95 216.60 399.30C217.35 401.65 217.85 404.95 218.60 407.30C219.35 409.65 220.12 411.37 221.10 413.40C222.08 415.43 223.25 417.25 224.50 419.50C225.75 421.75 226.67 424.13 228.60 426.90C230.53 429.67 233.87 433.87 236.10 436.10C238.33 438.33 241.02 439.60 242.00 440.30" fill="none" stroke="#333" stroke-width="0.8"/>
<path d="M228.60 426.90C229.85 428.43 233.87 433.87 236.10 436.10C238.33 438.33 239.62 438.90 242.00 440.30C244.38 441.70 247.60 442.53 250.40 444.50C253.20 446.47 256.00 449.15 258.80 452.10C261.60 455.05 264.68 459.12 267.20 462.20C269.72 465.28 271.37 468.08 273.90 470.60C276.43 473.12 280.15 475.77 282.40 477.30C284.65 478.83 286.13 479.37 287.40 479.80C288.67 480.23 288.67 479.67 290.00 479.90C291.33 480.13 294.50 480.98 295.40 481.20" fill="none" stroke="#333" stroke-width="0.8"/>
<path d="M206.60 393.70C206.83 394.63 207.42 397.53 208.00 399.30C208.58 401.07 209.47 403.52 210.10 404.30C210.73 405.08 211.30 404.25 211.80 404.00C212.30 403.75 212.63 403.00 213.10 402.80C213.57 402.60 213.93 401.88 214.60 402.80C215.27 403.72 216.35 406.20 217.10 408.30C217.85 410.40 218.08 413.38 219.10 415.40C220.12 417.42 221.85 418.90 223.20 420.40C224.55 421.90 225.90 422.88 227.20 424.40C228.50 425.92 229.65 427.55 231.00 429.50C232.35 431.45 233.47 434.30 235.30 436.10C237.13 437.90 240.88 439.60 242.00 440.30" fill="none" stroke="#3ec43e" stroke-width="0.9"/>
<path d="M223.20 420.40C223.87 421.07 225.90 422.88 227.20 424.40C228.50 425.92 229.65 427.55 231.00 429.50C232.35 431.45 233.47 434.30 235.30 436.10C237.13 437.90 239.48 438.90 242.00 440.30C244.52 441.70 249.00 443.80 250.40 444.50" fill="none" stroke="#2f9f2f" stroke-width="0.9"/>
<polyline points="242.0,440.30 244.0,441.30 246.0,442.30 248.0,443.30 250.0,444.30 252.0,445.93 254.0,447.78 256.0,449.69 258.0,451.37 260.0,453.55 262.0,455.97 264.0,458.26 266.0,460.76 268.0,463.24 270.0,465.80 272.0,468.10 274.0,470.62 276.0,472.13 278.0,473.92 280.0,475.47 282.0,476.85 284.0,478.24 286.0,479.50 287.1,479.79 288.2,479.94 289.3,479.53 290.4,479.48 291.5,480.29 292.6,480.01 293.7,480.41 294.8,480.72 295.9,480.79 297.0,481.87 298.1,482.33 299.2,483.21 300.3,482.88 301.4,483.23 302.5,483.01 303.6,483.04 304.7,482.44 305.8,481.86 306.9,483.63 308.0,484.33 309.1,484.72 310.2,485.13 311.3,484.99 312.4,485.37 313.5,486.05 314.6,486.09 315.7,488.25 316.8,487.95 317.9,489.60 319.0,489.01 320.1,491.00 321.2,491.27 322.3,489.57 323.4,492.03 324.5,495.87 325.6,494.92 326.7,495.69 327.8,494.00 328.9,493.02 330.0,494.69 331.1,496.56 332.2,496.88 333.3,497.37 334.4,497.05 335.5,499.23 336.6,500.08 337.7,499.42 338.8,501.01 339.9,501.04 341.0,501.42 342.1,504.64 343.2,505.53 344.3,508.99 345.4,509.21 346.5,511.90 347.6,513.42 348.7,510.44 349.8,514.56 350.9,516.00 352.0,521.61 353.1,528.67 353.2,530.60" fill="none" stroke="#3ab43a" stroke-width="0.9" stroke-linejoin="round"/>
<path d="M206.70 352.50C206.80 353.58 207.08 356.75 207.30 359.00C207.52 361.25 207.63 362.98 208.00 366.00C208.37 369.02 209.07 373.57 209.50 377.10C209.93 380.63 210.17 384.02 210.60 387.20C211.03 390.38 211.68 393.18 212.10 396.20C212.52 399.22 212.68 402.60 213.10 405.30C213.52 408.00 214.02 409.72 214.60 412.40C215.18 415.08 215.95 418.15 216.60 421.40C217.25 424.65 217.35 427.07 218.50 431.90C219.65 436.73 221.82 444.80 223.50 450.40C225.18 456.00 226.92 460.73 228.60 465.50C230.28 470.27 231.65 473.38 233.60 479.00C235.55 484.62 238.07 493.20 240.30 499.20C242.53 505.20 244.88 510.20 247.00 515.00C249.12 519.80 251.07 524.07 253.00 528.00C254.93 531.93 257.67 536.83 258.60 538.60" fill="none" stroke="#ff5050" stroke-width="0.6"/>
<path d="M205.30 351.10h2.8v2.8h-2.8zM206.35 362.10h2.8v2.8h-2.8zM207.40 370.52h2.8v2.8h-2.8zM208.45 378.91h2.8v2.8h-2.8zM209.50 387.60h2.8v2.8h-2.8zM210.55 393.90h2.8v2.8h-2.8zM211.60 402.99h2.8v2.8h-2.8zM212.65 408.40h2.8v2.8h-2.8zM213.70 413.25h2.8v2.8h-2.8zM214.75 417.98h2.8v2.8h-2.8zM215.80 423.32h2.8v2.8h-2.8zM216.85 429.12h2.8v2.8h-2.8zM217.90 433.46h2.8v2.8h-2.8zM218.95 437.35h2.8v2.8h-2.8zM220.00 441.23h2.8v2.8h-2.8zM221.05 445.12h2.8v2.8h-2.8zM222.10 449.00h2.8v2.8h-2.8zM223.15 452.11h2.8v2.8h-2.8zM224.20 455.22h2.8v2.8h-2.8zM225.25 458.33h2.8v2.8h-2.8zM226.30 461.44h2.8v2.8h-2.8zM227.35 464.51h2.8v2.8h-2.8zM228.40 467.34h2.8v2.8h-2.8zM229.45 470.18h2.8v2.8h-2.8zM230.50 473.01h2.8v2.8h-2.8zM231.55 475.85h2.8v2.8h-2.8zM232.60 478.81h2.8v2.8h-2.8zM233.65 481.97h2.8v2.8h-2.8zM234.70 485.14h2.8v2.8h-2.8zM235.75 488.30h2.8v2.8h-2.8zM236.80 491.47h2.8v2.8h-2.8zM237.85 494.63h2.8v2.8h-2.8zM238.90 497.80h2.8v2.8h-2.8zM239.95 500.28h2.8v2.8h-2.8zM241.00 502.75h2.8v2.8h-2.8zM242.05 505.23h2.8v2.8h-2.8zM243.10 507.70h2.8v2.8h-2.8zM244.15 510.18h2.8v2.8h-2.8zM245.20 512.66h2.8v2.8h-2.8zM246.25 515.01h2.8v2.8h-2.8zM247.30 517.28h2.8v2.8h-2.8zM248.35 519.56h2.8v2.8h-2.8zM249.40 521.83h2.8v2.8h-2.8zM250.45 524.11h2.8v2.8h-2.8zM251.50 526.38h2.8v2.8h-2.8zM252.55 528.40h2.8v2.8h-2.8zM253.60 530.39h2.8v2.8h-2.8zM254.65 532.37h2.8v2.8h-2.8zM255.70 534.36h2.8v2.8h-2.8zM256.75 536.35h2.8v2.8h-2.8z" fill="none" stroke="#ff4848" stroke-width="0.7" stroke-opacity="0.8"/>
<path d="M212.7 539.5v-2.2M212.7 325.5v2.2M218.9 539.5v-2.2M218.9 325.5v2.2M225.1 539.5v-2.2M225.1 325.5v2.2M231.3 539.5v-2.2M231.3 325.5v2.2M237.5 539.5v-4.3M237.5 325.5v4.3M243.7 539.5v-2.2M243.7 325.5v2.2M249.9 539.5v-2.2M249.9 325.5v2.2M256.1 539.5v-2.2M256.1 325.5v2.2M262.3 539.5v-2.2M262.3 325.5v2.2M268.5 539.5v-4.3M268.5 325.5v4.3M274.7 539.5v-2.2M274.7 325.5v2.2M280.9 539.5v-2.2M280.9 325.5v2.2M287.1 539.5v-2.2M287.1 325.5v2.2M293.3 539.5v-2.2M293.3 325.5v2.2M299.5 539.5v-4.3M299.5 325.5v4.3M305.7 539.5v-2.2M305.7 325.5v2.2M311.9 539.5v-2.2M311.9 325.5v2.2M318.1 539.5v-2.2M318.1 325.5v2.2M324.3 539.5v-2.2M324.3 325.5v2.2M330.5 539.5v-4.3M330.5 325.5v4.3M336.7 539.5v-2.2M336.7 325.5v2.2M342.9 539.5v-2.2M342.9 325.5v2.2M349.1 539.5v-2.2M349.1 325.5v2.2M355.3 539.5v-2.2M355.3 325.5v2.2M206.5 526.62h1.6M361.5 526.62h-1.6M206.5 519.08h1.6M361.5 519.08h-1.6M206.5 513.73h1.6M361.5 513.73h-1.6M206.5 509.58h1.6M361.5 509.58h-1.6M206.5 506.2h1.6M361.5 506.2h-1.6M206.5 503.33h1.6M361.5 503.33h-1.6M206.5 500.85h1.6M361.5 500.85h-1.6M206.5 498.66h1.6M361.5 498.66h-1.6M206.5 483.82h1.6M361.5 483.82h-1.6M206.5 476.28h1.6M361.5 476.28h-1.6M206.5 470.93h1.6M361.5 470.93h-1.6M206.5 466.78h1.6M361.5 466.78h-1.6M206.5 463.4h1.6M361.5 463.4h-1.6M206.5 460.53h1.6M361.5 460.53h-1.6M206.5 458.05h1.6M361.5 458.05h-1.6M206.5 455.86h1.6M361.5 455.86h-1.6M206.5 441.02h1.6M361.5 441.02h-1.6M206.5 433.48h1.6M361.5 433.48h-1.6M206.5 428.13h1.6M361.5 428.13h-1.6M206.5 423.98h1.6M361.5 423.98h-1.6M206.5 420.6h1.6M361.5 420.6h-1.6M206.5 417.73h1.6M361.5 417.73h-1.6M206.5 415.25h1.6M361.5 415.25h-1.6M206.5 413.06h1.6M361.5 413.06h-1.6M206.5 398.22h1.6M361.5 398.22h-1.6M206.5 390.68h1.6M361.5 390.68h-1.6M206.5 385.33h1.6M361.5 385.33h-1.6M206.5 381.18h1.6M361.5 381.18h-1.6M206.5 377.8h1.6M361.5 377.8h-1.6M206.5 374.93h1.6M361.5 374.93h-1.6M206.5 372.45h1.6M361.5 372.45h-1.6M206.5 370.26h1.6M361.5 370.26h-1.6M206.5 355.42h1.6M361.5 355.42h-1.6M206.5 347.88h1.6M361.5 347.88h-1.6M206.5 342.53h1.6M361.5 342.53h-1.6M206.5 338.38h1.6M361.5 338.38h-1.6M206.5 335h1.6M361.5 335h-1.6M206.5 332.13h1.6M361.5 332.13h-1.6M206.5 329.65h1.6M361.5 329.65h-1.6M206.5 327.46h1.6M361.5 327.46h-1.6M206.5 496.7h3.1M361.5 496.7h-3.1M206.5 453.9h3.1M361.5 453.9h-3.1M206.5 411.1h3.1M361.5 411.1h-3.1M206.5 368.3h3.1M361.5 368.3h-3.1" stroke="#000" stroke-opacity="0.34" stroke-width="1" fill="none"/>
<rect x="206.5" y="325.5" width="155" height="214" fill="none" stroke="#000" stroke-opacity="0.34" stroke-width="1"/>
<path d="M422.00 335.50C422.17 334.88 422.53 332.68 423.00 331.80C423.47 330.92 424.12 330.58 424.80 330.20C425.48 329.82 426.30 329.50 427.10 329.50C427.90 329.50 428.87 329.73 429.60 330.20C430.33 330.67 430.90 331.48 431.50 332.30C432.10 333.12 432.08 333.45 433.20 335.10C434.32 336.75 436.37 340.02 438.20 342.20C440.03 344.38 442.18 346.35 444.20 348.20C446.22 350.05 448.45 351.87 450.30 353.30C452.15 354.73 453.68 355.87 455.30 356.80C456.92 357.73 458.13 358.33 460.00 358.90C461.87 359.47 464.32 359.68 466.50 360.20C468.68 360.72 470.92 361.08 473.10 362.00C475.28 362.92 477.43 364.22 479.60 365.70C481.77 367.18 483.92 369.17 486.10 370.90C488.28 372.63 490.52 374.53 492.70 376.10C494.88 377.67 497.03 379.03 499.20 380.30C501.37 381.57 503.52 382.65 505.70 383.70C507.88 384.75 510.12 385.80 512.30 386.60C514.48 387.40 516.63 387.80 518.80 388.50C520.97 389.20 523.13 390.03 525.30 390.80C527.47 391.57 529.62 392.38 531.80 393.10C533.98 393.82 536.22 394.40 538.40 395.10C540.58 395.80 542.73 396.58 544.90 397.30C547.07 398.02 549.22 398.68 551.40 399.40C553.58 400.12 555.70 400.95 558.00 401.60C560.30 402.25 564.00 403.02 565.20 403.30" fill="none" stroke="#333" stroke-width="0.8"/>
<path d="M418.80 530.20C419.22 526.62 420.47 515.23 421.30 508.70C422.13 502.17 422.95 497.32 423.80 491.00C424.65 484.68 425.55 476.68 426.40 470.80C427.25 464.92 428.07 460.33 428.90 455.70C429.73 451.07 430.35 447.22 431.40 443.00C432.45 438.78 433.72 434.18 435.20 430.40C436.68 426.62 438.62 423.03 440.30 420.30C441.98 417.57 443.20 416.10 445.30 414.00C447.40 411.90 450.45 409.55 452.90 407.70C455.35 405.85 457.73 404.35 460.00 402.90C462.27 401.45 464.32 400.23 466.50 399.00C468.68 397.77 470.70 396.08 473.10 395.50C475.50 394.92 478.73 395.13 480.90 395.50C483.07 395.87 484.13 396.80 486.10 397.70C488.07 398.60 490.52 399.92 492.70 400.90C494.88 401.88 497.03 402.77 499.20 403.60C501.37 404.43 503.52 405.22 505.70 405.90C507.88 406.58 510.12 407.12 512.30 407.70C514.48 408.28 516.63 408.90 518.80 409.40C520.97 409.90 523.13 410.27 525.30 410.70C527.47 411.13 529.62 411.55 531.80 412.00C533.98 412.45 536.22 412.95 538.40 413.40C540.58 413.85 542.73 414.23 544.90 414.70C547.07 415.17 549.22 415.67 551.40 416.20C553.58 416.73 555.70 417.35 558.00 417.90C560.30 418.45 564.00 419.23 565.20 419.50" fill="none" stroke="#4ee84e" stroke-width="0.9"/>
<path d="M418.80 530.20C419.22 526.62 420.47 515.23 421.30 508.70C422.13 502.17 422.95 497.32 423.80 491.00C424.65 484.68 425.55 476.68 426.40 470.80C427.25 464.92 428.07 460.33 428.90 455.70C429.73 451.07 430.35 447.22 431.40 443.00C432.45 438.78 433.72 434.18 435.20 430.40C436.68 426.62 438.62 423.03 440.30 420.30C441.98 417.57 443.20 416.10 445.30 414.00C447.40 411.90 450.45 409.55 452.90 407.70C455.35 405.85 457.73 404.35 460.00 402.90C462.27 401.45 464.32 400.23 466.50 399.00C468.68 397.77 470.70 396.08 473.10 395.50C475.50 394.92 478.73 395.13 480.90 395.50C483.07 395.87 484.13 396.80 486.10 397.70C488.07 398.60 490.52 399.92 492.70 400.90C494.88 401.88 497.03 402.77 499.20 403.60C501.37 404.43 503.52 405.22 505.70 405.90C507.88 406.58 510.12 407.12 512.30 407.70C514.48 408.28 516.63 408.90 518.80 409.40C520.97 409.90 523.13 410.27 525.30 410.70C527.47 411.13 529.62 411.55 531.80 412.00C533.98 412.45 536.22 412.95 538.40 413.40C540.58 413.85 542.73 414.23 544.90 414.70C547.07 415.17 549.22 415.67 551.40 416.20C553.58 416.73 555.70 417.35 558.00 417.90C560.30 418.45 564.00 419.23 565.20 419.50" fill="none" stroke="#2a6a2a" stroke-width="0.9" stroke-dasharray="5 4"/>
<path d="M418.00 419.60h3.2v3.2h-3.2zM419.25 364.30h3.2v3.2h-3.2zM420.50 342.90h3.2v3.2h-3.2zM421.75 335.55h3.2v3.2h-3.2zM423.00 334.75h3.2v3.2h-3.2zM424.25 337.36h3.2v3.2h-3.2zM425.50 341.73h3.2v3.2h-3.2zM426.75 346.23h3.2v3.2h-3.2zM428.00 349.39h3.2v3.2h-3.2zM429.25 352.54h3.2v3.2h-3.2zM430.50 355.70h3.2v3.2h-3.2zM431.75 359.73h3.2v3.2h-3.2zM433.00 363.76h3.2v3.2h-3.2zM434.25 367.79h3.2v3.2h-3.2zM435.50 371.79h3.2v3.2h-3.2zM436.75 375.37h3.2v3.2h-3.2zM438.00 378.95h3.2v3.2h-3.2zM439.25 382.25h3.2v3.2h-3.2zM440.50 385.42h3.2v3.2h-3.2zM441.75 388.51h3.2v3.2h-3.2zM443.00 391.38h3.2v3.2h-3.2zM444.25 394.25h3.2v3.2h-3.2zM445.50 396.87h3.2v3.2h-3.2zM446.75 399.46h3.2v3.2h-3.2zM448.00 401.90h3.2v3.2h-3.2zM449.25 404.19h3.2v3.2h-3.2zM450.50 406.47h3.2v3.2h-3.2zM451.75 408.60h3.2v3.2h-3.2zM453.00 410.72h3.2v3.2h-3.2zM454.25 412.68h3.2v3.2h-3.2zM455.50 414.55h3.2v3.2h-3.2zM456.75 416.39h3.2v3.2h-3.2zM458.00 418.14h3.2v3.2h-3.2zM459.25 419.89h3.2v3.2h-3.2zM460.50 421.49h3.2v3.2h-3.2zM461.75 423.08h3.2v3.2h-3.2zM463.00 424.60h3.2v3.2h-3.2zM464.25 426.06h3.2v3.2h-3.2zM465.50 427.51h3.2v3.2h-3.2zM466.75 428.84h3.2v3.2h-3.2zM468.00 430.17h3.2v3.2h-3.2zM469.25 431.42h3.2v3.2h-3.2zM470.50 432.63h3.2v3.2h-3.2zM471.75 433.83h3.2v3.2h-3.2zM473.00 434.99h3.2v3.2h-3.2zM474.25 436.16h3.2v3.2h-3.2zM475.50 437.22h3.2v3.2h-3.2zM476.75 438.26h3.2v3.2h-3.2zM478.00 439.28h3.2v3.2h-3.2zM479.25 440.28h3.2v3.2h-3.2zM480.50 441.27h3.2v3.2h-3.2zM481.75 442.19h3.2v3.2h-3.2zM483.00 443.11h3.2v3.2h-3.2zM484.25 444.00h3.2v3.2h-3.2zM485.50 444.87h3.2v3.2h-3.2zM486.75 445.72h3.2v3.2h-3.2zM488.00 446.51h3.2v3.2h-3.2zM489.25 447.31h3.2v3.2h-3.2zM490.50 448.06h3.2v3.2h-3.2zM491.75 448.81h3.2v3.2h-3.2zM493.00 449.56h3.2v3.2h-3.2zM494.25 450.31h3.2v3.2h-3.2zM495.50 451.05h3.2v3.2h-3.2zM496.75 451.72h3.2v3.2h-3.2zM498.00 452.39h3.2v3.2h-3.2zM499.25 453.02h3.2v3.2h-3.2zM500.50 453.65h3.2v3.2h-3.2zM501.75 454.26h3.2v3.2h-3.2zM503.00 454.85h3.2v3.2h-3.2zM504.25 455.43h3.2v3.2h-3.2zM505.50 456.01h3.2v3.2h-3.2zM506.75 456.60h3.2v3.2h-3.2zM508.00 457.16h3.2v3.2h-3.2zM509.25 457.70h3.2v3.2h-3.2zM510.50 458.24h3.2v3.2h-3.2zM511.75 458.74h3.2v3.2h-3.2zM513.00 459.24h3.2v3.2h-3.2zM514.25 459.74h3.2v3.2h-3.2zM515.50 460.24h3.2v3.2h-3.2zM516.75 460.73h3.2v3.2h-3.2zM518.00 461.19h3.2v3.2h-3.2zM519.25 461.64h3.2v3.2h-3.2zM520.50 462.10h3.2v3.2h-3.2zM521.75 462.56h3.2v3.2h-3.2zM523.00 463.00h3.2v3.2h-3.2zM524.25 463.42h3.2v3.2h-3.2zM525.50 463.83h3.2v3.2h-3.2zM526.75 464.20h3.2v3.2h-3.2zM528.00 464.58h3.2v3.2h-3.2zM529.25 464.98h3.2v3.2h-3.2zM530.50 465.40h3.2v3.2h-3.2zM531.75 465.79h3.2v3.2h-3.2zM533.00 466.13h3.2v3.2h-3.2zM534.25 466.46h3.2v3.2h-3.2zM535.50 466.83h3.2v3.2h-3.2zM536.75 467.20h3.2v3.2h-3.2zM538.00 467.56h3.2v3.2h-3.2zM539.25 467.89h3.2v3.2h-3.2zM540.50 468.23h3.2v3.2h-3.2zM541.75 468.56h3.2v3.2h-3.2zM543.00 468.89h3.2v3.2h-3.2zM544.25 469.23h3.2v3.2h-3.2zM545.50 469.56h3.2v3.2h-3.2zM546.75 469.88h3.2v3.2h-3.2zM548.00 470.17h3.2v3.2h-3.2zM549.25 470.46h3.2v3.2h-3.2zM550.50 470.76h3.2v3.2h-3.2zM551.75 471.05h3.2v3.2h-3.2zM553.00 471.34h3.2v3.2h-3.2zM554.25 471.63h3.2v3.2h-3.2zM555.50 471.92h3.2v3.2h-3.2zM556.75 472.21h3.2v3.2h-3.2zM558.00 472.51h3.2v3.2h-3.2zM559.25 472.77h3.2v3.2h-3.2zM560.50 473.02h3.2v3.2h-3.2zM561.75 473.27h3.2v3.2h-3.2zM563.00 473.52h3.2v3.2h-3.2zM564.25 473.77h3.2v3.2h-3.2z" fill="none" stroke="#ff5050" stroke-width="0.7" stroke-opacity="0.8"/>
<path d="M419.60 421.20C419.63 418.50 419.73 410.20 419.80 405.00C419.87 399.80 419.88 395.00 420.00 390.00C420.12 385.00 420.33 379.67 420.50 375.00C420.67 370.33 420.82 365.83 421.00 362.00C421.18 358.17 421.40 355.17 421.60 352.00C421.80 348.83 421.95 345.42 422.20 343.00C422.45 340.58 422.78 338.65 423.10 337.50C423.42 336.35 423.77 336.25 424.10 336.10C424.43 335.95 424.70 335.78 425.10 336.60C425.50 337.42 426.00 339.23 426.50 341.00C427.00 342.77 427.17 344.48 428.10 347.20C429.03 349.92 430.62 352.98 432.10 357.30C433.58 361.62 435.68 369.03 437.00 373.10C438.32 377.17 439.00 379.00 440.00 381.70C441.00 384.40 442.00 386.88 443.00 389.30C444.00 391.72 445.00 394.02 446.00 396.20C447.00 398.38 448.00 400.45 449.00 402.40C450.00 404.35 451.00 406.13 452.00 407.90C453.00 409.67 454.00 411.40 455.00 413.00C456.00 414.60 457.00 416.05 458.00 417.50C459.00 418.95 460.00 420.37 461.00 421.70C462.00 423.03 463.00 424.28 464.00 425.50C465.00 426.72 466.00 427.88 467.00 429.00C468.00 430.12 469.00 431.18 470.00 432.20C471.00 433.22 472.00 434.15 473.00 435.10C474.00 436.05 475.00 437.02 476.00 437.90C477.00 438.78 478.00 439.58 479.00 440.40C480.00 441.22 481.00 442.03 482.00 442.80C483.00 443.57 484.00 444.28 485.00 445.00C486.00 445.72 487.00 446.43 488.00 447.10C489.00 447.77 490.00 448.38 491.00 449.00C492.00 449.62 493.00 450.20 494.00 450.80C495.00 451.40 496.00 452.03 497.00 452.60C498.00 453.17 499.00 453.68 500.00 454.20C501.00 454.72 502.00 455.22 503.00 455.70C504.00 456.18 505.00 456.63 506.00 457.10C507.00 457.57 508.00 458.05 509.00 458.50C510.00 458.95 511.00 459.38 512.00 459.80C513.00 460.22 514.00 460.60 515.00 461.00C516.00 461.40 517.00 461.82 518.00 462.20C519.00 462.58 520.00 462.93 521.00 463.30C522.00 463.67 523.00 464.05 524.00 464.40C525.00 464.75 526.00 465.08 527.00 465.40C528.00 465.72 529.00 465.98 530.00 466.30C531.00 466.62 532.00 467.00 533.00 467.30C534.00 467.60 535.00 467.82 536.00 468.10C537.00 468.38 538.00 468.72 539.00 469.00C540.00 469.28 541.00 469.53 542.00 469.80C543.00 470.07 544.00 470.33 545.00 470.60C546.00 470.87 547.00 471.15 548.00 471.40C549.00 471.65 550.00 471.87 551.00 472.10C552.00 472.33 553.00 472.57 554.00 472.80C555.00 473.03 556.00 473.27 557.00 473.50C558.00 473.73 559.00 473.98 560.00 474.20C561.00 474.42 562.00 474.60 563.00 474.80C564.00 475.00 565.38 475.27 566.00 475.40C566.62 475.53 566.58 475.57 566.70 475.60" fill="none" stroke="#ff1010" stroke-width="1.0"/>
<path d="M424.7 539.5v-2.2M424.7 325.5v2.2M430.9 539.5v-2.2M430.9 325.5v2.2M437.1 539.5v-2.2M437.1 325.5v2.2M443.3 539.5v-2.2M443.3 325.5v2.2M449.5 539.5v-4.3M449.5 325.5v4.3M455.7 539.5v-2.2M455.7 325.5v2.2M461.9 539.5v-2.2M461.9 325.5v2.2M468.1 539.5v-2.2M468.1 325.5v2.2M474.3 539.5v-2.2M474.3 325.5v2.2M480.5 539.5v-4.3M480.5 325.5v4.3M486.7 539.5v-2.2M486.7 325.5v2.2M492.9 539.5v-2.2M492.9 325.5v2.2M499.1 539.5v-2.2M499.1 325.5v2.2M505.3 539.5v-2.2M505.3 325.5v2.2M511.5 539.5v-4.3M511.5 325.5v4.3M517.7 539.5v-2.2M517.7 325.5v2.2M523.9 539.5v-2.2M523.9 325.5v2.2M530.1 539.5v-2.2M530.1 325.5v2.2M536.3 539.5v-2.2M536.3 325.5v2.2M542.5 539.5v-4.3M542.5 325.5v4.3M548.7 539.5v-2.2M548.7 325.5v2.2M554.9 539.5v-2.2M554.9 325.5v2.2M561.1 539.5v-2.2M561.1 325.5v2.2M567.3 539.5v-2.2M567.3 325.5v2.2M418.5 530.58h1.6M573.5 530.58h-1.6M418.5 521.67h1.6M573.5 521.67h-1.6M418.5 512.75h1.6M573.5 512.75h-1.6M418.5 503.83h3.1M573.5 503.83h-3.1M418.5 494.92h1.6M573.5 494.92h-1.6M418.5 486h1.6M573.5 486h-1.6M418.5 477.08h1.6M573.5 477.08h-1.6M418.5 468.17h3.1M573.5 468.17h-3.1M418.5 459.25h1.6M573.5 459.25h-1.6M418.5 450.33h1.6M573.5 450.33h-1.6M418.5 441.42h1.6M573.5 441.42h-1.6M418.5 432.5h3.1M573.5 432.5h-3.1M418.5 423.58h1.6M573.5 423.58h-1.6M418.5 414.67h1.6M573.5 414.67h-1.6M418.5 405.75h1.6M573.5 405.75h-1.6M418.5 396.83h3.1M573.5 396.83h-3.1M418.5 387.92h1.6M573.5 387.92h-1.6M418.5 379h1.6M573.5 379h-1.6M418.5 370.08h1.6M573.5 370.08h-1.6M418.5 361.17h3.1M573.5 361.17h-3.1M418.5 352.25h1.6M573.5 352.25h-1.6M418.5 343.33h1.6M573.5 343.33h-1.6M418.5 334.42h1.6M573.5 334.42h-1.6" stroke="#000" stroke-opacity="0.34" stroke-width="1" fill="none"/>
<rect x="418.5" y="325.5" width="155" height="214" fill="none" stroke="#000" stroke-opacity="0.34" stroke-width="1"/>
<polyline points="631.4,537.10 632.4,535.62 633.4,534.14 634.4,533.02 635.4,532.06 636.4,531.09 637.4,530.90 638.4,530.90 639.4,531.51 640.4,532.19 641.4,532.77 642.4,532.51 643.4,532.25 644.4,531.98 645.4,531.55 646.4,530.73 647.4,529.90 648.4,529.08 649.4,528.25 650.4,527.43 651.4,526.59 652.4,525.75 653.4,524.91 654.4,524.07 655.4,523.23 656.4,522.38 657.4,521.67 658.4,520.97 659.4,520.27 660.4,519.56 661.4,518.86 662.4,518.16 663.4,517.45 664.4,516.73 665.4,516.00 666.4,515.27 667.4,514.55 668.4,513.82 669.4,513.09 670.4,512.56 671.4,512.15 672.4,511.75 673.4,511.35 674.4,510.94 675.4,510.54 676.4,510.36 677.4,510.20 678.4,510.04 679.4,509.88 680.4,509.73 681.4,509.65 682.4,509.88 683.4,510.12 684.4,510.36 685.4,510.67 686.4,511.11 687.4,511.54 688.4,511.98 689.4,512.41 690.4,512.84 691.4,513.28 692.4,513.71 693.4,514.09 694.4,514.46 695.4,514.83 696.4,515.20 697.4,515.57 698.4,515.94 699.4,516.31 700.4,516.67 701.4,517.03 702.4,517.39 703.4,517.75 704.4,518.10 705.4,518.46 706.4,518.82 707.4,519.18 708.4,519.53 709.4,519.89 710.4,520.20 711.4,520.48 712.4,520.77 713.4,521.05 714.4,521.34 715.4,521.62 716.4,521.90 717.4,522.19 718.4,522.47 719.4,522.75 720.4,523.02 721.4,523.28 722.4,523.54 723.4,523.83 724.4,524.15 725.4,524.49 726.4,524.86 727.4,525.25 728.4,525.66 729.4,526.11 730.4,526.58 731.4,527.05 732.4,527.53 733.4,528.00 734.4,528.46 735.4,528.91 736.4,529.34 737.4,529.75 738.4,530.11 739.4,530.41 740.4,530.66 741.4,530.88 742.4,531.01 743.4,531.06 744.4,531.08 745.4,531.08 746.4,531.07 747.4,531.04 748.4,530.98 749.4,530.89 750.4,530.80 751.4,530.72 752.4,530.63 753.4,530.56 754.4,530.49 755.4,530.44 756.4,530.40 757.4,530.38 758.4,530.35 759.4,530.34 760.4,530.36 761.4,530.41 762.4,530.54 763.4,530.80 764.4,531.08 765.4,531.40 766.4,531.74 767.4,532.06 768.4,532.38 769.4,532.71 770.4,533.03 771.4,533.35 772.4,533.66 773.4,533.95 774.4,534.22 775.4,534.46 776.4,534.65 777.4,534.84 778.1,534.97" fill="none" stroke="#000" stroke-width="0.9"/>
<polyline points="631.4,537.10 632.4,535.62 633.4,534.14 634.4,533.02 635.4,532.06 636.4,531.09 637.4,530.90 638.4,530.90 639.4,531.51 640.4,532.19 641.4,532.77 642.4,532.51 643.4,532.25 644.4,531.98 645.4,531.55 646.4,530.73 647.4,529.90 648.4,529.08 649.4,528.25 650.4,527.43 651.4,526.59 652.4,525.75 653.4,524.91 654.4,524.07 655.4,523.23 656.4,522.38 657.4,521.67 658.4,520.97 659.4,520.27 660.4,519.56 661.4,518.86 662.4,518.16 663.4,517.45 664.4,516.73 665.4,516.00 666.4,515.27 667.4,514.55 668.4,513.82 669.4,513.09 670.4,512.56 671.4,512.15 672.4,511.75 673.4,511.35 674.4,510.94 675.4,510.54 676.4,510.36 677.4,510.20 678.4,510.04 679.4,509.88 680.4,509.73 681.4,509.65 682.4,509.88 683.4,510.12 684.4,510.36 685.4,510.67 686.4,511.11 687.4,511.54 688.4,511.98 689.4,512.41 690.4,512.84 691.4,513.28 692.4,513.71 693.4,514.09 694.4,514.46 695.4,514.83 696.4,515.20 697.4,515.57 698.4,515.94 699.4,516.31 700.4,516.67 701.4,517.03 702.4,517.39 703.4,517.75 704.4,518.10 705.4,518.46 706.4,518.82 707.4,519.18 708.4,519.53 709.4,519.89 710.4,520.20 711.4,520.48 712.4,520.77 713.4,521.05 714.4,521.34 715.4,521.62 716.4,521.90 717.4,522.19 718.4,522.47 719.4,522.75 720.4,523.02 721.4,523.28 722.4,523.59 723.4,523.95 724.4,524.29 725.4,524.60 726.4,524.90 727.4,525.16 728.4,525.39 729.4,525.62 730.4,525.82 731.4,525.99 732.4,526.14 733.4,526.25 734.4,526.35 735.4,526.42 736.4,526.48 737.4,526.52 738.4,526.55 739.4,526.53 740.4,526.52 741.4,526.51 742.4,526.57 743.4,526.73 744.4,526.92 745.4,527.14 746.4,527.40 747.4,527.68 748.4,527.97 749.4,528.28 750.4,528.61 751.4,528.98 752.4,529.37 753.4,529.78 754.4,530.21 755.4,530.66 756.4,531.12 757.4,531.59 758.4,532.03 759.4,532.48 760.4,532.92 761.4,533.37 762.4,533.79 763.4,534.15 764.4,534.47 765.4,534.75 766.4,534.99 767.4,535.16 768.4,535.28 769.4,535.36 770.4,535.41 771.4,535.43 772.4,535.43 773.4,535.42 774.4,535.39 775.4,535.35 776.4,535.43 777.4,535.52 778.1,535.58" fill="none" stroke="#000" stroke-width="0.9"/>
<polyline points="631.4,537.10 632.4,535.62 633.4,534.14 634.4,533.02 635.4,532.06 636.4,531.09 637.4,530.90 638.4,530.90 639.4,531.51 640.4,532.19 641.4,532.77 642.4,532.51 643.4,532.25 644.4,531.98 645.4,531.55 646.4,530.73 647.4,529.90 648.4,529.08 649.4,528.25 650.4,527.43 651.4,526.59 652.4,525.75 653.4,524.91 654.4,524.07 655.4,523.23 656.4,522.38 657.4,521.67 658.4,520.97 659.4,520.27 660.4,519.56 661.4,518.86 662.4,518.16 663.4,517.45 664.4,516.73 665.4,516.00 666.4,515.27 667.4,514.55 668.4,513.82 669.4,513.09 670.4,512.56 671.4,512.15 672.4,511.75 673.4,511.35 674.4,510.94 675.4,510.54 676.4,510.36 677.4,510.20 678.4,510.04 679.4,509.88 680.4,509.73 681.4,509.65 682.4,509.88 683.4,510.12 684.4,510.36 685.4,510.67 686.4,511.11 687.4,511.54 688.4,511.98 689.4,512.41 690.4,512.84 691.4,513.28 692.4,513.71 693.4,514.09 694.4,514.46 695.4,514.83 696.4,515.20 697.4,515.57 698.4,515.94 699.4,516.31 700.4,516.67 701.4,517.03 702.4,517.39 703.4,517.75 704.4,518.10 705.4,518.46 706.4,518.82 707.4,519.18 708.4,519.53 709.4,519.89 710.4,520.20 711.4,520.48 712.4,520.77 713.4,521.05 714.4,521.34 715.4,521.62 716.4,521.90 717.4,522.19 718.4,522.47 719.4,522.75 720.4,523.02 721.4,523.28 722.4,523.50 723.4,523.63 724.4,523.77 725.4,523.89 726.4,524.02 727.4,524.16 728.4,524.31 729.4,524.49 730.4,524.70 731.4,524.94 732.4,525.21 733.4,525.51 734.4,525.83 735.4,526.20 736.4,526.60 737.4,527.04 738.4,527.50 739.4,527.95 740.4,528.44 741.4,528.96 742.4,529.49 743.4,530.01 744.4,530.53 745.4,531.03 746.4,531.51 747.4,531.98 748.4,532.39 749.4,532.77 750.4,533.12 751.4,533.45 752.4,533.74 753.4,534.00 754.4,534.24 755.4,534.44 756.4,534.60 757.4,534.73 758.4,534.79 759.4,534.83 760.4,534.83 761.4,534.81 762.4,534.73 763.4,534.58 764.4,534.44 765.4,534.32 766.4,534.22 767.4,534.11 768.4,534.01 769.4,533.94 770.4,533.91 771.4,533.91 772.4,533.95 773.4,534.02 774.4,534.12 775.4,534.26 776.4,534.33 777.4,534.40 778.1,534.45" fill="none" stroke="#000" stroke-width="0.9"/>
<path d="M631.40 537.10C631.78 536.53 632.83 534.73 633.70 533.70C634.57 532.67 635.80 531.37 636.60 530.90C637.40 530.43 637.72 530.58 638.50 530.90C639.28 531.22 640.20 532.65 641.30 532.80C642.40 532.95 643.52 532.75 645.10 531.80C646.68 530.85 648.90 528.68 650.80 527.10C652.70 525.52 654.43 523.88 656.50 522.30C658.57 520.72 660.98 519.18 663.20 517.60C665.42 516.02 667.75 513.98 669.80 512.80C671.85 511.62 673.60 511.03 675.50 510.50C677.40 509.97 679.62 509.60 681.20 509.60C682.78 509.60 683.10 509.80 685.00 510.50C686.90 511.20 690.07 512.78 692.60 513.80C695.13 514.82 697.35 515.57 700.20 516.60C703.05 517.63 706.53 518.98 709.70 520.00C712.87 521.02 716.03 521.83 719.20 522.70C722.37 523.57 725.53 524.32 728.70 525.20C731.87 526.08 736.62 527.53 738.20 528.00" fill="none" stroke="#000" stroke-width="1.9"/>
<path d="M757.20 532.20C758.78 532.45 763.22 533.23 766.70 533.70C770.18 534.17 776.20 534.78 778.10 535.00" fill="none" stroke="#000" stroke-width="1.6"/>
<line x1="766" y1="530.3" x2="772" y2="530.3" stroke="#000" stroke-width="0.7" />
<path d="M637.7 539.5v-2.2M637.7 325.5v2.2M643.9 539.5v-2.2M643.9 325.5v2.2M650.1 539.5v-2.2M650.1 325.5v2.2M656.3 539.5v-2.2M656.3 325.5v2.2M662.5 539.5v-4.3M662.5 325.5v4.3M668.7 539.5v-2.2M668.7 325.5v2.2M674.9 539.5v-2.2M674.9 325.5v2.2M681.1 539.5v-2.2M681.1 325.5v2.2M687.3 539.5v-2.2M687.3 325.5v2.2M693.5 539.5v-4.3M693.5 325.5v4.3M699.7 539.5v-2.2M699.7 325.5v2.2M705.9 539.5v-2.2M705.9 325.5v2.2M712.1 539.5v-2.2M712.1 325.5v2.2M718.3 539.5v-2.2M718.3 325.5v2.2M724.5 539.5v-4.3M724.5 325.5v4.3M730.7 539.5v-2.2M730.7 325.5v2.2M736.9 539.5v-2.2M736.9 325.5v2.2M743.1 539.5v-2.2M743.1 325.5v2.2M749.3 539.5v-2.2M749.3 325.5v2.2M755.5 539.5v-4.3M755.5 325.5v4.3M761.7 539.5v-2.2M761.7 325.5v2.2M767.9 539.5v-2.2M767.9 325.5v2.2M774.1 539.5v-2.2M774.1 325.5v2.2M780.3 539.5v-2.2M780.3 325.5v2.2M631.5 528.8h1.6M786.5 528.8h-1.6M631.5 518.1h1.6M786.5 518.1h-1.6M631.5 507.4h1.6M786.5 507.4h-1.6M631.5 496.7h3.1M786.5 496.7h-3.1M631.5 486h1.6M786.5 486h-1.6M631.5 475.3h1.6M786.5 475.3h-1.6M631.5 464.6h1.6M786.5 464.6h-1.6M631.5 453.9h3.1M786.5 453.9h-3.1M631.5 443.2h1.6M786.5 443.2h-1.6M631.5 432.5h1.6M786.5 432.5h-1.6M631.5 421.8h1.6M786.5 421.8h-1.6M631.5 411.1h3.1M786.5 411.1h-3.1M631.5 400.4h1.6M786.5 400.4h-1.6M631.5 389.7h1.6M786.5 389.7h-1.6M631.5 379h1.6M786.5 379h-1.6M631.5 368.3h3.1M786.5 368.3h-3.1M631.5 357.6h1.6M786.5 357.6h-1.6M631.5 346.9h1.6M786.5 346.9h-1.6M631.5 336.2h1.6M786.5 336.2h-1.6" stroke="#000" stroke-opacity="0.34" stroke-width="1" fill="none"/>
<rect x="631.5" y="325.5" width="155" height="214" fill="none" stroke="#000" stroke-opacity="0.34" stroke-width="1"/>
<text x="173.90" y="331.40" font-size="8.8" textLength="29.28" lengthAdjust="spacingAndGlyphs">10000.0</text>
<text x="178.40" y="371.30" font-size="8.8" textLength="24.78" lengthAdjust="spacingAndGlyphs">1000.0</text>
<text x="182.93" y="414.10" font-size="8.8" textLength="20.27" lengthAdjust="spacingAndGlyphs">100.0</text>
<text x="187.43" y="456.90" font-size="8.8" textLength="15.77" lengthAdjust="spacingAndGlyphs">10.0</text>
<text x="191.92" y="499.70" font-size="8.8" textLength="11.26" lengthAdjust="spacingAndGlyphs">1.0</text>
<text x="192.01" y="539.50" font-size="8.8" textLength="11.26" lengthAdjust="spacingAndGlyphs">0.1</text>
<text x="411.89" y="539.50" font-size="8.8" textLength="4.50" lengthAdjust="spacingAndGlyphs">0</text>
<text x="407.39" y="506.83" font-size="8.8" textLength="9.01" lengthAdjust="spacingAndGlyphs">20</text>
<text x="407.39" y="471.17" font-size="8.8" textLength="9.01" lengthAdjust="spacingAndGlyphs">40</text>
<text x="407.39" y="435.50" font-size="8.8" textLength="9.01" lengthAdjust="spacingAndGlyphs">60</text>
<text x="407.39" y="399.83" font-size="8.8" textLength="9.01" lengthAdjust="spacingAndGlyphs">80</text>
<text x="402.90" y="364.17" font-size="8.8" textLength="13.51" lengthAdjust="spacingAndGlyphs">100</text>
<text x="402.90" y="331.40" font-size="8.8" textLength="13.51" lengthAdjust="spacingAndGlyphs">120</text>
<text x="617.32" y="539.50" font-size="8.8" textLength="11.26" lengthAdjust="spacingAndGlyphs">0.0</text>
<text x="617.45" y="499.70" font-size="8.8" textLength="11.26" lengthAdjust="spacingAndGlyphs">0.2</text>
<text x="617.28" y="456.90" font-size="8.8" textLength="11.26" lengthAdjust="spacingAndGlyphs">0.4</text>
<text x="617.37" y="414.10" font-size="8.8" textLength="11.26" lengthAdjust="spacingAndGlyphs">0.6</text>
<text x="617.37" y="371.30" font-size="8.8" textLength="11.26" lengthAdjust="spacingAndGlyphs">0.8</text>
<text x="617.32" y="331.40" font-size="8.8" textLength="11.26" lengthAdjust="spacingAndGlyphs">1.0</text>
<text x="203.93" y="549.90" font-size="8.8" textLength="4.50" lengthAdjust="spacingAndGlyphs">0</text>
<text x="232.68" y="549.90" font-size="8.8" textLength="9.01" lengthAdjust="spacingAndGlyphs">50</text>
<text x="261.29" y="549.90" font-size="8.8" textLength="13.51" lengthAdjust="spacingAndGlyphs">100</text>
<text x="292.29" y="549.90" font-size="8.8" textLength="13.51" lengthAdjust="spacingAndGlyphs">150</text>
<text x="323.40" y="549.90" font-size="8.8" textLength="13.51" lengthAdjust="spacingAndGlyphs">200</text>
<text x="354.40" y="549.90" font-size="8.8" textLength="13.51" lengthAdjust="spacingAndGlyphs">250</text>
<text x="415.93" y="549.90" font-size="8.8" textLength="4.50" lengthAdjust="spacingAndGlyphs">0</text>
<text x="444.68" y="549.90" font-size="8.8" textLength="9.01" lengthAdjust="spacingAndGlyphs">50</text>
<text x="473.29" y="549.90" font-size="8.8" textLength="13.51" lengthAdjust="spacingAndGlyphs">100</text>
<text x="504.29" y="549.90" font-size="8.8" textLength="13.51" lengthAdjust="spacingAndGlyphs">150</text>
<text x="535.40" y="549.90" font-size="8.8" textLength="13.51" lengthAdjust="spacingAndGlyphs">200</text>
<text x="566.40" y="549.90" font-size="8.8" textLength="13.51" lengthAdjust="spacingAndGlyphs">250</text>
<text x="628.93" y="549.90" font-size="8.8" textLength="4.50" lengthAdjust="spacingAndGlyphs">0</text>
<text x="657.68" y="549.90" font-size="8.8" textLength="9.01" lengthAdjust="spacingAndGlyphs">50</text>
<text x="686.29" y="549.90" font-size="8.8" textLength="13.51" lengthAdjust="spacingAndGlyphs">100</text>
<text x="717.29" y="549.90" font-size="8.8" textLength="13.51" lengthAdjust="spacingAndGlyphs">150</text>
<text x="748.40" y="549.90" font-size="8.8" textLength="13.51" lengthAdjust="spacingAndGlyphs">200</text>
<text x="779.40" y="549.90" font-size="8.8" textLength="13.51" lengthAdjust="spacingAndGlyphs">250</text>
<text x="278.50" y="558.70" font-size="8.3" textLength="11.10" lengthAdjust="spacingAndGlyphs">rad</text>
<text x="487.11" y="558.70" font-size="8.3" textLength="18.19" lengthAdjust="spacingAndGlyphs">RAD</text>
<text x="706.33" y="558.70" font-size="8.3" textLength="6.07" lengthAdjust="spacingAndGlyphs">R</text>
<text transform="translate(167.00 440.47) rotate(-90)" x="0" y="0" font-size="8.3" textLength="17.00" lengthAdjust="spacingAndGlyphs">m-Q</text>
<text transform="translate(396.40 439.34) rotate(-90)" x="0" y="0" font-size="8.0" textLength="13.50" lengthAdjust="spacingAndGlyphs">vrot</text>
<text transform="translate(610.20 471.57) rotate(-90)" x="0" y="0" font-size="8.0" textLength="78.08" lengthAdjust="spacingAndGlyphs">FT/FR_0 - quadrants</text>
<text x="282.63" y="321.50" font-size="10.4" textLength="303.63" lengthAdjust="spacingAndGlyphs">SFITS=SEEING 0.930 + SERSIC=[9692.30, 0.638000, 0.499400]</text>
<text x="592.57" y="321.50" font-size="10.4" textLength="59.00" lengthAdjust="spacingAndGlyphs">23-Apr-2009</text>
<text x="655.33" y="321.50" font-size="10.4" textLength="54.16" lengthAdjust="spacingAndGlyphs">12:23:49.00</text>
<text x="641.06" y="342.60" font-size="10.6" textLength="67.27" lengthAdjust="spacingAndGlyphs">Q_B=  0.137</text>
<text x="636.32" y="355.40" font-size="10.6" textLength="75.06" lengthAdjust="spacingAndGlyphs">dQ_B=  0.006</text>
<text x="636.72" y="368.40" font-size="10.6" textLength="68.54" lengthAdjust="spacingAndGlyphs">rQ_B=   79.0</text>
<text x="640.62" y="380.70" font-size="10.6" textLength="59.62" lengthAdjust="spacingAndGlyphs">z0= 38.970</text>
</svg></body></html>
